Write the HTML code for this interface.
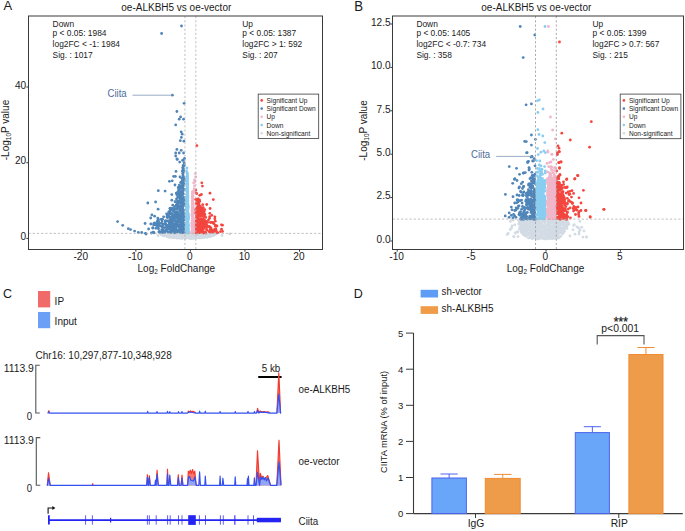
<!DOCTYPE html>
<html><head><meta charset="utf-8"><style>
html,body{margin:0;padding:0;background:#fff;}
svg{display:block;font-family:"Liberation Sans", sans-serif;}
</style></head><body>
<svg width="685" height="531" viewBox="0 0 685 531">
<rect width="685" height="531" fill="#fff"/>
<text transform="translate(3.40,10.40) scale(1,1.045)" font-size="13.0" fill="#1a1a1a" text-anchor="start" >A</text>
<text transform="translate(176.30,11.30) scale(1,1.045)" font-size="10" fill="#1a1a1a" text-anchor="middle" >oe-ALKBH5 vs oe-vector</text>
<g fill="#d3dbe4"><circle cx="185.3" cy="236.4" r="1.4"/><circle cx="211.8" cy="235.9" r="1.4"/><circle cx="188.4" cy="236.5" r="1.4"/><circle cx="170.3" cy="236.2" r="1.4"/><circle cx="195.3" cy="237.6" r="1.4"/><circle cx="165.3" cy="235.1" r="1.4"/><circle cx="198.8" cy="233.8" r="1.4"/><circle cx="196.6" cy="236.7" r="1.4"/><circle cx="168.8" cy="233.7" r="1.4"/><circle cx="189.6" cy="233.9" r="1.4"/><circle cx="170.7" cy="234.8" r="1.4"/><circle cx="184.7" cy="237.8" r="1.4"/><circle cx="189.1" cy="236.8" r="1.4"/><circle cx="188.0" cy="236.9" r="1.4"/><circle cx="185.6" cy="235.0" r="1.4"/><circle cx="207.1" cy="237.1" r="1.4"/><circle cx="177.7" cy="234.7" r="1.4"/><circle cx="176.2" cy="234.0" r="1.4"/><circle cx="202.9" cy="235.6" r="1.4"/><circle cx="207.4" cy="235.5" r="1.4"/><circle cx="211.0" cy="235.9" r="1.4"/><circle cx="203.6" cy="234.9" r="1.4"/><circle cx="164.9" cy="235.3" r="1.4"/><circle cx="166.6" cy="234.8" r="1.4"/><circle cx="165.7" cy="233.9" r="1.4"/><circle cx="204.6" cy="234.5" r="1.4"/><circle cx="191.3" cy="235.8" r="1.4"/><circle cx="170.7" cy="237.3" r="1.4"/><circle cx="167.3" cy="236.8" r="1.4"/><circle cx="166.5" cy="235.7" r="1.4"/><circle cx="171.9" cy="234.9" r="1.4"/><circle cx="177.0" cy="238.0" r="1.4"/><circle cx="171.8" cy="235.6" r="1.4"/><circle cx="207.8" cy="236.8" r="1.4"/><circle cx="171.9" cy="234.9" r="1.4"/><circle cx="203.3" cy="235.2" r="1.4"/><circle cx="176.6" cy="234.0" r="1.4"/><circle cx="173.6" cy="236.6" r="1.4"/><circle cx="180.8" cy="235.9" r="1.4"/><circle cx="192.2" cy="237.9" r="1.4"/><circle cx="170.2" cy="234.4" r="1.4"/><circle cx="174.0" cy="234.5" r="1.4"/><circle cx="209.4" cy="236.6" r="1.4"/><circle cx="183.6" cy="234.1" r="1.4"/><circle cx="173.4" cy="237.1" r="1.4"/><circle cx="174.4" cy="237.7" r="1.4"/><circle cx="193.4" cy="235.1" r="1.4"/><circle cx="169.8" cy="237.2" r="1.4"/><circle cx="163.9" cy="234.7" r="1.4"/><circle cx="191.3" cy="237.9" r="1.4"/><circle cx="194.4" cy="235.0" r="1.4"/><circle cx="211.4" cy="234.6" r="1.4"/><circle cx="185.0" cy="233.9" r="1.4"/><circle cx="169.9" cy="235.4" r="1.4"/><circle cx="192.0" cy="234.3" r="1.4"/><circle cx="180.3" cy="238.1" r="1.4"/><circle cx="198.7" cy="236.5" r="1.4"/><circle cx="167.9" cy="233.8" r="1.4"/><circle cx="187.0" cy="237.3" r="1.4"/><circle cx="201.3" cy="237.1" r="1.4"/><circle cx="179.7" cy="237.0" r="1.4"/><circle cx="183.4" cy="237.6" r="1.4"/><circle cx="208.4" cy="236.5" r="1.4"/><circle cx="195.0" cy="235.5" r="1.4"/><circle cx="192.6" cy="236.6" r="1.4"/><circle cx="200.8" cy="235.5" r="1.4"/><circle cx="201.2" cy="236.5" r="1.4"/><circle cx="184.7" cy="237.8" r="1.4"/><circle cx="186.9" cy="234.8" r="1.4"/><circle cx="199.1" cy="236.1" r="1.4"/><circle cx="194.4" cy="238.2" r="1.4"/><circle cx="174.3" cy="233.7" r="1.4"/><circle cx="176.9" cy="237.0" r="1.4"/><circle cx="171.3" cy="234.4" r="1.4"/><circle cx="184.7" cy="238.1" r="1.4"/><circle cx="178.3" cy="236.9" r="1.4"/><circle cx="171.1" cy="235.8" r="1.4"/><circle cx="209.3" cy="235.5" r="1.4"/><circle cx="192.7" cy="235.2" r="1.4"/><circle cx="167.6" cy="236.1" r="1.4"/><circle cx="175.5" cy="234.4" r="1.4"/><circle cx="185.2" cy="235.0" r="1.4"/><circle cx="172.0" cy="235.7" r="1.4"/><circle cx="195.0" cy="236.1" r="1.4"/><circle cx="177.7" cy="237.8" r="1.4"/><circle cx="164.2" cy="233.8" r="1.4"/><circle cx="208.9" cy="233.8" r="1.4"/><circle cx="199.7" cy="236.5" r="1.4"/><circle cx="177.3" cy="237.6" r="1.4"/><circle cx="161.1" cy="234.3" r="1.4"/><circle cx="185.5" cy="233.7" r="1.4"/><circle cx="206.5" cy="234.8" r="1.4"/><circle cx="167.9" cy="233.8" r="1.4"/><circle cx="195.2" cy="235.8" r="1.4"/><circle cx="195.3" cy="236.9" r="1.4"/><circle cx="198.3" cy="234.6" r="1.4"/><circle cx="186.6" cy="234.5" r="1.4"/><circle cx="200.0" cy="234.5" r="1.4"/><circle cx="175.3" cy="235.3" r="1.4"/><circle cx="199.0" cy="236.2" r="1.4"/><circle cx="194.4" cy="237.4" r="1.4"/><circle cx="182.0" cy="237.6" r="1.4"/><circle cx="210.7" cy="234.0" r="1.4"/><circle cx="167.3" cy="235.9" r="1.4"/><circle cx="195.0" cy="238.1" r="1.4"/><circle cx="181.1" cy="236.4" r="1.4"/><circle cx="196.5" cy="234.6" r="1.4"/><circle cx="200.4" cy="237.7" r="1.4"/><circle cx="195.9" cy="237.2" r="1.4"/><circle cx="190.1" cy="237.6" r="1.4"/><circle cx="177.9" cy="238.1" r="1.4"/><circle cx="207.9" cy="235.3" r="1.4"/><circle cx="164.6" cy="235.8" r="1.4"/><circle cx="190.8" cy="237.4" r="1.4"/><circle cx="187.3" cy="233.7" r="1.4"/><circle cx="205.3" cy="233.9" r="1.4"/><circle cx="204.8" cy="234.5" r="1.4"/><circle cx="178.8" cy="237.5" r="1.4"/><circle cx="167.9" cy="234.3" r="1.4"/><circle cx="188.9" cy="237.2" r="1.4"/><circle cx="207.0" cy="237.0" r="1.4"/><circle cx="213.2" cy="234.0" r="1.4"/><circle cx="172.4" cy="236.2" r="1.4"/><circle cx="176.2" cy="237.2" r="1.4"/><circle cx="195.8" cy="236.2" r="1.4"/><circle cx="207.2" cy="236.4" r="1.4"/><circle cx="177.5" cy="235.5" r="1.4"/><circle cx="192.1" cy="234.6" r="1.4"/><circle cx="190.0" cy="236.1" r="1.4"/><circle cx="193.9" cy="233.7" r="1.4"/><circle cx="182.4" cy="237.6" r="1.4"/><circle cx="191.5" cy="236.1" r="1.4"/><circle cx="198.7" cy="233.9" r="1.4"/><circle cx="190.2" cy="235.7" r="1.4"/><circle cx="175.1" cy="236.0" r="1.4"/><circle cx="167.1" cy="235.8" r="1.4"/><circle cx="186.7" cy="235.2" r="1.4"/><circle cx="170.7" cy="236.7" r="1.4"/><circle cx="211.8" cy="234.2" r="1.4"/><circle cx="203.6" cy="233.7" r="1.4"/><circle cx="170.9" cy="234.7" r="1.4"/><circle cx="198.5" cy="235.2" r="1.4"/><circle cx="179.9" cy="236.7" r="1.4"/><circle cx="166.9" cy="236.2" r="1.4"/><circle cx="174.0" cy="234.6" r="1.4"/><circle cx="189.7" cy="235.8" r="1.4"/><circle cx="181.0" cy="235.7" r="1.4"/><circle cx="189.6" cy="234.4" r="1.4"/><circle cx="171.4" cy="236.8" r="1.4"/><circle cx="195.8" cy="236.2" r="1.4"/><circle cx="207.7" cy="236.7" r="1.4"/><circle cx="208.0" cy="234.8" r="1.4"/><circle cx="201.5" cy="237.7" r="1.4"/><circle cx="210.5" cy="235.2" r="1.4"/><circle cx="209.7" cy="234.3" r="1.4"/><circle cx="173.4" cy="237.2" r="1.4"/><circle cx="174.5" cy="234.1" r="1.4"/><circle cx="206.6" cy="235.7" r="1.4"/><circle cx="204.2" cy="234.2" r="1.4"/><circle cx="182.6" cy="237.0" r="1.4"/><circle cx="161.0" cy="234.6" r="1.4"/><circle cx="214.2" cy="234.2" r="1.4"/><circle cx="188.3" cy="237.4" r="1.4"/><circle cx="188.2" cy="237.0" r="1.4"/><circle cx="170.6" cy="234.0" r="1.4"/><circle cx="165.9" cy="233.8" r="1.4"/><circle cx="190.9" cy="236.2" r="1.4"/><circle cx="191.8" cy="234.3" r="1.4"/><circle cx="170.3" cy="234.6" r="1.4"/><circle cx="211.9" cy="234.1" r="1.4"/><circle cx="185.9" cy="237.4" r="1.4"/><circle cx="178.3" cy="235.9" r="1.4"/><circle cx="188.9" cy="235.8" r="1.4"/><circle cx="193.7" cy="233.7" r="1.4"/><circle cx="199.3" cy="237.8" r="1.4"/><circle cx="170.2" cy="235.9" r="1.4"/><circle cx="201.4" cy="235.6" r="1.4"/><circle cx="170.9" cy="234.4" r="1.4"/><circle cx="188.7" cy="233.7" r="1.4"/><circle cx="199.5" cy="237.9" r="1.4"/><circle cx="195.2" cy="235.6" r="1.4"/><circle cx="193.6" cy="236.1" r="1.4"/><circle cx="201.7" cy="237.5" r="1.4"/><circle cx="205.6" cy="235.6" r="1.4"/><circle cx="198.9" cy="237.4" r="1.4"/><circle cx="202.9" cy="235.6" r="1.4"/><circle cx="200.5" cy="234.0" r="1.4"/><circle cx="179.1" cy="235.9" r="1.4"/><circle cx="195.8" cy="236.7" r="1.4"/><circle cx="197.3" cy="235.3" r="1.4"/><circle cx="196.9" cy="236.4" r="1.4"/><circle cx="189.9" cy="235.5" r="1.4"/><circle cx="199.3" cy="237.4" r="1.4"/><circle cx="214.9" cy="233.7" r="1.4"/><circle cx="194.5" cy="237.3" r="1.4"/><circle cx="174.4" cy="235.6" r="1.4"/><circle cx="162.8" cy="234.6" r="1.4"/><circle cx="181.0" cy="234.1" r="1.4"/><circle cx="190.8" cy="236.1" r="1.4"/><circle cx="205.3" cy="234.0" r="1.4"/><circle cx="193.5" cy="237.4" r="1.4"/><circle cx="169.0" cy="236.0" r="1.4"/><circle cx="169.5" cy="236.1" r="1.4"/><circle cx="194.2" cy="233.9" r="1.4"/><circle cx="212.9" cy="235.7" r="1.4"/><circle cx="189.5" cy="236.6" r="1.4"/><circle cx="180.5" cy="235.0" r="1.4"/><circle cx="196.7" cy="236.4" r="1.4"/><circle cx="175.9" cy="237.2" r="1.4"/><circle cx="176.6" cy="233.7" r="1.4"/><circle cx="173.7" cy="233.8" r="1.4"/><circle cx="181.8" cy="238.1" r="1.4"/><circle cx="201.9" cy="233.9" r="1.4"/><circle cx="184.1" cy="236.0" r="1.4"/><circle cx="214.5" cy="234.8" r="1.4"/><circle cx="189.3" cy="238.3" r="1.4"/><circle cx="200.5" cy="235.9" r="1.4"/><circle cx="193.8" cy="234.2" r="1.4"/><circle cx="195.0" cy="235.9" r="1.4"/><circle cx="171.4" cy="233.9" r="1.4"/><circle cx="189.6" cy="234.2" r="1.4"/><circle cx="184.8" cy="236.9" r="1.4"/><circle cx="185.5" cy="234.9" r="1.4"/><circle cx="192.6" cy="235.7" r="1.4"/><circle cx="203.6" cy="236.3" r="1.4"/><circle cx="201.1" cy="234.8" r="1.4"/><circle cx="203.9" cy="236.7" r="1.4"/><circle cx="180.1" cy="235.0" r="1.4"/><circle cx="198.4" cy="236.4" r="1.4"/><circle cx="193.1" cy="236.8" r="1.4"/><circle cx="202.2" cy="234.5" r="1.4"/><circle cx="162.2" cy="233.9" r="1.4"/><circle cx="175.2" cy="235.7" r="1.4"/><circle cx="194.9" cy="234.1" r="1.4"/><circle cx="190.3" cy="234.0" r="1.4"/><circle cx="190.8" cy="236.8" r="1.4"/><circle cx="180.9" cy="236.0" r="1.4"/><circle cx="171.8" cy="235.3" r="1.4"/><circle cx="201.7" cy="237.8" r="1.4"/><circle cx="164.2" cy="234.2" r="1.4"/><circle cx="205.3" cy="236.7" r="1.4"/><circle cx="203.1" cy="234.7" r="1.4"/><circle cx="183.8" cy="234.9" r="1.4"/><circle cx="205.4" cy="235.4" r="1.4"/><circle cx="178.2" cy="236.3" r="1.4"/><circle cx="183.9" cy="235.4" r="1.4"/><circle cx="164.4" cy="234.0" r="1.4"/><circle cx="191.6" cy="236.0" r="1.4"/><circle cx="198.4" cy="235.1" r="1.4"/><circle cx="203.4" cy="234.0" r="1.4"/><circle cx="171.9" cy="236.9" r="1.4"/><circle cx="164.6" cy="235.1" r="1.4"/><circle cx="200.6" cy="237.1" r="1.4"/><circle cx="175.8" cy="234.3" r="1.4"/><circle cx="180.0" cy="237.2" r="1.4"/><circle cx="180.5" cy="234.2" r="1.4"/><circle cx="199.7" cy="236.4" r="1.4"/><circle cx="211.1" cy="235.8" r="1.4"/><circle cx="205.0" cy="235.1" r="1.4"/><circle cx="177.8" cy="235.6" r="1.4"/><circle cx="173.9" cy="235.4" r="1.4"/><circle cx="180.5" cy="235.4" r="1.4"/><circle cx="182.2" cy="235.5" r="1.4"/><circle cx="170.9" cy="236.4" r="1.4"/><circle cx="204.6" cy="236.3" r="1.4"/><circle cx="206.8" cy="236.4" r="1.4"/><circle cx="209.3" cy="235.0" r="1.4"/><circle cx="190.5" cy="236.4" r="1.4"/><circle cx="205.0" cy="233.9" r="1.4"/><circle cx="190.6" cy="237.5" r="1.4"/><circle cx="164.7" cy="234.0" r="1.4"/><circle cx="196.3" cy="234.8" r="1.4"/><circle cx="172.3" cy="237.4" r="1.4"/><circle cx="189.2" cy="237.4" r="1.4"/><circle cx="182.1" cy="235.3" r="1.4"/><circle cx="187.6" cy="236.3" r="1.4"/><circle cx="200.4" cy="237.1" r="1.4"/><circle cx="211.2" cy="235.7" r="1.4"/><circle cx="206.3" cy="236.9" r="1.4"/><circle cx="189.3" cy="237.2" r="1.4"/><circle cx="204.9" cy="235.7" r="1.4"/><circle cx="183.5" cy="234.3" r="1.4"/><circle cx="181.0" cy="234.4" r="1.4"/><circle cx="171.4" cy="235.7" r="1.4"/><circle cx="163.3" cy="235.1" r="1.4"/><circle cx="203.5" cy="234.5" r="1.4"/><circle cx="163.5" cy="235.9" r="1.4"/><circle cx="192.7" cy="238.1" r="1.4"/><circle cx="162.0" cy="234.1" r="1.4"/><circle cx="170.3" cy="234.7" r="1.4"/><circle cx="173.2" cy="237.2" r="1.4"/><circle cx="193.3" cy="234.7" r="1.4"/><circle cx="170.4" cy="235.0" r="1.4"/><circle cx="177.5" cy="236.3" r="1.4"/><circle cx="205.8" cy="236.0" r="1.4"/><circle cx="211.2" cy="235.3" r="1.4"/><circle cx="190.7" cy="238.4" r="1.4"/><circle cx="187.0" cy="234.7" r="1.4"/><circle cx="204.9" cy="235.5" r="1.4"/><circle cx="189.5" cy="236.2" r="1.4"/><circle cx="196.8" cy="234.8" r="1.4"/><circle cx="180.8" cy="237.6" r="1.4"/><circle cx="199.9" cy="236.6" r="1.4"/><circle cx="168.8" cy="234.4" r="1.4"/><circle cx="178.0" cy="234.9" r="1.4"/><circle cx="208.7" cy="236.2" r="1.4"/><circle cx="174.9" cy="236.3" r="1.4"/><circle cx="164.6" cy="234.9" r="1.4"/><circle cx="200.1" cy="234.1" r="1.4"/><circle cx="186.9" cy="235.9" r="1.4"/><circle cx="208.0" cy="235.1" r="1.4"/><circle cx="204.2" cy="235.7" r="1.4"/><circle cx="211.3" cy="234.1" r="1.4"/><circle cx="206.3" cy="234.6" r="1.4"/><circle cx="190.4" cy="236.2" r="1.4"/><circle cx="177.4" cy="235.2" r="1.4"/><circle cx="164.3" cy="235.1" r="1.4"/><circle cx="186.2" cy="237.2" r="1.4"/><circle cx="180.1" cy="237.0" r="1.4"/><circle cx="165.9" cy="235.6" r="1.4"/><circle cx="206.5" cy="236.9" r="1.4"/><circle cx="199.8" cy="234.8" r="1.4"/><circle cx="191.6" cy="235.9" r="1.4"/><circle cx="204.8" cy="234.6" r="1.4"/><circle cx="194.5" cy="235.1" r="1.4"/><circle cx="181.1" cy="236.3" r="1.4"/><circle cx="176.7" cy="235.3" r="1.4"/><circle cx="182.0" cy="236.9" r="1.4"/><circle cx="174.4" cy="234.6" r="1.4"/><circle cx="201.0" cy="235.2" r="1.4"/><circle cx="200.5" cy="235.3" r="1.4"/><circle cx="206.3" cy="234.1" r="1.4"/><circle cx="167.9" cy="234.1" r="1.4"/><circle cx="198.0" cy="237.1" r="1.4"/><circle cx="170.1" cy="235.6" r="1.4"/><circle cx="206.9" cy="236.6" r="1.4"/><circle cx="165.0" cy="234.7" r="1.4"/><circle cx="168.8" cy="234.2" r="1.4"/><circle cx="182.8" cy="234.0" r="1.4"/><circle cx="211.6" cy="235.7" r="1.4"/><circle cx="188.6" cy="236.8" r="1.4"/><circle cx="202.9" cy="237.7" r="1.4"/><circle cx="181.6" cy="235.3" r="1.4"/><circle cx="183.1" cy="233.7" r="1.4"/><circle cx="182.4" cy="237.1" r="1.4"/><circle cx="197.0" cy="236.6" r="1.4"/><circle cx="179.2" cy="236.9" r="1.4"/><circle cx="166.0" cy="235.5" r="1.4"/><circle cx="188.5" cy="237.5" r="1.4"/><circle cx="206.2" cy="236.7" r="1.4"/><circle cx="210.6" cy="236.3" r="1.4"/><circle cx="179.7" cy="236.1" r="1.4"/><circle cx="200.1" cy="237.8" r="1.4"/><circle cx="195.1" cy="234.6" r="1.4"/><circle cx="164.7" cy="234.8" r="1.4"/><circle cx="192.3" cy="237.1" r="1.4"/><circle cx="180.2" cy="235.9" r="1.4"/><circle cx="190.4" cy="236.4" r="1.4"/><circle cx="191.4" cy="234.9" r="1.4"/><circle cx="205.8" cy="236.6" r="1.4"/><circle cx="173.5" cy="236.5" r="1.4"/><circle cx="206.5" cy="234.5" r="1.4"/><circle cx="190.7" cy="234.0" r="1.4"/><circle cx="161.8" cy="234.5" r="1.4"/><circle cx="196.9" cy="235.1" r="1.4"/><circle cx="197.6" cy="237.3" r="1.4"/><circle cx="181.4" cy="236.6" r="1.4"/><circle cx="205.0" cy="233.7" r="1.4"/><circle cx="171.2" cy="235.9" r="1.4"/><circle cx="168.0" cy="235.5" r="1.4"/><circle cx="191.9" cy="234.5" r="1.4"/><circle cx="189.1" cy="234.9" r="1.4"/><circle cx="191.8" cy="235.3" r="1.4"/><circle cx="195.9" cy="233.8" r="1.4"/><circle cx="197.6" cy="234.3" r="1.4"/><circle cx="186.3" cy="235.7" r="1.4"/><circle cx="194.9" cy="237.0" r="1.4"/><circle cx="202.4" cy="237.4" r="1.4"/><circle cx="182.9" cy="235.8" r="1.4"/><circle cx="191.7" cy="238.1" r="1.4"/><circle cx="189.5" cy="236.2" r="1.4"/><circle cx="184.2" cy="238.1" r="1.4"/><circle cx="178.0" cy="233.9" r="1.4"/><circle cx="201.0" cy="236.6" r="1.4"/><circle cx="202.1" cy="235.1" r="1.4"/><circle cx="193.2" cy="233.9" r="1.4"/><circle cx="167.0" cy="235.8" r="1.4"/><circle cx="188.1" cy="235.6" r="1.4"/><circle cx="189.5" cy="234.8" r="1.4"/><circle cx="177.2" cy="235.6" r="1.4"/><circle cx="173.2" cy="233.9" r="1.4"/><circle cx="197.3" cy="237.9" r="1.4"/><circle cx="183.6" cy="237.6" r="1.4"/><circle cx="172.4" cy="237.3" r="1.4"/><circle cx="191.7" cy="238.1" r="1.4"/><circle cx="166.9" cy="236.3" r="1.4"/><circle cx="213.3" cy="233.6" r="1.4"/><circle cx="173.7" cy="235.1" r="1.4"/><circle cx="178.2" cy="233.9" r="1.4"/><circle cx="182.2" cy="235.4" r="1.4"/><circle cx="192.8" cy="233.8" r="1.4"/><circle cx="177.2" cy="236.1" r="1.4"/><circle cx="186.5" cy="234.6" r="1.4"/><circle cx="210.2" cy="234.6" r="1.4"/><circle cx="206.9" cy="235.4" r="1.4"/><circle cx="186.5" cy="234.5" r="1.4"/><circle cx="171.3" cy="236.8" r="1.4"/><circle cx="162.8" cy="234.1" r="1.4"/><circle cx="200.6" cy="235.2" r="1.4"/><circle cx="199.9" cy="234.3" r="1.4"/><circle cx="184.9" cy="234.0" r="1.4"/><circle cx="172.5" cy="235.1" r="1.4"/><circle cx="199.8" cy="234.6" r="1.4"/><circle cx="170.1" cy="234.8" r="1.4"/><circle cx="197.2" cy="237.6" r="1.4"/><circle cx="180.9" cy="236.9" r="1.4"/><circle cx="209.5" cy="236.5" r="1.4"/><circle cx="172.8" cy="235.1" r="1.4"/><circle cx="175.5" cy="236.8" r="1.4"/><circle cx="184.7" cy="236.2" r="1.4"/><circle cx="189.7" cy="233.8" r="1.4"/><circle cx="193.6" cy="235.0" r="1.4"/><circle cx="174.1" cy="237.6" r="1.4"/><circle cx="164.9" cy="235.0" r="1.4"/><circle cx="202.3" cy="234.8" r="1.4"/><circle cx="175.6" cy="236.3" r="1.4"/><circle cx="215.3" cy="233.8" r="1.4"/><circle cx="185.9" cy="237.4" r="1.4"/><circle cx="181.5" cy="238.2" r="1.4"/><circle cx="188.0" cy="234.5" r="1.4"/><circle cx="191.1" cy="236.8" r="1.4"/><circle cx="180.1" cy="236.9" r="1.4"/><circle cx="203.8" cy="236.2" r="1.4"/><circle cx="188.3" cy="237.8" r="1.4"/><circle cx="198.3" cy="236.2" r="1.4"/><circle cx="213.3" cy="234.5" r="1.4"/><circle cx="203.7" cy="234.4" r="1.4"/><circle cx="194.1" cy="234.8" r="1.4"/><circle cx="184.7" cy="237.5" r="1.4"/><circle cx="204.0" cy="237.6" r="1.4"/><circle cx="173.2" cy="236.0" r="1.4"/><circle cx="172.4" cy="236.5" r="1.4"/><circle cx="187.9" cy="233.8" r="1.4"/><circle cx="193.4" cy="237.2" r="1.4"/><circle cx="192.1" cy="238.0" r="1.4"/><circle cx="170.1" cy="234.4" r="1.4"/><circle cx="184.3" cy="235.8" r="1.4"/><circle cx="174.7" cy="237.6" r="1.4"/><circle cx="191.9" cy="236.3" r="1.4"/><circle cx="204.3" cy="234.8" r="1.4"/><circle cx="168.2" cy="235.2" r="1.4"/><circle cx="162.4" cy="235.2" r="1.4"/><circle cx="194.8" cy="236.2" r="1.4"/><circle cx="174.8" cy="236.5" r="1.4"/><circle cx="169.6" cy="234.9" r="1.4"/><circle cx="168.9" cy="237.1" r="1.4"/><circle cx="163.4" cy="235.7" r="1.4"/><circle cx="180.4" cy="234.7" r="1.4"/><circle cx="214.4" cy="233.8" r="1.4"/><circle cx="187.4" cy="237.4" r="1.4"/><circle cx="215.2" cy="234.3" r="1.4"/><circle cx="185.5" cy="237.3" r="1.4"/><circle cx="162.2" cy="234.8" r="1.4"/><circle cx="209.8" cy="234.3" r="1.4"/><circle cx="182.0" cy="235.1" r="1.4"/><circle cx="183.8" cy="234.0" r="1.4"/><circle cx="202.7" cy="237.3" r="1.4"/><circle cx="172.9" cy="234.9" r="1.4"/><circle cx="190.9" cy="234.8" r="1.4"/><circle cx="185.8" cy="238.3" r="1.4"/><circle cx="180.4" cy="235.3" r="1.4"/><circle cx="196.4" cy="233.9" r="1.4"/><circle cx="179.2" cy="237.1" r="1.4"/><circle cx="208.4" cy="236.6" r="1.4"/><circle cx="209.6" cy="235.9" r="1.4"/><circle cx="182.0" cy="237.8" r="1.4"/><circle cx="181.3" cy="237.5" r="1.4"/><circle cx="172.1" cy="235.3" r="1.4"/><circle cx="170.3" cy="236.3" r="1.4"/><circle cx="169.2" cy="234.6" r="1.4"/><circle cx="172.0" cy="235.9" r="1.4"/><circle cx="177.3" cy="235.8" r="1.4"/><circle cx="208.3" cy="234.6" r="1.4"/><circle cx="181.4" cy="234.0" r="1.4"/><circle cx="198.7" cy="235.4" r="1.4"/><circle cx="175.4" cy="233.7" r="1.4"/><circle cx="170.2" cy="234.9" r="1.4"/><circle cx="182.0" cy="238.2" r="1.4"/><circle cx="200.1" cy="234.9" r="1.4"/><circle cx="180.2" cy="234.4" r="1.4"/><circle cx="212.5" cy="235.4" r="1.4"/><circle cx="202.9" cy="237.2" r="1.4"/><circle cx="210.8" cy="233.7" r="1.4"/><circle cx="178.0" cy="235.5" r="1.4"/><circle cx="178.2" cy="237.5" r="1.4"/><circle cx="189.1" cy="233.9" r="1.4"/><circle cx="182.1" cy="234.8" r="1.4"/><circle cx="162.3" cy="234.4" r="1.4"/><circle cx="193.3" cy="233.8" r="1.4"/><circle cx="177.5" cy="235.7" r="1.4"/><circle cx="190.5" cy="234.3" r="1.4"/><circle cx="199.6" cy="234.9" r="1.4"/><circle cx="200.6" cy="236.9" r="1.4"/><circle cx="168.2" cy="234.6" r="1.4"/><circle cx="175.7" cy="237.2" r="1.4"/><circle cx="182.7" cy="235.5" r="1.4"/><circle cx="208.5" cy="234.7" r="1.4"/><circle cx="176.4" cy="235.3" r="1.4"/><circle cx="172.1" cy="233.8" r="1.4"/><circle cx="191.7" cy="237.6" r="1.4"/><circle cx="172.1" cy="237.0" r="1.4"/><circle cx="208.6" cy="234.8" r="1.4"/><circle cx="195.4" cy="234.0" r="1.4"/><circle cx="184.0" cy="235.6" r="1.4"/><circle cx="163.4" cy="235.5" r="1.4"/><circle cx="178.4" cy="236.1" r="1.4"/><circle cx="175.7" cy="234.4" r="1.4"/><circle cx="182.5" cy="236.0" r="1.4"/><circle cx="169.3" cy="236.9" r="1.4"/><circle cx="173.4" cy="234.1" r="1.4"/><circle cx="179.1" cy="235.7" r="1.4"/><circle cx="168.4" cy="236.5" r="1.4"/><circle cx="199.3" cy="236.4" r="1.4"/><circle cx="199.2" cy="233.7" r="1.4"/><circle cx="181.9" cy="235.4" r="1.4"/><circle cx="163.5" cy="235.6" r="1.4"/><circle cx="192.8" cy="235.9" r="1.4"/><circle cx="178.2" cy="234.9" r="1.4"/><circle cx="209.9" cy="236.4" r="1.4"/><circle cx="174.7" cy="236.9" r="1.4"/><circle cx="170.4" cy="235.9" r="1.4"/><circle cx="180.3" cy="236.5" r="1.4"/><circle cx="195.1" cy="236.7" r="1.4"/><circle cx="183.0" cy="235.7" r="1.4"/><circle cx="175.5" cy="237.7" r="1.4"/><circle cx="209.3" cy="235.5" r="1.4"/><circle cx="210.9" cy="233.8" r="1.4"/><circle cx="167.6" cy="236.1" r="1.4"/><circle cx="177.3" cy="235.4" r="1.4"/><circle cx="214.7" cy="234.3" r="1.4"/><circle cx="170.8" cy="234.7" r="1.4"/><circle cx="198.1" cy="234.8" r="1.4"/><circle cx="182.1" cy="234.8" r="1.4"/><circle cx="187.6" cy="236.9" r="1.4"/><circle cx="190.7" cy="236.7" r="1.4"/><circle cx="191.4" cy="237.8" r="1.4"/><circle cx="179.4" cy="238.0" r="1.4"/><circle cx="177.5" cy="237.2" r="1.4"/><circle cx="198.9" cy="237.0" r="1.4"/><circle cx="168.9" cy="236.7" r="1.4"/><circle cx="187.5" cy="236.4" r="1.4"/><circle cx="180.7" cy="235.0" r="1.4"/><circle cx="201.9" cy="236.3" r="1.4"/><circle cx="173.3" cy="234.8" r="1.4"/><circle cx="178.2" cy="234.5" r="1.4"/><circle cx="188.8" cy="234.2" r="1.4"/><circle cx="163.5" cy="233.9" r="1.4"/><circle cx="166.3" cy="235.9" r="1.4"/><circle cx="203.2" cy="236.0" r="1.4"/><circle cx="208.7" cy="233.9" r="1.4"/><circle cx="174.2" cy="236.1" r="1.4"/><circle cx="204.6" cy="235.6" r="1.4"/><circle cx="200.1" cy="234.9" r="1.4"/><circle cx="200.1" cy="235.2" r="1.4"/><circle cx="178.7" cy="237.4" r="1.4"/><circle cx="191.8" cy="235.7" r="1.4"/><circle cx="199.6" cy="236.7" r="1.4"/><circle cx="167.0" cy="235.5" r="1.4"/><circle cx="197.5" cy="234.8" r="1.4"/><circle cx="170.3" cy="233.7" r="1.4"/><circle cx="192.8" cy="238.3" r="1.4"/><circle cx="214.3" cy="234.3" r="1.4"/><circle cx="198.5" cy="235.7" r="1.4"/><circle cx="195.4" cy="235.6" r="1.4"/><circle cx="166.6" cy="233.8" r="1.4"/><circle cx="176.0" cy="237.3" r="1.4"/><circle cx="215.6" cy="234.2" r="1.4"/><circle cx="178.5" cy="233.7" r="1.4"/><circle cx="190.4" cy="236.0" r="1.4"/><circle cx="180.9" cy="235.1" r="1.4"/><circle cx="175.9" cy="235.6" r="1.4"/><circle cx="194.6" cy="237.4" r="1.4"/><circle cx="198.9" cy="236.3" r="1.4"/><circle cx="204.8" cy="234.3" r="1.4"/><circle cx="169.8" cy="234.1" r="1.4"/><circle cx="212.3" cy="234.9" r="1.4"/><circle cx="187.3" cy="234.2" r="1.4"/><circle cx="178.1" cy="233.7" r="1.4"/><circle cx="191.7" cy="234.3" r="1.4"/><circle cx="195.0" cy="235.0" r="1.4"/><circle cx="172.7" cy="236.0" r="1.4"/><circle cx="180.5" cy="234.9" r="1.4"/><circle cx="162.9" cy="233.9" r="1.4"/><circle cx="210.0" cy="235.1" r="1.4"/><circle cx="164.4" cy="234.5" r="1.4"/><circle cx="187.1" cy="235.7" r="1.4"/><circle cx="205.2" cy="235.6" r="1.4"/><circle cx="196.8" cy="236.7" r="1.4"/><circle cx="184.8" cy="237.8" r="1.4"/><circle cx="200.6" cy="234.5" r="1.4"/><circle cx="161.5" cy="234.4" r="1.4"/><circle cx="166.7" cy="234.0" r="1.4"/><circle cx="180.1" cy="237.4" r="1.4"/><circle cx="177.4" cy="236.2" r="1.4"/><circle cx="213.7" cy="233.7" r="1.4"/><circle cx="189.5" cy="237.7" r="1.4"/><circle cx="204.4" cy="237.3" r="1.4"/><circle cx="182.4" cy="237.6" r="1.4"/><circle cx="215.2" cy="234.1" r="1.4"/><circle cx="213.2" cy="235.6" r="1.4"/><circle cx="199.5" cy="234.9" r="1.4"/><circle cx="210.9" cy="233.7" r="1.4"/><circle cx="192.3" cy="234.7" r="1.4"/><circle cx="181.8" cy="235.4" r="1.4"/><circle cx="196.8" cy="237.7" r="1.4"/><circle cx="180.4" cy="236.8" r="1.4"/><circle cx="179.8" cy="235.0" r="1.4"/><circle cx="210.7" cy="235.2" r="1.4"/><circle cx="165.3" cy="235.3" r="1.4"/><circle cx="201.5" cy="234.7" r="1.4"/><circle cx="201.6" cy="236.3" r="1.4"/><circle cx="198.1" cy="234.5" r="1.4"/><circle cx="165.9" cy="234.3" r="1.4"/><circle cx="179.6" cy="235.8" r="1.4"/><circle cx="182.6" cy="235.2" r="1.4"/><circle cx="190.1" cy="238.4" r="1.4"/><circle cx="178.0" cy="237.4" r="1.4"/><circle cx="172.3" cy="235.6" r="1.4"/><circle cx="199.5" cy="234.5" r="1.4"/><circle cx="175.3" cy="237.0" r="1.4"/><circle cx="213.1" cy="235.2" r="1.4"/><circle cx="170.3" cy="235.4" r="1.4"/><circle cx="215.4" cy="234.3" r="1.4"/><circle cx="195.5" cy="235.5" r="1.4"/><circle cx="196.1" cy="234.7" r="1.4"/><circle cx="194.5" cy="238.0" r="1.4"/><circle cx="208.0" cy="236.7" r="1.4"/><circle cx="188.3" cy="236.4" r="1.4"/><circle cx="198.6" cy="235.9" r="1.4"/><circle cx="197.3" cy="235.7" r="1.4"/><circle cx="181.5" cy="234.8" r="1.4"/><circle cx="193.6" cy="236.5" r="1.4"/><circle cx="188.9" cy="233.8" r="1.4"/><circle cx="195.1" cy="235.8" r="1.4"/><circle cx="193.2" cy="236.6" r="1.4"/><circle cx="212.2" cy="234.4" r="1.4"/><circle cx="201.3" cy="235.2" r="1.4"/><circle cx="182.5" cy="237.9" r="1.4"/><circle cx="187.5" cy="234.8" r="1.4"/><circle cx="207.1" cy="236.8" r="1.4"/><circle cx="229.7" cy="234.0" r="1.4"/><circle cx="222.0" cy="235.5" r="1.4"/><circle cx="158.0" cy="235.5" r="1.4"/></g>
<g fill="#4f85b8"><circle cx="182.5" cy="219.7" r="1.4"/><circle cx="169.0" cy="222.5" r="1.4"/><circle cx="180.1" cy="220.0" r="1.4"/><circle cx="171.3" cy="209.2" r="1.4"/><circle cx="182.6" cy="182.0" r="1.4"/><circle cx="183.6" cy="231.2" r="1.4"/><circle cx="175.6" cy="215.5" r="1.4"/><circle cx="180.0" cy="230.2" r="1.4"/><circle cx="183.5" cy="205.2" r="1.4"/><circle cx="167.8" cy="225.5" r="1.4"/><circle cx="183.3" cy="183.5" r="1.4"/><circle cx="165.3" cy="222.1" r="1.4"/><circle cx="178.5" cy="216.5" r="1.4"/><circle cx="169.6" cy="227.3" r="1.4"/><circle cx="182.4" cy="213.7" r="1.4"/><circle cx="184.1" cy="226.5" r="1.4"/><circle cx="183.8" cy="226.0" r="1.4"/><circle cx="181.2" cy="227.1" r="1.4"/><circle cx="181.9" cy="215.5" r="1.4"/><circle cx="182.5" cy="183.3" r="1.4"/><circle cx="182.7" cy="194.4" r="1.4"/><circle cx="184.2" cy="179.1" r="1.4"/><circle cx="180.2" cy="229.7" r="1.4"/><circle cx="176.4" cy="218.0" r="1.4"/><circle cx="177.7" cy="231.1" r="1.4"/><circle cx="167.1" cy="216.1" r="1.4"/><circle cx="159.6" cy="223.4" r="1.4"/><circle cx="173.7" cy="216.6" r="1.4"/><circle cx="164.9" cy="232.2" r="1.4"/><circle cx="181.6" cy="232.3" r="1.4"/><circle cx="180.7" cy="211.7" r="1.4"/><circle cx="168.7" cy="228.9" r="1.4"/><circle cx="182.1" cy="194.3" r="1.4"/><circle cx="182.0" cy="195.1" r="1.4"/><circle cx="183.6" cy="176.8" r="1.4"/><circle cx="182.8" cy="193.2" r="1.4"/><circle cx="179.3" cy="194.2" r="1.4"/><circle cx="177.0" cy="209.2" r="1.4"/><circle cx="183.3" cy="215.4" r="1.4"/><circle cx="182.9" cy="204.9" r="1.4"/><circle cx="179.6" cy="193.0" r="1.4"/><circle cx="184.1" cy="164.4" r="1.4"/><circle cx="180.1" cy="194.7" r="1.4"/><circle cx="183.8" cy="216.3" r="1.4"/><circle cx="182.9" cy="206.2" r="1.4"/><circle cx="176.6" cy="213.2" r="1.4"/><circle cx="184.2" cy="165.6" r="1.4"/><circle cx="175.4" cy="229.1" r="1.4"/><circle cx="172.0" cy="224.7" r="1.4"/><circle cx="174.2" cy="219.6" r="1.4"/><circle cx="161.5" cy="223.1" r="1.4"/><circle cx="177.7" cy="212.6" r="1.4"/><circle cx="158.3" cy="223.9" r="1.4"/><circle cx="179.3" cy="197.4" r="1.4"/><circle cx="171.2" cy="222.3" r="1.4"/><circle cx="183.6" cy="197.4" r="1.4"/><circle cx="180.0" cy="195.3" r="1.4"/><circle cx="166.6" cy="225.2" r="1.4"/><circle cx="184.0" cy="184.0" r="1.4"/><circle cx="167.8" cy="214.7" r="1.4"/><circle cx="171.2" cy="226.5" r="1.4"/><circle cx="179.8" cy="232.0" r="1.4"/><circle cx="179.8" cy="228.0" r="1.4"/><circle cx="177.3" cy="230.4" r="1.4"/><circle cx="173.7" cy="230.5" r="1.4"/><circle cx="180.0" cy="207.8" r="1.4"/><circle cx="177.0" cy="204.4" r="1.4"/><circle cx="184.3" cy="216.8" r="1.4"/><circle cx="163.4" cy="224.3" r="1.4"/><circle cx="180.8" cy="192.7" r="1.4"/><circle cx="152.7" cy="228.0" r="1.4"/><circle cx="174.4" cy="211.8" r="1.4"/><circle cx="171.4" cy="223.4" r="1.4"/><circle cx="179.3" cy="185.1" r="1.4"/><circle cx="182.0" cy="178.6" r="1.4"/><circle cx="172.5" cy="217.6" r="1.4"/><circle cx="162.1" cy="221.0" r="1.4"/><circle cx="182.5" cy="171.3" r="1.4"/><circle cx="182.7" cy="220.3" r="1.4"/><circle cx="170.8" cy="220.4" r="1.4"/><circle cx="176.8" cy="212.5" r="1.4"/><circle cx="180.1" cy="194.8" r="1.4"/><circle cx="171.0" cy="218.9" r="1.4"/><circle cx="181.0" cy="211.6" r="1.4"/><circle cx="182.9" cy="167.8" r="1.4"/><circle cx="176.3" cy="193.1" r="1.4"/><circle cx="175.6" cy="223.6" r="1.4"/><circle cx="153.0" cy="227.9" r="1.4"/><circle cx="180.7" cy="227.9" r="1.4"/><circle cx="182.3" cy="225.8" r="1.4"/><circle cx="177.4" cy="225.0" r="1.4"/><circle cx="183.5" cy="230.8" r="1.4"/><circle cx="176.1" cy="214.9" r="1.4"/><circle cx="179.1" cy="220.3" r="1.4"/><circle cx="174.4" cy="226.2" r="1.4"/><circle cx="183.2" cy="218.4" r="1.4"/><circle cx="180.0" cy="202.7" r="1.4"/><circle cx="179.7" cy="215.2" r="1.4"/><circle cx="181.1" cy="185.9" r="1.4"/><circle cx="162.8" cy="232.4" r="1.4"/><circle cx="180.8" cy="218.8" r="1.4"/><circle cx="168.7" cy="227.2" r="1.4"/><circle cx="176.3" cy="231.6" r="1.4"/><circle cx="171.9" cy="229.5" r="1.4"/><circle cx="183.5" cy="226.4" r="1.4"/><circle cx="180.6" cy="182.6" r="1.4"/><circle cx="182.6" cy="171.3" r="1.4"/><circle cx="172.6" cy="217.5" r="1.4"/><circle cx="178.9" cy="217.9" r="1.4"/><circle cx="173.7" cy="229.3" r="1.4"/><circle cx="175.8" cy="221.6" r="1.4"/><circle cx="171.5" cy="222.6" r="1.4"/><circle cx="164.7" cy="227.6" r="1.4"/><circle cx="181.6" cy="213.3" r="1.4"/><circle cx="180.2" cy="207.9" r="1.4"/><circle cx="182.4" cy="203.6" r="1.4"/><circle cx="172.6" cy="222.4" r="1.4"/><circle cx="165.8" cy="224.2" r="1.4"/><circle cx="169.6" cy="216.8" r="1.4"/><circle cx="183.1" cy="201.7" r="1.4"/><circle cx="166.9" cy="217.1" r="1.4"/><circle cx="183.8" cy="197.6" r="1.4"/><circle cx="167.6" cy="220.8" r="1.4"/><circle cx="170.8" cy="226.0" r="1.4"/><circle cx="182.1" cy="192.7" r="1.4"/><circle cx="184.5" cy="181.0" r="1.4"/><circle cx="174.6" cy="220.4" r="1.4"/><circle cx="182.7" cy="190.3" r="1.4"/><circle cx="182.0" cy="208.6" r="1.4"/><circle cx="177.9" cy="202.1" r="1.4"/><circle cx="178.8" cy="215.2" r="1.4"/><circle cx="173.6" cy="219.3" r="1.4"/><circle cx="172.1" cy="221.7" r="1.4"/><circle cx="181.2" cy="182.1" r="1.4"/><circle cx="181.7" cy="227.6" r="1.4"/><circle cx="183.1" cy="190.0" r="1.4"/><circle cx="173.5" cy="228.4" r="1.4"/><circle cx="168.6" cy="214.1" r="1.4"/><circle cx="182.4" cy="228.2" r="1.4"/><circle cx="175.6" cy="201.9" r="1.4"/><circle cx="182.2" cy="203.0" r="1.4"/><circle cx="175.6" cy="213.3" r="1.4"/><circle cx="179.1" cy="220.7" r="1.4"/><circle cx="161.8" cy="229.6" r="1.4"/><circle cx="175.7" cy="214.5" r="1.4"/><circle cx="179.7" cy="230.7" r="1.4"/><circle cx="177.5" cy="200.8" r="1.4"/><circle cx="181.1" cy="223.5" r="1.4"/><circle cx="169.8" cy="211.5" r="1.4"/><circle cx="161.0" cy="219.3" r="1.4"/><circle cx="181.6" cy="231.9" r="1.4"/><circle cx="154.7" cy="223.0" r="1.4"/><circle cx="183.9" cy="184.7" r="1.4"/><circle cx="182.7" cy="226.4" r="1.4"/><circle cx="162.9" cy="227.7" r="1.4"/><circle cx="179.3" cy="190.0" r="1.4"/><circle cx="166.3" cy="230.0" r="1.4"/><circle cx="178.1" cy="221.7" r="1.4"/><circle cx="153.9" cy="223.4" r="1.4"/><circle cx="183.5" cy="203.7" r="1.4"/><circle cx="180.8" cy="194.0" r="1.4"/><circle cx="181.9" cy="201.4" r="1.4"/><circle cx="168.9" cy="228.4" r="1.4"/><circle cx="173.4" cy="217.8" r="1.4"/><circle cx="177.6" cy="231.2" r="1.4"/><circle cx="175.8" cy="229.6" r="1.4"/><circle cx="172.5" cy="229.3" r="1.4"/><circle cx="183.0" cy="204.5" r="1.4"/><circle cx="183.1" cy="165.7" r="1.4"/><circle cx="182.1" cy="181.1" r="1.4"/><circle cx="174.1" cy="224.2" r="1.4"/><circle cx="179.0" cy="222.1" r="1.4"/><circle cx="183.4" cy="204.6" r="1.4"/><circle cx="183.2" cy="217.1" r="1.4"/><circle cx="183.5" cy="218.8" r="1.4"/><circle cx="178.4" cy="216.0" r="1.4"/><circle cx="170.2" cy="210.0" r="1.4"/><circle cx="181.0" cy="215.9" r="1.4"/><circle cx="172.2" cy="223.9" r="1.4"/><circle cx="175.6" cy="212.5" r="1.4"/><circle cx="180.4" cy="221.2" r="1.4"/><circle cx="183.7" cy="228.5" r="1.4"/><circle cx="172.2" cy="226.1" r="1.4"/><circle cx="163.1" cy="231.8" r="1.4"/><circle cx="184.6" cy="201.0" r="1.4"/><circle cx="182.9" cy="231.8" r="1.4"/><circle cx="157.8" cy="223.6" r="1.4"/><circle cx="182.2" cy="199.6" r="1.4"/><circle cx="165.5" cy="221.1" r="1.4"/><circle cx="177.7" cy="205.7" r="1.4"/><circle cx="175.8" cy="232.3" r="1.4"/><circle cx="179.7" cy="219.9" r="1.4"/><circle cx="169.5" cy="226.4" r="1.4"/><circle cx="167.6" cy="217.5" r="1.4"/><circle cx="177.3" cy="222.0" r="1.4"/><circle cx="176.6" cy="230.2" r="1.4"/><circle cx="181.6" cy="221.7" r="1.4"/><circle cx="177.9" cy="197.4" r="1.4"/><circle cx="172.2" cy="226.8" r="1.4"/><circle cx="178.8" cy="191.7" r="1.4"/><circle cx="166.7" cy="230.7" r="1.4"/><circle cx="182.9" cy="189.2" r="1.4"/><circle cx="158.9" cy="231.9" r="1.4"/><circle cx="176.5" cy="206.3" r="1.4"/><circle cx="167.9" cy="214.7" r="1.4"/><circle cx="162.9" cy="223.9" r="1.4"/><circle cx="176.8" cy="194.7" r="1.4"/><circle cx="183.9" cy="204.9" r="1.4"/><circle cx="181.4" cy="192.6" r="1.4"/><circle cx="180.8" cy="197.6" r="1.4"/><circle cx="182.7" cy="198.9" r="1.4"/><circle cx="157.3" cy="222.0" r="1.4"/><circle cx="178.9" cy="219.4" r="1.4"/><circle cx="182.9" cy="231.5" r="1.4"/><circle cx="167.9" cy="215.1" r="1.4"/><circle cx="174.4" cy="208.6" r="1.4"/><circle cx="181.5" cy="229.3" r="1.4"/><circle cx="181.6" cy="232.1" r="1.4"/><circle cx="183.0" cy="198.3" r="1.4"/><circle cx="174.9" cy="224.0" r="1.4"/><circle cx="178.2" cy="208.2" r="1.4"/><circle cx="157.6" cy="220.7" r="1.4"/><circle cx="169.9" cy="208.3" r="1.4"/><circle cx="183.4" cy="171.4" r="1.4"/><circle cx="184.3" cy="205.3" r="1.4"/><circle cx="183.4" cy="229.4" r="1.4"/><circle cx="184.5" cy="189.2" r="1.4"/><circle cx="184.2" cy="210.2" r="1.4"/><circle cx="183.8" cy="219.7" r="1.4"/><circle cx="151.4" cy="233.0" r="1.4"/><circle cx="171.0" cy="232.4" r="1.4"/><circle cx="184.6" cy="231.3" r="1.4"/><circle cx="178.0" cy="214.7" r="1.4"/><circle cx="182.9" cy="169.9" r="1.4"/><circle cx="172.8" cy="231.3" r="1.4"/><circle cx="183.9" cy="217.9" r="1.4"/><circle cx="180.3" cy="224.7" r="1.4"/><circle cx="181.3" cy="221.6" r="1.4"/><circle cx="183.6" cy="203.4" r="1.4"/><circle cx="167.8" cy="215.7" r="1.4"/><circle cx="180.0" cy="196.7" r="1.4"/><circle cx="166.9" cy="228.5" r="1.4"/><circle cx="175.9" cy="228.2" r="1.4"/><circle cx="175.9" cy="226.8" r="1.4"/><circle cx="159.5" cy="231.9" r="1.4"/><circle cx="159.3" cy="231.6" r="1.4"/><circle cx="183.5" cy="205.6" r="1.4"/><circle cx="153.9" cy="224.4" r="1.4"/><circle cx="172.7" cy="219.2" r="1.4"/><circle cx="162.5" cy="225.8" r="1.4"/><circle cx="181.1" cy="227.4" r="1.4"/><circle cx="159.6" cy="231.8" r="1.4"/><circle cx="183.8" cy="218.7" r="1.4"/><circle cx="178.3" cy="226.5" r="1.4"/><circle cx="180.8" cy="230.9" r="1.4"/><circle cx="182.4" cy="223.8" r="1.4"/><circle cx="177.5" cy="226.0" r="1.4"/><circle cx="180.2" cy="231.1" r="1.4"/><circle cx="174.2" cy="225.3" r="1.4"/><circle cx="179.1" cy="214.0" r="1.4"/><circle cx="161.4" cy="226.1" r="1.4"/><circle cx="164.6" cy="224.1" r="1.4"/><circle cx="174.1" cy="211.1" r="1.4"/><circle cx="179.8" cy="216.4" r="1.4"/><circle cx="157.0" cy="225.8" r="1.4"/><circle cx="171.0" cy="212.8" r="1.4"/><circle cx="168.2" cy="231.9" r="1.4"/><circle cx="177.5" cy="217.0" r="1.4"/><circle cx="168.3" cy="226.5" r="1.4"/><circle cx="170.8" cy="229.4" r="1.4"/><circle cx="173.7" cy="224.5" r="1.4"/><circle cx="169.5" cy="220.9" r="1.4"/><circle cx="177.9" cy="215.4" r="1.4"/><circle cx="170.8" cy="230.5" r="1.4"/><circle cx="162.8" cy="229.8" r="1.4"/><circle cx="184.4" cy="226.7" r="1.4"/><circle cx="178.7" cy="187.1" r="1.4"/><circle cx="184.3" cy="232.1" r="1.4"/><circle cx="183.3" cy="213.9" r="1.4"/><circle cx="183.7" cy="230.9" r="1.4"/><circle cx="175.6" cy="215.5" r="1.4"/><circle cx="170.0" cy="214.2" r="1.4"/><circle cx="169.0" cy="217.1" r="1.4"/><circle cx="174.9" cy="209.4" r="1.4"/><circle cx="173.9" cy="230.9" r="1.4"/><circle cx="179.0" cy="188.2" r="1.4"/><circle cx="165.7" cy="220.7" r="1.4"/><circle cx="183.8" cy="225.8" r="1.4"/><circle cx="158.0" cy="227.6" r="1.4"/><circle cx="181.7" cy="217.8" r="1.4"/><circle cx="173.7" cy="227.8" r="1.4"/><circle cx="175.4" cy="227.5" r="1.4"/><circle cx="173.1" cy="227.2" r="1.4"/><circle cx="175.0" cy="216.4" r="1.4"/><circle cx="181.1" cy="200.9" r="1.4"/><circle cx="171.8" cy="229.1" r="1.4"/><circle cx="177.0" cy="193.6" r="1.4"/><circle cx="179.9" cy="210.6" r="1.4"/><circle cx="182.2" cy="231.0" r="1.4"/><circle cx="180.4" cy="217.3" r="1.4"/><circle cx="176.2" cy="205.2" r="1.4"/><circle cx="181.0" cy="220.0" r="1.4"/><circle cx="160.0" cy="225.9" r="1.4"/><circle cx="172.8" cy="205.2" r="1.4"/><circle cx="182.7" cy="213.1" r="1.4"/><circle cx="175.1" cy="201.7" r="1.4"/><circle cx="180.0" cy="227.2" r="1.4"/><circle cx="180.5" cy="193.8" r="1.4"/><circle cx="183.0" cy="215.9" r="1.4"/><circle cx="167.6" cy="216.4" r="1.4"/><circle cx="177.2" cy="204.6" r="1.4"/><circle cx="182.4" cy="214.8" r="1.4"/><circle cx="168.5" cy="214.6" r="1.4"/><circle cx="182.8" cy="201.5" r="1.4"/><circle cx="158.5" cy="228.8" r="1.4"/><circle cx="182.8" cy="180.5" r="1.4"/><circle cx="181.9" cy="222.9" r="1.4"/><circle cx="172.3" cy="226.2" r="1.4"/><circle cx="180.3" cy="206.6" r="1.4"/><circle cx="155.9" cy="228.3" r="1.4"/><circle cx="183.5" cy="171.7" r="1.4"/><circle cx="184.2" cy="199.6" r="1.4"/><circle cx="179.9" cy="195.8" r="1.4"/><circle cx="182.0" cy="208.6" r="1.4"/><circle cx="174.9" cy="217.3" r="1.4"/><circle cx="170.4" cy="209.0" r="1.4"/><circle cx="184.2" cy="204.3" r="1.4"/><circle cx="178.1" cy="213.3" r="1.4"/><circle cx="166.6" cy="213.8" r="1.4"/><circle cx="177.4" cy="231.8" r="1.4"/><circle cx="179.0" cy="219.8" r="1.4"/><circle cx="183.2" cy="226.1" r="1.4"/><circle cx="182.7" cy="232.7" r="1.4"/><circle cx="182.0" cy="225.7" r="1.4"/><circle cx="153.1" cy="232.1" r="1.4"/><circle cx="173.4" cy="227.4" r="1.4"/><circle cx="183.1" cy="185.2" r="1.4"/><circle cx="183.9" cy="203.0" r="1.4"/><circle cx="177.3" cy="193.3" r="1.4"/><circle cx="184.3" cy="219.8" r="1.4"/><circle cx="182.1" cy="178.4" r="1.4"/><circle cx="182.5" cy="207.4" r="1.4"/><circle cx="181.9" cy="216.7" r="1.4"/><circle cx="177.2" cy="224.4" r="1.4"/><circle cx="180.2" cy="195.2" r="1.4"/><circle cx="183.0" cy="174.1" r="1.4"/><circle cx="176.8" cy="204.8" r="1.4"/><circle cx="182.7" cy="198.1" r="1.4"/><circle cx="173.3" cy="219.1" r="1.4"/><circle cx="169.9" cy="231.6" r="1.4"/><circle cx="182.6" cy="209.2" r="1.4"/><circle cx="171.8" cy="216.6" r="1.4"/><circle cx="176.2" cy="205.6" r="1.4"/><circle cx="183.3" cy="194.1" r="1.4"/><circle cx="153.5" cy="232.4" r="1.4"/><circle cx="180.9" cy="230.5" r="1.4"/><circle cx="182.2" cy="232.0" r="1.4"/><circle cx="175.9" cy="231.1" r="1.4"/><circle cx="168.8" cy="211.9" r="1.4"/><circle cx="168.7" cy="227.7" r="1.4"/><circle cx="164.0" cy="230.6" r="1.4"/><circle cx="183.6" cy="218.4" r="1.4"/><circle cx="184.1" cy="218.5" r="1.4"/><circle cx="184.2" cy="219.1" r="1.4"/><circle cx="183.1" cy="212.2" r="1.4"/><circle cx="166.6" cy="226.2" r="1.4"/><circle cx="172.4" cy="209.9" r="1.4"/><circle cx="179.4" cy="190.9" r="1.4"/><circle cx="182.5" cy="202.1" r="1.4"/><circle cx="179.7" cy="225.3" r="1.4"/><circle cx="159.3" cy="225.7" r="1.4"/><circle cx="180.1" cy="193.0" r="1.4"/><circle cx="177.9" cy="191.7" r="1.4"/><circle cx="181.6" cy="226.9" r="1.4"/><circle cx="178.6" cy="205.6" r="1.4"/><circle cx="172.6" cy="208.4" r="1.4"/><circle cx="164.5" cy="232.0" r="1.4"/><circle cx="181.7" cy="220.6" r="1.4"/><circle cx="154.1" cy="232.9" r="1.4"/><circle cx="162.0" cy="226.9" r="1.4"/><circle cx="180.9" cy="225.3" r="1.4"/><circle cx="176.9" cy="222.7" r="1.4"/><circle cx="169.4" cy="224.0" r="1.4"/><circle cx="180.2" cy="207.2" r="1.4"/><circle cx="156.8" cy="224.1" r="1.4"/><circle cx="179.8" cy="232.0" r="1.4"/><circle cx="180.2" cy="210.0" r="1.4"/><circle cx="180.4" cy="194.8" r="1.4"/><circle cx="180.5" cy="203.0" r="1.4"/><circle cx="153.8" cy="224.9" r="1.4"/><circle cx="178.4" cy="230.6" r="1.4"/><circle cx="183.9" cy="224.1" r="1.4"/><circle cx="177.8" cy="220.5" r="1.4"/><circle cx="181.7" cy="232.7" r="1.4"/><circle cx="181.7" cy="191.3" r="1.4"/><circle cx="179.3" cy="189.0" r="1.4"/><circle cx="184.1" cy="231.2" r="1.4"/><circle cx="169.1" cy="212.5" r="1.4"/><circle cx="182.7" cy="187.7" r="1.4"/><circle cx="183.2" cy="178.1" r="1.4"/><circle cx="183.1" cy="224.6" r="1.4"/><circle cx="180.1" cy="197.9" r="1.4"/><circle cx="174.6" cy="232.8" r="1.4"/><circle cx="182.4" cy="183.9" r="1.4"/><circle cx="184.1" cy="213.8" r="1.4"/><circle cx="184.5" cy="158.5" r="1.4"/><circle cx="176.5" cy="198.9" r="1.4"/><circle cx="183.0" cy="177.9" r="1.4"/><circle cx="172.6" cy="230.0" r="1.4"/><circle cx="183.3" cy="225.7" r="1.4"/><circle cx="182.9" cy="175.9" r="1.4"/><circle cx="179.3" cy="221.0" r="1.4"/><circle cx="177.1" cy="220.7" r="1.4"/><circle cx="170.5" cy="228.3" r="1.4"/><circle cx="184.0" cy="177.2" r="1.4"/><circle cx="177.7" cy="202.0" r="1.4"/><circle cx="173.7" cy="215.0" r="1.4"/><circle cx="179.0" cy="224.9" r="1.4"/><circle cx="179.7" cy="219.3" r="1.4"/><circle cx="174.5" cy="207.0" r="1.4"/><circle cx="170.7" cy="218.7" r="1.4"/><circle cx="174.4" cy="220.3" r="1.4"/><circle cx="178.8" cy="189.2" r="1.4"/><circle cx="177.9" cy="215.0" r="1.4"/><circle cx="180.3" cy="198.9" r="1.4"/><circle cx="176.2" cy="217.6" r="1.4"/><circle cx="182.2" cy="192.8" r="1.4"/><circle cx="184.4" cy="204.6" r="1.4"/><circle cx="183.1" cy="190.9" r="1.4"/><circle cx="183.3" cy="185.8" r="1.4"/><circle cx="161.6" cy="231.9" r="1.4"/><circle cx="172.2" cy="223.2" r="1.4"/><circle cx="181.9" cy="226.3" r="1.4"/><circle cx="163.6" cy="232.7" r="1.4"/><circle cx="174.1" cy="228.2" r="1.4"/><circle cx="169.9" cy="220.2" r="1.4"/><circle cx="182.3" cy="222.2" r="1.4"/><circle cx="169.6" cy="225.8" r="1.4"/><circle cx="170.7" cy="232.2" r="1.4"/><circle cx="173.3" cy="211.1" r="1.4"/><circle cx="177.8" cy="196.7" r="1.4"/><circle cx="180.2" cy="225.9" r="1.4"/><circle cx="182.9" cy="221.8" r="1.4"/><circle cx="183.1" cy="210.0" r="1.4"/><circle cx="178.1" cy="204.0" r="1.4"/><circle cx="177.3" cy="223.8" r="1.4"/><circle cx="172.5" cy="217.8" r="1.4"/><circle cx="170.8" cy="208.2" r="1.4"/><circle cx="182.9" cy="167.7" r="1.4"/><circle cx="181.7" cy="225.8" r="1.4"/><circle cx="183.7" cy="230.3" r="1.4"/><circle cx="172.8" cy="229.1" r="1.4"/><circle cx="182.8" cy="223.0" r="1.4"/><circle cx="178.3" cy="187.6" r="1.4"/><circle cx="173.9" cy="220.0" r="1.4"/><circle cx="160.0" cy="232.7" r="1.4"/><circle cx="182.2" cy="221.7" r="1.4"/><circle cx="179.5" cy="221.5" r="1.4"/><circle cx="181.7" cy="205.0" r="1.4"/><circle cx="171.4" cy="221.0" r="1.4"/><circle cx="174.1" cy="229.3" r="1.4"/><circle cx="163.6" cy="216.8" r="1.4"/><circle cx="180.8" cy="205.6" r="1.4"/><circle cx="177.3" cy="211.7" r="1.4"/><circle cx="180.3" cy="200.4" r="1.4"/><circle cx="180.0" cy="210.2" r="1.4"/><circle cx="184.1" cy="162.6" r="1.4"/><circle cx="182.6" cy="186.7" r="1.4"/><circle cx="182.8" cy="173.6" r="1.4"/><circle cx="182.4" cy="214.0" r="1.4"/><circle cx="182.4" cy="202.2" r="1.4"/><circle cx="179.1" cy="214.0" r="1.4"/><circle cx="158.6" cy="224.6" r="1.4"/><circle cx="181.1" cy="232.8" r="1.4"/><circle cx="180.3" cy="187.7" r="1.4"/><circle cx="178.9" cy="229.7" r="1.4"/><circle cx="174.3" cy="230.8" r="1.4"/><circle cx="181.0" cy="225.4" r="1.4"/><circle cx="182.0" cy="220.0" r="1.4"/><circle cx="178.9" cy="220.7" r="1.4"/><circle cx="181.3" cy="197.4" r="1.4"/><circle cx="184.3" cy="218.5" r="1.4"/><circle cx="171.8" cy="218.2" r="1.4"/><circle cx="172.5" cy="215.4" r="1.4"/><circle cx="180.2" cy="186.8" r="1.4"/><circle cx="183.1" cy="230.9" r="1.4"/><circle cx="182.1" cy="229.4" r="1.4"/><circle cx="183.4" cy="165.9" r="1.4"/><circle cx="180.2" cy="207.1" r="1.4"/><circle cx="172.3" cy="213.7" r="1.4"/><circle cx="183.2" cy="171.0" r="1.4"/><circle cx="181.8" cy="215.1" r="1.4"/><circle cx="162.4" cy="230.3" r="1.4"/><circle cx="181.1" cy="231.1" r="1.4"/><circle cx="183.6" cy="169.1" r="1.4"/><circle cx="182.7" cy="229.4" r="1.4"/><circle cx="171.0" cy="224.0" r="1.4"/><circle cx="174.2" cy="227.8" r="1.4"/><circle cx="177.3" cy="204.7" r="1.4"/><circle cx="181.1" cy="188.0" r="1.4"/><circle cx="183.9" cy="224.3" r="1.4"/><circle cx="180.5" cy="231.3" r="1.4"/><circle cx="158.5" cy="221.2" r="1.4"/><circle cx="162.5" cy="219.2" r="1.4"/><circle cx="184.3" cy="223.2" r="1.4"/><circle cx="176.5" cy="206.1" r="1.4"/><circle cx="175.6" cy="225.6" r="1.4"/><circle cx="182.8" cy="183.2" r="1.4"/><circle cx="179.8" cy="227.4" r="1.4"/><circle cx="179.7" cy="200.3" r="1.4"/><circle cx="156.2" cy="225.1" r="1.4"/><circle cx="155.4" cy="224.8" r="1.4"/><circle cx="181.4" cy="202.9" r="1.4"/><circle cx="173.9" cy="228.8" r="1.4"/><circle cx="175.8" cy="227.7" r="1.4"/><circle cx="177.2" cy="206.7" r="1.4"/><circle cx="182.7" cy="200.2" r="1.4"/><circle cx="182.1" cy="222.1" r="1.4"/><circle cx="179.5" cy="201.3" r="1.4"/><circle cx="177.5" cy="218.1" r="1.4"/><circle cx="117.6" cy="221.6" r="1.4"/><circle cx="122.7" cy="225.3" r="1.4"/><circle cx="128.3" cy="228.7" r="1.4"/><circle cx="130.5" cy="229.6" r="1.4"/><circle cx="134.6" cy="231.1" r="1.4"/><circle cx="138.3" cy="232.5" r="1.4"/><circle cx="141.7" cy="232.5" r="1.4"/><circle cx="145.4" cy="233.3" r="1.4"/><circle cx="146.1" cy="234.0" r="1.4"/><circle cx="145.1" cy="223.5" r="1.4"/><circle cx="148.6" cy="229.0" r="1.4"/><circle cx="150.8" cy="224.0" r="1.4"/><circle cx="147.8" cy="203.0" r="1.4"/><circle cx="155.6" cy="202.0" r="1.4"/><circle cx="158.3" cy="190.7" r="1.4"/><circle cx="165.1" cy="191.1" r="1.4"/><circle cx="158.1" cy="209.2" r="1.4"/><circle cx="150.7" cy="218.0" r="1.4"/><circle cx="151.9" cy="214.9" r="1.4"/><circle cx="154.6" cy="216.2" r="1.4"/><circle cx="157.8" cy="218.1" r="1.4"/><circle cx="171.8" cy="194.6" r="1.4"/><circle cx="171.8" cy="200.2" r="1.4"/><circle cx="158.3" cy="219.5" r="1.4"/><circle cx="184.1" cy="103.3" r="1.4"/><circle cx="176.9" cy="111.5" r="1.4"/><circle cx="180.6" cy="116.9" r="1.4"/><circle cx="179.2" cy="119.2" r="1.4"/><circle cx="183.6" cy="119.2" r="1.4"/><circle cx="175.7" cy="124.9" r="1.4"/><circle cx="181.2" cy="131.9" r="1.4"/><circle cx="182.2" cy="134.2" r="1.4"/><circle cx="181.4" cy="137.4" r="1.4"/><circle cx="180.3" cy="140.7" r="1.4"/><circle cx="183.9" cy="141.2" r="1.4"/><circle cx="176.9" cy="149.4" r="1.4"/><circle cx="181.2" cy="150.3" r="1.4"/><circle cx="175.7" cy="153.0" r="1.4"/><circle cx="179.2" cy="153.0" r="1.4"/><circle cx="183.6" cy="153.0" r="1.4"/><circle cx="175.7" cy="156.0" r="1.4"/><circle cx="177.0" cy="159.0" r="1.4"/><circle cx="181.5" cy="26.0" r="1.4"/><circle cx="161.6" cy="33.5" r="1.4"/><circle cx="172.4" cy="95.2" r="1.4"/><circle cx="177.3" cy="159.4" r="1.4"/><circle cx="179.7" cy="162.1" r="1.4"/><circle cx="182.5" cy="160.3" r="1.4"/><circle cx="183.6" cy="160.0" r="1.4"/><circle cx="176.0" cy="171.4" r="1.4"/><circle cx="180.0" cy="177.0" r="1.4"/><circle cx="173.6" cy="176.4" r="1.4"/><circle cx="175.4" cy="176.4" r="1.4"/><circle cx="169.4" cy="181.3" r="1.4"/><circle cx="172.2" cy="180.8" r="1.4"/><circle cx="175.0" cy="185.0" r="1.4"/></g>
<g fill="#f3463f"><circle cx="198.5" cy="231.8" r="1.4"/><circle cx="202.2" cy="212.9" r="1.4"/><circle cx="199.7" cy="201.4" r="1.4"/><circle cx="203.8" cy="220.6" r="1.4"/><circle cx="196.6" cy="200.7" r="1.4"/><circle cx="198.6" cy="208.8" r="1.4"/><circle cx="203.3" cy="227.6" r="1.4"/><circle cx="201.8" cy="230.1" r="1.4"/><circle cx="201.8" cy="210.1" r="1.4"/><circle cx="211.1" cy="229.1" r="1.4"/><circle cx="200.3" cy="224.2" r="1.4"/><circle cx="199.9" cy="230.1" r="1.4"/><circle cx="197.8" cy="218.6" r="1.4"/><circle cx="196.5" cy="224.3" r="1.4"/><circle cx="200.9" cy="227.8" r="1.4"/><circle cx="196.5" cy="225.3" r="1.4"/><circle cx="198.2" cy="210.2" r="1.4"/><circle cx="203.3" cy="233.0" r="1.4"/><circle cx="197.1" cy="225.2" r="1.4"/><circle cx="197.9" cy="227.1" r="1.4"/><circle cx="196.2" cy="221.8" r="1.4"/><circle cx="202.5" cy="208.4" r="1.4"/><circle cx="198.5" cy="230.5" r="1.4"/><circle cx="196.9" cy="199.1" r="1.4"/><circle cx="197.5" cy="211.5" r="1.4"/><circle cx="200.3" cy="228.4" r="1.4"/><circle cx="196.5" cy="214.0" r="1.4"/><circle cx="195.6" cy="213.0" r="1.4"/><circle cx="197.6" cy="210.2" r="1.4"/><circle cx="204.7" cy="232.2" r="1.4"/><circle cx="202.0" cy="224.0" r="1.4"/><circle cx="202.1" cy="222.0" r="1.4"/><circle cx="201.2" cy="226.3" r="1.4"/><circle cx="197.3" cy="206.8" r="1.4"/><circle cx="203.2" cy="222.1" r="1.4"/><circle cx="211.1" cy="222.4" r="1.4"/><circle cx="198.5" cy="210.7" r="1.4"/><circle cx="197.4" cy="218.7" r="1.4"/><circle cx="195.7" cy="227.0" r="1.4"/><circle cx="214.3" cy="229.7" r="1.4"/><circle cx="197.1" cy="226.4" r="1.4"/><circle cx="197.3" cy="202.4" r="1.4"/><circle cx="202.6" cy="210.3" r="1.4"/><circle cx="197.1" cy="233.0" r="1.4"/><circle cx="217.9" cy="232.9" r="1.4"/><circle cx="204.7" cy="226.7" r="1.4"/><circle cx="196.1" cy="222.4" r="1.4"/><circle cx="198.6" cy="205.1" r="1.4"/><circle cx="195.7" cy="199.3" r="1.4"/><circle cx="199.4" cy="228.1" r="1.4"/><circle cx="196.3" cy="203.1" r="1.4"/><circle cx="210.5" cy="229.2" r="1.4"/><circle cx="201.1" cy="208.2" r="1.4"/><circle cx="206.4" cy="224.7" r="1.4"/><circle cx="200.0" cy="210.9" r="1.4"/><circle cx="204.1" cy="211.4" r="1.4"/><circle cx="202.6" cy="207.8" r="1.4"/><circle cx="210.2" cy="232.2" r="1.4"/><circle cx="195.7" cy="226.8" r="1.4"/><circle cx="199.6" cy="221.0" r="1.4"/><circle cx="198.6" cy="218.7" r="1.4"/><circle cx="197.3" cy="218.5" r="1.4"/><circle cx="205.1" cy="224.5" r="1.4"/><circle cx="198.9" cy="212.8" r="1.4"/><circle cx="197.1" cy="229.8" r="1.4"/><circle cx="200.5" cy="215.3" r="1.4"/><circle cx="197.0" cy="220.5" r="1.4"/><circle cx="201.8" cy="231.4" r="1.4"/><circle cx="200.1" cy="223.2" r="1.4"/><circle cx="203.3" cy="216.4" r="1.4"/><circle cx="197.4" cy="222.2" r="1.4"/><circle cx="196.9" cy="220.5" r="1.4"/><circle cx="197.6" cy="215.4" r="1.4"/><circle cx="196.9" cy="217.0" r="1.4"/><circle cx="197.0" cy="210.8" r="1.4"/><circle cx="203.1" cy="232.0" r="1.4"/><circle cx="200.2" cy="225.9" r="1.4"/><circle cx="207.6" cy="226.3" r="1.4"/><circle cx="202.8" cy="231.3" r="1.4"/><circle cx="197.7" cy="225.0" r="1.4"/><circle cx="201.8" cy="212.4" r="1.4"/><circle cx="203.1" cy="225.1" r="1.4"/><circle cx="201.6" cy="226.3" r="1.4"/><circle cx="198.7" cy="211.0" r="1.4"/><circle cx="204.3" cy="213.9" r="1.4"/><circle cx="198.2" cy="199.0" r="1.4"/><circle cx="213.1" cy="230.7" r="1.4"/><circle cx="196.3" cy="231.4" r="1.4"/><circle cx="211.7" cy="230.5" r="1.4"/><circle cx="203.6" cy="216.3" r="1.4"/><circle cx="204.8" cy="224.3" r="1.4"/><circle cx="204.4" cy="219.8" r="1.4"/><circle cx="197.5" cy="229.8" r="1.4"/><circle cx="203.2" cy="207.6" r="1.4"/><circle cx="198.7" cy="225.6" r="1.4"/><circle cx="197.4" cy="214.2" r="1.4"/><circle cx="196.0" cy="229.3" r="1.4"/><circle cx="198.0" cy="210.2" r="1.4"/><circle cx="207.6" cy="222.4" r="1.4"/><circle cx="203.9" cy="212.1" r="1.4"/><circle cx="199.6" cy="212.5" r="1.4"/><circle cx="200.8" cy="210.0" r="1.4"/><circle cx="196.5" cy="211.9" r="1.4"/><circle cx="195.5" cy="209.7" r="1.4"/><circle cx="198.2" cy="206.1" r="1.4"/><circle cx="197.4" cy="229.4" r="1.4"/><circle cx="198.1" cy="201.6" r="1.4"/><circle cx="216.1" cy="230.2" r="1.4"/><circle cx="200.1" cy="220.2" r="1.4"/><circle cx="197.0" cy="217.0" r="1.4"/><circle cx="199.5" cy="200.0" r="1.4"/><circle cx="200.6" cy="228.7" r="1.4"/><circle cx="196.3" cy="214.7" r="1.4"/><circle cx="197.2" cy="223.0" r="1.4"/><circle cx="196.0" cy="192.9" r="1.4"/><circle cx="199.3" cy="229.8" r="1.4"/><circle cx="198.8" cy="206.2" r="1.4"/><circle cx="199.5" cy="201.1" r="1.4"/><circle cx="196.5" cy="212.3" r="1.4"/><circle cx="199.8" cy="206.1" r="1.4"/><circle cx="196.5" cy="223.0" r="1.4"/><circle cx="207.1" cy="230.3" r="1.4"/><circle cx="202.0" cy="220.4" r="1.4"/><circle cx="199.0" cy="211.8" r="1.4"/><circle cx="201.0" cy="218.7" r="1.4"/><circle cx="196.0" cy="220.8" r="1.4"/><circle cx="202.7" cy="225.4" r="1.4"/><circle cx="196.3" cy="217.6" r="1.4"/><circle cx="202.4" cy="232.5" r="1.4"/><circle cx="197.1" cy="215.2" r="1.4"/><circle cx="201.3" cy="228.1" r="1.4"/><circle cx="196.7" cy="224.1" r="1.4"/><circle cx="198.1" cy="226.4" r="1.4"/><circle cx="197.1" cy="214.8" r="1.4"/><circle cx="210.1" cy="227.3" r="1.4"/><circle cx="197.8" cy="214.1" r="1.4"/><circle cx="196.2" cy="227.3" r="1.4"/><circle cx="197.1" cy="208.3" r="1.4"/><circle cx="204.7" cy="223.5" r="1.4"/><circle cx="198.7" cy="216.5" r="1.4"/><circle cx="197.3" cy="230.6" r="1.4"/><circle cx="198.3" cy="214.3" r="1.4"/><circle cx="200.4" cy="229.2" r="1.4"/><circle cx="203.6" cy="216.2" r="1.4"/><circle cx="198.9" cy="226.7" r="1.4"/><circle cx="199.5" cy="225.1" r="1.4"/><circle cx="198.4" cy="204.8" r="1.4"/><circle cx="196.9" cy="214.6" r="1.4"/><circle cx="204.1" cy="232.6" r="1.4"/><circle cx="201.0" cy="229.4" r="1.4"/><circle cx="201.2" cy="218.9" r="1.4"/><circle cx="206.2" cy="227.6" r="1.4"/><circle cx="198.9" cy="206.5" r="1.4"/><circle cx="197.1" cy="229.1" r="1.4"/><circle cx="202.6" cy="226.0" r="1.4"/><circle cx="205.9" cy="233.0" r="1.4"/><circle cx="200.8" cy="214.1" r="1.4"/><circle cx="195.9" cy="232.3" r="1.4"/><circle cx="209.3" cy="226.3" r="1.4"/><circle cx="207.9" cy="226.6" r="1.4"/><circle cx="195.6" cy="212.5" r="1.4"/><circle cx="198.8" cy="209.6" r="1.4"/><circle cx="209.3" cy="231.5" r="1.4"/><circle cx="203.3" cy="228.1" r="1.4"/><circle cx="205.1" cy="232.1" r="1.4"/><circle cx="200.2" cy="206.2" r="1.4"/><circle cx="200.9" cy="231.3" r="1.4"/><circle cx="196.5" cy="214.8" r="1.4"/><circle cx="201.9" cy="211.2" r="1.4"/><circle cx="202.3" cy="224.6" r="1.4"/><circle cx="198.4" cy="201.5" r="1.4"/><circle cx="200.3" cy="221.0" r="1.4"/><circle cx="203.5" cy="209.8" r="1.4"/><circle cx="201.8" cy="209.7" r="1.4"/><circle cx="204.3" cy="214.4" r="1.4"/><circle cx="202.3" cy="223.6" r="1.4"/><circle cx="197.8" cy="217.6" r="1.4"/><circle cx="209.9" cy="231.8" r="1.4"/><circle cx="197.8" cy="203.1" r="1.4"/><circle cx="197.5" cy="213.3" r="1.4"/><circle cx="197.1" cy="208.9" r="1.4"/><circle cx="197.0" cy="231.2" r="1.4"/><circle cx="207.0" cy="225.9" r="1.4"/><circle cx="203.6" cy="228.7" r="1.4"/><circle cx="200.0" cy="215.8" r="1.4"/><circle cx="198.0" cy="220.9" r="1.4"/><circle cx="206.3" cy="221.5" r="1.4"/><circle cx="198.5" cy="229.3" r="1.4"/><circle cx="199.6" cy="232.5" r="1.4"/><circle cx="197.3" cy="228.0" r="1.4"/><circle cx="196.2" cy="222.6" r="1.4"/><circle cx="202.7" cy="219.6" r="1.4"/><circle cx="201.4" cy="229.1" r="1.4"/><circle cx="196.6" cy="214.4" r="1.4"/><circle cx="195.9" cy="223.5" r="1.4"/><circle cx="196.4" cy="226.1" r="1.4"/><circle cx="205.2" cy="223.6" r="1.4"/><circle cx="203.0" cy="231.7" r="1.4"/><circle cx="199.4" cy="208.4" r="1.4"/><circle cx="202.7" cy="204.7" r="1.4"/><circle cx="195.6" cy="222.4" r="1.4"/><circle cx="198.9" cy="222.1" r="1.4"/><circle cx="196.1" cy="225.1" r="1.4"/><circle cx="198.9" cy="203.4" r="1.4"/><circle cx="198.2" cy="204.4" r="1.4"/><circle cx="204.3" cy="221.3" r="1.4"/><circle cx="197.7" cy="226.1" r="1.4"/><circle cx="199.5" cy="232.6" r="1.4"/><circle cx="198.5" cy="212.1" r="1.4"/><circle cx="203.1" cy="227.8" r="1.4"/><circle cx="199.6" cy="215.4" r="1.4"/><circle cx="201.4" cy="213.1" r="1.4"/><circle cx="200.8" cy="230.0" r="1.4"/><circle cx="196.7" cy="202.9" r="1.4"/><circle cx="200.1" cy="228.2" r="1.4"/><circle cx="200.8" cy="225.8" r="1.4"/><circle cx="206.1" cy="224.8" r="1.4"/><circle cx="196.8" cy="208.1" r="1.4"/><circle cx="195.9" cy="232.2" r="1.4"/><circle cx="199.8" cy="208.6" r="1.4"/><circle cx="203.1" cy="219.5" r="1.4"/><circle cx="198.4" cy="203.1" r="1.4"/><circle cx="198.8" cy="200.1" r="1.4"/><circle cx="206.6" cy="229.5" r="1.4"/><circle cx="201.5" cy="222.0" r="1.4"/><circle cx="205.5" cy="222.2" r="1.4"/><circle cx="196.3" cy="203.5" r="1.4"/><circle cx="199.0" cy="222.5" r="1.4"/><circle cx="201.6" cy="225.4" r="1.4"/><circle cx="196.2" cy="232.2" r="1.4"/><circle cx="202.1" cy="212.6" r="1.4"/><circle cx="213.3" cy="223.1" r="1.4"/><circle cx="213.7" cy="223.6" r="1.4"/><circle cx="202.6" cy="212.0" r="1.4"/><circle cx="209.5" cy="218.4" r="1.4"/><circle cx="212.8" cy="222.4" r="1.4"/><circle cx="217.0" cy="226.0" r="1.4"/><circle cx="204.2" cy="232.4" r="1.4"/><circle cx="202.0" cy="215.7" r="1.4"/><circle cx="208.4" cy="220.1" r="1.4"/><circle cx="199.7" cy="214.9" r="1.4"/><circle cx="215.7" cy="231.1" r="1.4"/><circle cx="210.3" cy="228.7" r="1.4"/><circle cx="211.8" cy="215.3" r="1.4"/><circle cx="203.9" cy="220.0" r="1.4"/><circle cx="210.3" cy="222.3" r="1.4"/><circle cx="215.4" cy="225.1" r="1.4"/><circle cx="215.2" cy="225.9" r="1.4"/><circle cx="202.6" cy="215.1" r="1.4"/><circle cx="201.1" cy="227.2" r="1.4"/><circle cx="215.7" cy="228.6" r="1.4"/><circle cx="205.7" cy="217.4" r="1.4"/><circle cx="220.4" cy="231.6" r="1.4"/><circle cx="199.2" cy="220.5" r="1.4"/><circle cx="204.9" cy="214.8" r="1.4"/><circle cx="199.7" cy="230.3" r="1.4"/><circle cx="202.5" cy="224.7" r="1.4"/><circle cx="204.8" cy="209.6" r="1.4"/><circle cx="214.9" cy="216.8" r="1.4"/><circle cx="203.1" cy="220.1" r="1.4"/><circle cx="201.6" cy="222.3" r="1.4"/><circle cx="209.7" cy="216.7" r="1.4"/><circle cx="221.5" cy="229.2" r="1.4"/><circle cx="204.1" cy="214.6" r="1.4"/><circle cx="214.6" cy="231.1" r="1.4"/><circle cx="214.8" cy="218.8" r="1.4"/><circle cx="212.6" cy="232.2" r="1.4"/><circle cx="202.5" cy="231.7" r="1.4"/><circle cx="221.4" cy="224.8" r="1.4"/><circle cx="199.4" cy="207.2" r="1.4"/><circle cx="196.9" cy="145.7" r="1.4"/><circle cx="201.8" cy="182.8" r="1.4"/><circle cx="202.4" cy="186.1" r="1.4"/><circle cx="210.0" cy="193.2" r="1.4"/><circle cx="213.3" cy="199.6" r="1.4"/><circle cx="206.7" cy="204.5" r="1.4"/><circle cx="210.1" cy="208.5" r="1.4"/><circle cx="209.8" cy="213.3" r="1.4"/><circle cx="215.3" cy="221.2" r="1.4"/><circle cx="222.5" cy="225.2" r="1.4"/><circle cx="222.5" cy="231.4" r="1.4"/><circle cx="217.1" cy="232.6" r="1.4"/><circle cx="211.0" cy="228.0" r="1.4"/><circle cx="195.8" cy="190.0" r="1.4"/><circle cx="196.7" cy="193.7" r="1.4"/><circle cx="199.7" cy="195.3" r="1.4"/><circle cx="201.4" cy="194.5" r="1.4"/></g>
<g fill="#89cdf1"><circle cx="187.4" cy="185.0" r="1.4"/><circle cx="187.9" cy="218.3" r="1.4"/><circle cx="187.1" cy="224.2" r="1.4"/><circle cx="188.2" cy="217.9" r="1.4"/><circle cx="187.4" cy="181.5" r="1.4"/><circle cx="187.3" cy="213.6" r="1.4"/><circle cx="187.1" cy="219.4" r="1.4"/><circle cx="187.5" cy="190.7" r="1.4"/><circle cx="187.3" cy="230.9" r="1.4"/><circle cx="188.1" cy="227.9" r="1.4"/><circle cx="188.0" cy="215.0" r="1.4"/><circle cx="187.1" cy="204.0" r="1.4"/><circle cx="187.2" cy="211.8" r="1.4"/><circle cx="186.9" cy="191.1" r="1.4"/><circle cx="186.8" cy="217.2" r="1.4"/><circle cx="187.0" cy="213.4" r="1.4"/><circle cx="187.1" cy="207.8" r="1.4"/><circle cx="186.2" cy="230.0" r="1.4"/><circle cx="186.9" cy="189.1" r="1.4"/><circle cx="187.4" cy="191.5" r="1.4"/><circle cx="188.0" cy="207.6" r="1.4"/><circle cx="187.1" cy="194.3" r="1.4"/><circle cx="187.3" cy="230.8" r="1.4"/><circle cx="187.4" cy="205.5" r="1.4"/><circle cx="188.1" cy="231.3" r="1.4"/><circle cx="187.8" cy="208.3" r="1.4"/><circle cx="186.9" cy="232.1" r="1.4"/><circle cx="187.9" cy="203.9" r="1.4"/><circle cx="186.6" cy="207.6" r="1.4"/><circle cx="187.6" cy="202.5" r="1.4"/><circle cx="187.4" cy="195.8" r="1.4"/><circle cx="187.2" cy="187.6" r="1.4"/><circle cx="186.5" cy="219.6" r="1.4"/><circle cx="186.8" cy="215.9" r="1.4"/><circle cx="187.6" cy="209.2" r="1.4"/><circle cx="187.3" cy="176.4" r="1.4"/><circle cx="188.2" cy="214.4" r="1.4"/><circle cx="188.0" cy="213.6" r="1.4"/><circle cx="188.1" cy="228.6" r="1.4"/><circle cx="186.7" cy="213.1" r="1.4"/><circle cx="186.8" cy="200.4" r="1.4"/><circle cx="187.3" cy="184.4" r="1.4"/><circle cx="187.7" cy="221.8" r="1.4"/><circle cx="186.7" cy="224.2" r="1.4"/><circle cx="186.9" cy="190.5" r="1.4"/><circle cx="186.9" cy="212.3" r="1.4"/><circle cx="187.8" cy="223.1" r="1.4"/><circle cx="187.0" cy="203.2" r="1.4"/><circle cx="187.9" cy="212.4" r="1.4"/><circle cx="187.8" cy="228.8" r="1.4"/><circle cx="187.6" cy="221.7" r="1.4"/><circle cx="187.4" cy="178.9" r="1.4"/><circle cx="187.2" cy="176.5" r="1.4"/><circle cx="187.1" cy="197.5" r="1.4"/><circle cx="187.7" cy="224.0" r="1.4"/><circle cx="187.9" cy="196.6" r="1.4"/><circle cx="187.3" cy="178.2" r="1.4"/><circle cx="186.5" cy="226.3" r="1.4"/><circle cx="186.9" cy="218.6" r="1.4"/><circle cx="186.4" cy="214.6" r="1.4"/><circle cx="187.5" cy="223.0" r="1.4"/><circle cx="186.8" cy="208.9" r="1.4"/><circle cx="187.2" cy="189.7" r="1.4"/><circle cx="187.1" cy="206.1" r="1.4"/><circle cx="187.3" cy="198.3" r="1.4"/><circle cx="187.5" cy="202.2" r="1.4"/><circle cx="186.6" cy="206.4" r="1.4"/><circle cx="186.8" cy="191.2" r="1.4"/><circle cx="187.2" cy="207.5" r="1.4"/><circle cx="187.4" cy="201.9" r="1.4"/><circle cx="187.2" cy="222.6" r="1.4"/><circle cx="188.1" cy="216.2" r="1.4"/><circle cx="187.3" cy="173.9" r="1.4"/><circle cx="187.3" cy="187.7" r="1.4"/><circle cx="187.5" cy="226.3" r="1.4"/><circle cx="187.1" cy="224.1" r="1.4"/><circle cx="187.7" cy="230.8" r="1.4"/><circle cx="186.5" cy="227.2" r="1.4"/><circle cx="187.5" cy="196.0" r="1.4"/><circle cx="187.6" cy="196.5" r="1.4"/><circle cx="188.2" cy="214.6" r="1.4"/><circle cx="187.3" cy="210.9" r="1.4"/><circle cx="187.9" cy="204.1" r="1.4"/><circle cx="186.9" cy="194.7" r="1.4"/><circle cx="188.4" cy="231.2" r="1.4"/><circle cx="186.8" cy="203.0" r="1.4"/><circle cx="186.9" cy="207.0" r="1.4"/><circle cx="187.5" cy="210.2" r="1.4"/><circle cx="187.4" cy="209.3" r="1.4"/><circle cx="187.6" cy="205.5" r="1.4"/><circle cx="187.0" cy="207.4" r="1.4"/><circle cx="187.3" cy="208.5" r="1.4"/><circle cx="188.3" cy="219.5" r="1.4"/><circle cx="187.4" cy="205.0" r="1.4"/><circle cx="187.6" cy="193.3" r="1.4"/><circle cx="187.3" cy="224.4" r="1.4"/><circle cx="186.8" cy="197.9" r="1.4"/><circle cx="186.9" cy="207.5" r="1.4"/><circle cx="187.1" cy="227.7" r="1.4"/><circle cx="188.1" cy="230.0" r="1.4"/><circle cx="186.6" cy="214.0" r="1.4"/><circle cx="187.0" cy="222.4" r="1.4"/><circle cx="187.6" cy="233.0" r="1.4"/><circle cx="187.2" cy="220.1" r="1.4"/><circle cx="187.1" cy="183.8" r="1.4"/><circle cx="186.8" cy="208.6" r="1.4"/><circle cx="187.3" cy="172.9" r="1.4"/><circle cx="187.6" cy="209.3" r="1.4"/><circle cx="187.8" cy="232.5" r="1.4"/><circle cx="187.0" cy="206.8" r="1.4"/><circle cx="187.1" cy="201.5" r="1.4"/><circle cx="187.0" cy="185.9" r="1.4"/><circle cx="187.1" cy="202.9" r="1.4"/><circle cx="186.6" cy="225.5" r="1.4"/><circle cx="186.7" cy="227.4" r="1.4"/><circle cx="187.3" cy="177.0" r="1.4"/><circle cx="186.9" cy="199.8" r="1.4"/><circle cx="186.8" cy="216.6" r="1.4"/><circle cx="187.6" cy="193.3" r="1.4"/><circle cx="188.1" cy="225.5" r="1.4"/><circle cx="187.2" cy="199.3" r="1.4"/><circle cx="186.9" cy="210.3" r="1.4"/><circle cx="187.3" cy="200.7" r="1.4"/><circle cx="187.3" cy="188.9" r="1.4"/><circle cx="188.0" cy="206.8" r="1.4"/><circle cx="186.6" cy="205.8" r="1.4"/><circle cx="187.5" cy="215.8" r="1.4"/><circle cx="187.6" cy="228.9" r="1.4"/><circle cx="187.1" cy="196.2" r="1.4"/><circle cx="187.6" cy="200.3" r="1.4"/><circle cx="187.2" cy="214.6" r="1.4"/><circle cx="187.8" cy="225.4" r="1.4"/><circle cx="186.8" cy="207.4" r="1.4"/><circle cx="187.2" cy="194.3" r="1.4"/><circle cx="186.9" cy="203.4" r="1.4"/><circle cx="187.3" cy="180.7" r="1.4"/><circle cx="187.4" cy="210.0" r="1.4"/><circle cx="188.3" cy="231.5" r="1.4"/><circle cx="187.1" cy="206.4" r="1.4"/><circle cx="186.9" cy="221.8" r="1.4"/><circle cx="187.4" cy="197.0" r="1.4"/><circle cx="187.3" cy="196.0" r="1.4"/><circle cx="186.8" cy="223.2" r="1.4"/><circle cx="187.3" cy="173.6" r="1.4"/><circle cx="187.4" cy="187.8" r="1.4"/><circle cx="187.0" cy="183.6" r="1.4"/><circle cx="188.2" cy="222.5" r="1.4"/><circle cx="186.5" cy="219.2" r="1.4"/><circle cx="187.0" cy="202.4" r="1.4"/><circle cx="187.0" cy="220.8" r="1.4"/><circle cx="187.5" cy="227.2" r="1.4"/><circle cx="187.2" cy="183.2" r="1.4"/><circle cx="187.6" cy="193.0" r="1.4"/><circle cx="187.4" cy="183.6" r="1.4"/><circle cx="187.8" cy="198.6" r="1.4"/><circle cx="186.9" cy="189.6" r="1.4"/><circle cx="186.6" cy="219.8" r="1.4"/><circle cx="187.6" cy="190.0" r="1.4"/><circle cx="188.0" cy="227.6" r="1.4"/><circle cx="187.8" cy="226.4" r="1.4"/><circle cx="187.9" cy="206.0" r="1.4"/><circle cx="187.7" cy="197.2" r="1.4"/><circle cx="188.3" cy="228.7" r="1.4"/><circle cx="188.0" cy="205.6" r="1.4"/><circle cx="187.1" cy="214.4" r="1.4"/><circle cx="187.4" cy="194.0" r="1.4"/><circle cx="187.6" cy="226.8" r="1.4"/><circle cx="186.9" cy="189.7" r="1.4"/><circle cx="187.7" cy="231.0" r="1.4"/><circle cx="187.5" cy="189.2" r="1.4"/><circle cx="186.3" cy="223.4" r="1.4"/><circle cx="187.7" cy="191.3" r="1.4"/><circle cx="188.1" cy="219.6" r="1.4"/><circle cx="186.9" cy="199.6" r="1.4"/><circle cx="187.7" cy="222.0" r="1.4"/><circle cx="187.1" cy="206.1" r="1.4"/><circle cx="187.6" cy="205.7" r="1.4"/><circle cx="186.2" cy="230.7" r="1.4"/><circle cx="188.2" cy="217.9" r="1.4"/><circle cx="186.8" cy="198.3" r="1.4"/><circle cx="187.6" cy="193.8" r="1.4"/><circle cx="186.2" cy="225.7" r="1.4"/><circle cx="187.5" cy="195.4" r="1.4"/><circle cx="187.5" cy="200.4" r="1.4"/><circle cx="188.4" cy="225.5" r="1.4"/><circle cx="187.7" cy="195.2" r="1.4"/><circle cx="187.4" cy="197.8" r="1.4"/><circle cx="186.8" cy="197.4" r="1.4"/><circle cx="186.6" cy="207.3" r="1.4"/><circle cx="187.9" cy="217.3" r="1.4"/><circle cx="187.6" cy="205.0" r="1.4"/><circle cx="187.3" cy="182.3" r="1.4"/><circle cx="187.5" cy="227.4" r="1.4"/><circle cx="187.0" cy="204.8" r="1.4"/><circle cx="188.0" cy="219.7" r="1.4"/><circle cx="188.0" cy="207.1" r="1.4"/><circle cx="186.6" cy="205.2" r="1.4"/><circle cx="187.5" cy="196.4" r="1.4"/><circle cx="187.7" cy="216.8" r="1.4"/><circle cx="187.8" cy="200.5" r="1.4"/><circle cx="188.0" cy="217.9" r="1.4"/><circle cx="186.6" cy="223.1" r="1.4"/><circle cx="187.3" cy="179.2" r="1.4"/><circle cx="187.5" cy="199.0" r="1.4"/><circle cx="188.1" cy="217.1" r="1.4"/><circle cx="188.0" cy="227.5" r="1.4"/><circle cx="186.7" cy="217.4" r="1.4"/><circle cx="187.4" cy="178.7" r="1.4"/><circle cx="187.2" cy="194.8" r="1.4"/><circle cx="187.5" cy="205.1" r="1.4"/><circle cx="188.2" cy="224.4" r="1.4"/><circle cx="187.7" cy="218.4" r="1.4"/><circle cx="187.1" cy="186.7" r="1.4"/><circle cx="187.4" cy="185.2" r="1.4"/><circle cx="188.2" cy="218.3" r="1.4"/><circle cx="187.1" cy="212.1" r="1.4"/><circle cx="188.1" cy="216.8" r="1.4"/><circle cx="187.3" cy="224.1" r="1.4"/><circle cx="186.7" cy="196.6" r="1.4"/><circle cx="187.8" cy="209.3" r="1.4"/><circle cx="187.0" cy="168.0" r="1.4"/><circle cx="186.6" cy="171.0" r="1.4"/><circle cx="187.5" cy="176.0" r="1.4"/><circle cx="186.5" cy="180.0" r="1.4"/></g>
<g fill="#f1b6c9"><circle cx="192.5" cy="232.1" r="1.4"/><circle cx="192.4" cy="200.3" r="1.4"/><circle cx="193.2" cy="227.3" r="1.4"/><circle cx="192.5" cy="225.9" r="1.4"/><circle cx="193.0" cy="224.5" r="1.4"/><circle cx="192.8" cy="224.9" r="1.4"/><circle cx="193.2" cy="231.1" r="1.4"/><circle cx="192.8" cy="215.0" r="1.4"/><circle cx="192.8" cy="231.8" r="1.4"/><circle cx="192.0" cy="232.5" r="1.4"/><circle cx="192.2" cy="215.3" r="1.4"/><circle cx="192.6" cy="197.1" r="1.4"/><circle cx="192.1" cy="226.2" r="1.4"/><circle cx="192.9" cy="202.3" r="1.4"/><circle cx="192.5" cy="217.5" r="1.4"/><circle cx="192.4" cy="232.2" r="1.4"/><circle cx="193.0" cy="208.6" r="1.4"/><circle cx="192.7" cy="227.3" r="1.4"/><circle cx="192.5" cy="223.7" r="1.4"/><circle cx="192.2" cy="214.4" r="1.4"/><circle cx="192.0" cy="229.4" r="1.4"/><circle cx="193.0" cy="221.3" r="1.4"/><circle cx="192.2" cy="232.9" r="1.4"/><circle cx="192.0" cy="224.4" r="1.4"/><circle cx="193.2" cy="232.7" r="1.4"/><circle cx="192.2" cy="229.9" r="1.4"/><circle cx="192.8" cy="229.1" r="1.4"/><circle cx="192.5" cy="203.8" r="1.4"/><circle cx="192.1" cy="222.2" r="1.4"/><circle cx="193.1" cy="206.8" r="1.4"/><circle cx="193.0" cy="232.8" r="1.4"/><circle cx="193.3" cy="230.4" r="1.4"/><circle cx="192.8" cy="207.5" r="1.4"/><circle cx="192.4" cy="211.8" r="1.4"/><circle cx="192.6" cy="231.9" r="1.4"/><circle cx="193.4" cy="227.9" r="1.4"/><circle cx="192.3" cy="210.3" r="1.4"/><circle cx="192.7" cy="223.3" r="1.4"/><circle cx="192.1" cy="215.4" r="1.4"/><circle cx="192.3" cy="207.6" r="1.4"/><circle cx="193.3" cy="219.1" r="1.4"/><circle cx="192.5" cy="201.0" r="1.4"/><circle cx="192.8" cy="203.2" r="1.4"/><circle cx="193.4" cy="232.8" r="1.4"/><circle cx="192.9" cy="195.0" r="1.4"/><circle cx="192.7" cy="226.2" r="1.4"/><circle cx="192.7" cy="208.9" r="1.4"/><circle cx="192.8" cy="196.7" r="1.4"/><circle cx="192.6" cy="213.9" r="1.4"/><circle cx="193.1" cy="223.1" r="1.4"/><circle cx="193.2" cy="231.6" r="1.4"/><circle cx="193.1" cy="231.0" r="1.4"/><circle cx="192.7" cy="227.3" r="1.4"/><circle cx="192.9" cy="204.3" r="1.4"/><circle cx="192.0" cy="226.9" r="1.4"/><circle cx="193.1" cy="223.1" r="1.4"/><circle cx="192.9" cy="231.4" r="1.4"/><circle cx="192.8" cy="214.5" r="1.4"/><circle cx="192.2" cy="212.5" r="1.4"/><circle cx="192.7" cy="216.4" r="1.4"/><circle cx="193.0" cy="218.0" r="1.4"/><circle cx="192.4" cy="209.4" r="1.4"/><circle cx="192.6" cy="217.9" r="1.4"/><circle cx="192.9" cy="196.5" r="1.4"/><circle cx="193.3" cy="221.9" r="1.4"/><circle cx="192.8" cy="231.7" r="1.4"/><circle cx="192.3" cy="210.7" r="1.4"/><circle cx="192.5" cy="209.0" r="1.4"/><circle cx="192.7" cy="215.2" r="1.4"/><circle cx="193.2" cy="230.4" r="1.4"/><circle cx="192.7" cy="222.0" r="1.4"/><circle cx="193.4" cy="230.1" r="1.4"/><circle cx="192.9" cy="225.0" r="1.4"/><circle cx="192.5" cy="206.1" r="1.4"/><circle cx="193.0" cy="230.0" r="1.4"/><circle cx="193.0" cy="212.6" r="1.4"/><circle cx="192.4" cy="202.6" r="1.4"/><circle cx="193.2" cy="219.3" r="1.4"/><circle cx="193.3" cy="218.5" r="1.4"/><circle cx="192.5" cy="204.8" r="1.4"/><circle cx="192.6" cy="209.4" r="1.4"/><circle cx="192.7" cy="232.5" r="1.4"/><circle cx="192.9" cy="205.3" r="1.4"/><circle cx="193.5" cy="230.4" r="1.4"/><circle cx="192.9" cy="204.7" r="1.4"/><circle cx="192.9" cy="229.5" r="1.4"/><circle cx="192.6" cy="192.4" r="1.4"/><circle cx="191.8" cy="232.3" r="1.4"/><circle cx="192.8" cy="219.1" r="1.4"/><circle cx="192.6" cy="206.0" r="1.4"/><circle cx="192.7" cy="193.8" r="1.4"/><circle cx="192.3" cy="228.5" r="1.4"/><circle cx="192.2" cy="210.0" r="1.4"/><circle cx="193.0" cy="214.5" r="1.4"/><circle cx="193.1" cy="211.7" r="1.4"/><circle cx="192.7" cy="191.5" r="1.4"/><circle cx="192.6" cy="196.1" r="1.4"/><circle cx="193.3" cy="226.7" r="1.4"/><circle cx="192.7" cy="225.7" r="1.4"/><circle cx="192.2" cy="232.8" r="1.4"/><circle cx="192.7" cy="215.5" r="1.4"/><circle cx="192.8" cy="232.9" r="1.4"/><circle cx="193.0" cy="216.0" r="1.4"/><circle cx="192.7" cy="198.5" r="1.4"/><circle cx="193.5" cy="231.7" r="1.4"/><circle cx="192.7" cy="215.9" r="1.4"/><circle cx="192.6" cy="216.8" r="1.4"/><circle cx="192.5" cy="208.9" r="1.4"/><circle cx="192.6" cy="193.0" r="1.4"/><circle cx="192.6" cy="222.4" r="1.4"/><circle cx="192.6" cy="197.8" r="1.4"/><circle cx="192.0" cy="223.3" r="1.4"/><circle cx="192.7" cy="212.4" r="1.4"/><circle cx="192.6" cy="212.2" r="1.4"/><circle cx="192.8" cy="193.6" r="1.4"/><circle cx="192.3" cy="211.7" r="1.4"/><circle cx="193.2" cy="223.0" r="1.4"/><circle cx="192.8" cy="195.7" r="1.4"/><circle cx="192.8" cy="209.0" r="1.4"/><circle cx="192.9" cy="227.6" r="1.4"/><circle cx="192.1" cy="225.5" r="1.4"/><circle cx="192.7" cy="230.6" r="1.4"/><circle cx="192.5" cy="209.4" r="1.4"/><circle cx="192.3" cy="220.3" r="1.4"/><circle cx="192.7" cy="198.0" r="1.4"/><circle cx="192.1" cy="231.5" r="1.4"/><circle cx="192.7" cy="217.8" r="1.4"/><circle cx="193.2" cy="229.6" r="1.4"/><circle cx="192.4" cy="209.4" r="1.4"/><circle cx="192.5" cy="197.0" r="1.4"/><circle cx="192.9" cy="205.3" r="1.4"/><circle cx="192.4" cy="221.6" r="1.4"/><circle cx="192.8" cy="229.9" r="1.4"/><circle cx="193.1" cy="210.7" r="1.4"/><circle cx="193.1" cy="229.8" r="1.4"/><circle cx="192.5" cy="207.6" r="1.4"/><circle cx="192.8" cy="200.2" r="1.4"/><circle cx="192.6" cy="221.5" r="1.4"/><circle cx="192.7" cy="193.4" r="1.4"/><circle cx="192.5" cy="214.8" r="1.4"/><circle cx="192.5" cy="228.0" r="1.4"/><circle cx="192.3" cy="216.2" r="1.4"/><circle cx="192.6" cy="196.3" r="1.4"/><circle cx="193.3" cy="224.6" r="1.4"/><circle cx="193.0" cy="223.6" r="1.4"/><circle cx="192.6" cy="225.7" r="1.4"/><circle cx="192.9" cy="227.3" r="1.4"/><circle cx="192.8" cy="207.3" r="1.4"/><circle cx="192.6" cy="225.4" r="1.4"/><circle cx="193.0" cy="207.8" r="1.4"/><circle cx="194.8" cy="182.0" r="1.4"/><circle cx="194.5" cy="186.0" r="1.4"/><circle cx="194.2" cy="189.0" r="1.4"/><circle cx="193.6" cy="192.0" r="1.4"/><circle cx="195.3" cy="173.6" r="1.4"/><circle cx="195.7" cy="177.0" r="1.4"/><circle cx="193.7" cy="183.0" r="1.4"/><circle cx="194.5" cy="180.0" r="1.4"/></g>
<line x1="28.50" y1="233.40" x2="322.50" y2="233.40" stroke="#b0b0b0" stroke-width="0.9" stroke-dasharray="2.2,2" stroke-opacity="0.9"/>
<line x1="184.95" y1="16.00" x2="184.95" y2="249.30" stroke="#b8b8b8" stroke-width="0.9" stroke-dasharray="2.2,2"/>
<line x1="195.85" y1="16.00" x2="195.85" y2="249.30" stroke="#b8b8b8" stroke-width="0.9" stroke-dasharray="2.2,2"/>
<rect x="28.5" y="16.0" width="294.00" height="233.50" fill="none" stroke="#3a3a3a" stroke-width="1.0"/>
<line x1="81.30" y1="249.50" x2="81.30" y2="251.70" stroke="#3a3a3a" stroke-width="1" />
<text transform="translate(80.70,259.80) scale(1,1.045)" font-size="10.1" fill="#1a1a1a" text-anchor="middle" >-20</text>
<line x1="135.85" y1="249.50" x2="135.85" y2="251.70" stroke="#3a3a3a" stroke-width="1" />
<text transform="translate(135.25,259.80) scale(1,1.045)" font-size="10.1" fill="#1a1a1a" text-anchor="middle" >-10</text>
<line x1="190.40" y1="249.50" x2="190.40" y2="251.70" stroke="#3a3a3a" stroke-width="1" />
<text transform="translate(189.80,259.80) scale(1,1.045)" font-size="10.1" fill="#1a1a1a" text-anchor="middle" >0</text>
<line x1="244.95" y1="249.50" x2="244.95" y2="251.70" stroke="#3a3a3a" stroke-width="1" />
<text transform="translate(244.35,259.80) scale(1,1.045)" font-size="10.1" fill="#1a1a1a" text-anchor="middle" >10</text>
<line x1="299.50" y1="249.50" x2="299.50" y2="251.70" stroke="#3a3a3a" stroke-width="1" />
<text transform="translate(298.90,259.80) scale(1,1.045)" font-size="10.1" fill="#1a1a1a" text-anchor="middle" >20</text>
<line x1="26.30" y1="238.40" x2="28.50" y2="238.40" stroke="#3a3a3a" stroke-width="1" />
<text transform="translate(26.20,240.00) scale(1,1.045)" font-size="10.1" fill="#1a1a1a" text-anchor="end" >0</text>
<line x1="26.30" y1="162.70" x2="28.50" y2="162.70" stroke="#3a3a3a" stroke-width="1" />
<text transform="translate(26.20,164.30) scale(1,1.045)" font-size="10.1" fill="#1a1a1a" text-anchor="end" >20</text>
<line x1="26.30" y1="87.00" x2="28.50" y2="87.00" stroke="#3a3a3a" stroke-width="1" />
<text transform="translate(26.20,88.60) scale(1,1.045)" font-size="10.1" fill="#1a1a1a" text-anchor="end" >40</text>
<text transform="translate(176.30,272.00) scale(1,1.045)" font-size="10" fill="#1a1a1a" text-anchor="middle" >Log<tspan font-size="6.5" dy="2">2</tspan><tspan dy="-2"> FoldChange</tspan></text>
<text transform="translate(8.6,130) rotate(-90)" font-size="10" fill="#1a1a1a" text-anchor="middle">-Log<tspan font-size="6.5" dy="2">10</tspan><tspan dy="-2">P value</tspan></text>
<text transform="translate(52.60,26.50) scale(1,1.045)" font-size="8.4" fill="#1a1a1a" text-anchor="start" >Down</text>
<text transform="translate(52.60,36.10) scale(1,1.045)" font-size="8.4" fill="#1a1a1a" text-anchor="start" >p &lt; 0.05: 1984</text>
<text transform="translate(52.60,47.20) scale(1,1.045)" font-size="8.4" fill="#1a1a1a" text-anchor="start" >log2FC &lt; -1: 1984</text>
<text transform="translate(52.60,58.30) scale(1,1.045)" font-size="8.4" fill="#1a1a1a" text-anchor="start" >Sig. : 1017</text>
<text transform="translate(242.30,26.50) scale(1,1.045)" font-size="8.4" fill="#1a1a1a" text-anchor="start" >Up</text>
<text transform="translate(242.30,36.10) scale(1,1.045)" font-size="8.4" fill="#1a1a1a" text-anchor="start" >p &lt; 0.05: 1387</text>
<text transform="translate(242.30,47.20) scale(1,1.045)" font-size="8.4" fill="#1a1a1a" text-anchor="start" >log2FC &gt; 1: 592</text>
<text transform="translate(242.30,58.30) scale(1,1.045)" font-size="8.4" fill="#1a1a1a" text-anchor="start" >Sig. : 207</text>
<rect x="258.2" y="94.1" width="60.5" height="44.4" fill="#fff" stroke="#3a3a3a" stroke-width="0.8"/>
<circle cx="261.7" cy="100.40" r="1.3" fill="#f3463f"/>
<text transform="translate(266.60,102.90) scale(1,1.045)" font-size="6.6" fill="#1a1a1a" text-anchor="start" >Significant Up</text>
<circle cx="261.7" cy="108.60" r="1.3" fill="#4f85b8"/>
<text transform="translate(266.60,111.10) scale(1,1.045)" font-size="6.6" fill="#1a1a1a" text-anchor="start" >Significant Down</text>
<circle cx="261.7" cy="116.80" r="1.3" fill="#f1b6c9"/>
<text transform="translate(266.60,119.30) scale(1,1.045)" font-size="6.6" fill="#1a1a1a" text-anchor="start" >Up</text>
<circle cx="261.7" cy="125.00" r="1.3" fill="#89cdf1"/>
<text transform="translate(266.60,127.50) scale(1,1.045)" font-size="6.6" fill="#1a1a1a" text-anchor="start" >Down</text>
<circle cx="261.7" cy="133.20" r="1.3" fill="#d3dbe4"/>
<text transform="translate(266.60,135.70) scale(1,1.045)" font-size="6.6" fill="#1a1a1a" text-anchor="start" >Non-significant</text>
<text transform="translate(107.50,96.90) scale(1,1.045)" font-size="9.6" fill="#4f6e9c" text-anchor="start" >Ciita</text>
<line x1="132.50" y1="95.20" x2="172.20" y2="95.20" stroke="#7f97b8" stroke-width="0.8" />
<text transform="translate(354.20,10.50) scale(1,1.045)" font-size="13.2" fill="#1a1a1a" text-anchor="start" >B</text>
<text transform="translate(536.30,11.30) scale(1,1.045)" font-size="10" fill="#1a1a1a" text-anchor="middle" >oe-ALKBH5 vs oe-vector</text>
<g fill="#d3dbe4"><circle cx="549.3" cy="234.1" r="1.4"/><circle cx="558.0" cy="238.1" r="1.4"/><circle cx="555.2" cy="237.7" r="1.4"/><circle cx="519.7" cy="228.6" r="1.4"/><circle cx="563.2" cy="221.6" r="1.4"/><circle cx="541.7" cy="224.2" r="1.4"/><circle cx="545.4" cy="230.8" r="1.4"/><circle cx="518.9" cy="223.6" r="1.4"/><circle cx="532.2" cy="237.6" r="1.4"/><circle cx="556.5" cy="222.5" r="1.4"/><circle cx="558.1" cy="222.1" r="1.4"/><circle cx="549.1" cy="221.8" r="1.4"/><circle cx="528.7" cy="223.6" r="1.4"/><circle cx="532.7" cy="238.5" r="1.4"/><circle cx="545.2" cy="232.9" r="1.4"/><circle cx="528.4" cy="238.1" r="1.4"/><circle cx="552.7" cy="238.6" r="1.4"/><circle cx="562.9" cy="225.3" r="1.4"/><circle cx="536.3" cy="222.6" r="1.4"/><circle cx="525.5" cy="220.6" r="1.4"/><circle cx="533.3" cy="231.4" r="1.4"/><circle cx="535.1" cy="225.5" r="1.4"/><circle cx="559.1" cy="228.9" r="1.4"/><circle cx="534.0" cy="228.9" r="1.4"/><circle cx="553.4" cy="220.4" r="1.4"/><circle cx="567.0" cy="219.8" r="1.4"/><circle cx="555.7" cy="236.2" r="1.4"/><circle cx="536.5" cy="230.9" r="1.4"/><circle cx="518.7" cy="220.2" r="1.4"/><circle cx="528.0" cy="234.4" r="1.4"/><circle cx="535.4" cy="226.4" r="1.4"/><circle cx="544.4" cy="234.8" r="1.4"/><circle cx="523.6" cy="234.3" r="1.4"/><circle cx="558.1" cy="236.5" r="1.4"/><circle cx="522.8" cy="226.1" r="1.4"/><circle cx="548.7" cy="237.7" r="1.4"/><circle cx="535.2" cy="237.8" r="1.4"/><circle cx="545.5" cy="225.5" r="1.4"/><circle cx="534.0" cy="222.8" r="1.4"/><circle cx="522.1" cy="222.3" r="1.4"/><circle cx="526.3" cy="220.3" r="1.4"/><circle cx="538.5" cy="224.0" r="1.4"/><circle cx="547.9" cy="235.8" r="1.4"/><circle cx="541.0" cy="227.7" r="1.4"/><circle cx="519.8" cy="229.2" r="1.4"/><circle cx="560.1" cy="221.9" r="1.4"/><circle cx="554.8" cy="238.3" r="1.4"/><circle cx="549.7" cy="235.1" r="1.4"/><circle cx="523.5" cy="228.0" r="1.4"/><circle cx="525.7" cy="236.2" r="1.4"/><circle cx="532.9" cy="228.4" r="1.4"/><circle cx="567.0" cy="228.4" r="1.4"/><circle cx="542.6" cy="233.9" r="1.4"/><circle cx="542.2" cy="225.1" r="1.4"/><circle cx="538.4" cy="222.2" r="1.4"/><circle cx="537.1" cy="239.1" r="1.4"/><circle cx="543.2" cy="226.1" r="1.4"/><circle cx="522.7" cy="224.7" r="1.4"/><circle cx="557.3" cy="236.6" r="1.4"/><circle cx="536.3" cy="235.0" r="1.4"/><circle cx="556.9" cy="233.2" r="1.4"/><circle cx="551.4" cy="234.5" r="1.4"/><circle cx="536.4" cy="233.4" r="1.4"/><circle cx="532.2" cy="229.0" r="1.4"/><circle cx="556.7" cy="233.1" r="1.4"/><circle cx="532.9" cy="238.2" r="1.4"/><circle cx="550.7" cy="230.9" r="1.4"/><circle cx="530.7" cy="232.7" r="1.4"/><circle cx="541.3" cy="235.6" r="1.4"/><circle cx="550.6" cy="235.3" r="1.4"/><circle cx="535.6" cy="232.2" r="1.4"/><circle cx="555.1" cy="235.9" r="1.4"/><circle cx="535.7" cy="236.2" r="1.4"/><circle cx="561.7" cy="233.1" r="1.4"/><circle cx="544.1" cy="229.9" r="1.4"/><circle cx="526.5" cy="236.0" r="1.4"/><circle cx="565.1" cy="228.8" r="1.4"/><circle cx="552.8" cy="233.7" r="1.4"/><circle cx="554.7" cy="222.7" r="1.4"/><circle cx="557.2" cy="230.9" r="1.4"/><circle cx="551.5" cy="227.7" r="1.4"/><circle cx="549.4" cy="234.8" r="1.4"/><circle cx="550.0" cy="233.7" r="1.4"/><circle cx="519.6" cy="222.5" r="1.4"/><circle cx="540.3" cy="232.3" r="1.4"/><circle cx="529.2" cy="233.0" r="1.4"/><circle cx="549.7" cy="220.1" r="1.4"/><circle cx="541.8" cy="223.8" r="1.4"/><circle cx="520.9" cy="222.0" r="1.4"/><circle cx="534.1" cy="222.9" r="1.4"/><circle cx="527.9" cy="220.0" r="1.4"/><circle cx="541.5" cy="226.9" r="1.4"/><circle cx="548.8" cy="231.1" r="1.4"/><circle cx="530.1" cy="237.4" r="1.4"/><circle cx="532.1" cy="227.5" r="1.4"/><circle cx="536.9" cy="220.0" r="1.4"/><circle cx="548.9" cy="221.2" r="1.4"/><circle cx="545.5" cy="226.1" r="1.4"/><circle cx="547.2" cy="238.5" r="1.4"/><circle cx="559.1" cy="227.7" r="1.4"/><circle cx="558.8" cy="232.1" r="1.4"/><circle cx="536.7" cy="222.1" r="1.4"/><circle cx="548.0" cy="230.6" r="1.4"/><circle cx="548.6" cy="226.3" r="1.4"/><circle cx="562.9" cy="219.3" r="1.4"/><circle cx="523.6" cy="230.6" r="1.4"/><circle cx="549.0" cy="222.1" r="1.4"/><circle cx="549.7" cy="237.1" r="1.4"/><circle cx="537.0" cy="227.9" r="1.4"/><circle cx="529.5" cy="225.1" r="1.4"/><circle cx="566.8" cy="226.9" r="1.4"/><circle cx="548.0" cy="224.5" r="1.4"/><circle cx="539.0" cy="225.7" r="1.4"/><circle cx="532.5" cy="228.8" r="1.4"/><circle cx="524.3" cy="231.7" r="1.4"/><circle cx="540.4" cy="225.2" r="1.4"/><circle cx="557.3" cy="235.8" r="1.4"/><circle cx="531.9" cy="238.0" r="1.4"/><circle cx="557.3" cy="224.2" r="1.4"/><circle cx="531.6" cy="222.4" r="1.4"/><circle cx="567.6" cy="225.2" r="1.4"/><circle cx="548.6" cy="228.8" r="1.4"/><circle cx="550.4" cy="231.4" r="1.4"/><circle cx="555.4" cy="221.7" r="1.4"/><circle cx="556.2" cy="225.3" r="1.4"/><circle cx="544.9" cy="226.0" r="1.4"/><circle cx="533.0" cy="229.9" r="1.4"/><circle cx="541.4" cy="226.5" r="1.4"/><circle cx="555.5" cy="231.1" r="1.4"/><circle cx="520.0" cy="224.3" r="1.4"/><circle cx="541.0" cy="237.6" r="1.4"/><circle cx="562.6" cy="230.2" r="1.4"/><circle cx="539.6" cy="230.8" r="1.4"/><circle cx="553.6" cy="231.9" r="1.4"/><circle cx="542.3" cy="237.5" r="1.4"/><circle cx="537.5" cy="227.1" r="1.4"/><circle cx="560.8" cy="223.2" r="1.4"/><circle cx="533.0" cy="235.9" r="1.4"/><circle cx="552.9" cy="228.0" r="1.4"/><circle cx="532.5" cy="234.9" r="1.4"/><circle cx="563.7" cy="222.2" r="1.4"/><circle cx="542.1" cy="230.3" r="1.4"/><circle cx="543.1" cy="225.9" r="1.4"/><circle cx="525.9" cy="231.0" r="1.4"/><circle cx="558.8" cy="220.7" r="1.4"/><circle cx="529.7" cy="235.7" r="1.4"/><circle cx="557.8" cy="232.6" r="1.4"/><circle cx="553.3" cy="220.3" r="1.4"/><circle cx="560.3" cy="223.7" r="1.4"/><circle cx="550.5" cy="238.3" r="1.4"/><circle cx="553.8" cy="222.0" r="1.4"/><circle cx="532.8" cy="237.7" r="1.4"/><circle cx="525.7" cy="231.5" r="1.4"/><circle cx="538.9" cy="222.5" r="1.4"/><circle cx="549.3" cy="220.2" r="1.4"/><circle cx="523.6" cy="226.9" r="1.4"/><circle cx="521.8" cy="220.5" r="1.4"/><circle cx="547.0" cy="234.1" r="1.4"/><circle cx="562.1" cy="222.0" r="1.4"/><circle cx="539.8" cy="225.6" r="1.4"/><circle cx="548.2" cy="229.1" r="1.4"/><circle cx="565.1" cy="226.8" r="1.4"/><circle cx="525.8" cy="231.9" r="1.4"/><circle cx="543.5" cy="237.5" r="1.4"/><circle cx="545.9" cy="231.7" r="1.4"/><circle cx="531.4" cy="230.3" r="1.4"/><circle cx="530.9" cy="234.3" r="1.4"/><circle cx="544.0" cy="222.0" r="1.4"/><circle cx="529.9" cy="226.7" r="1.4"/><circle cx="555.0" cy="222.9" r="1.4"/><circle cx="553.9" cy="232.4" r="1.4"/><circle cx="522.5" cy="232.7" r="1.4"/><circle cx="522.8" cy="221.8" r="1.4"/><circle cx="547.9" cy="224.1" r="1.4"/><circle cx="562.0" cy="228.9" r="1.4"/><circle cx="534.4" cy="235.2" r="1.4"/><circle cx="520.9" cy="222.3" r="1.4"/><circle cx="529.4" cy="221.6" r="1.4"/><circle cx="559.2" cy="222.1" r="1.4"/><circle cx="549.4" cy="226.4" r="1.4"/><circle cx="530.0" cy="226.0" r="1.4"/><circle cx="548.9" cy="226.3" r="1.4"/><circle cx="537.5" cy="222.0" r="1.4"/><circle cx="559.8" cy="232.3" r="1.4"/><circle cx="558.4" cy="228.0" r="1.4"/><circle cx="560.8" cy="229.6" r="1.4"/><circle cx="547.8" cy="230.8" r="1.4"/><circle cx="555.2" cy="227.2" r="1.4"/><circle cx="523.0" cy="220.0" r="1.4"/><circle cx="528.3" cy="220.1" r="1.4"/><circle cx="562.7" cy="228.9" r="1.4"/><circle cx="556.2" cy="219.3" r="1.4"/><circle cx="541.7" cy="237.1" r="1.4"/><circle cx="549.2" cy="227.9" r="1.4"/><circle cx="541.5" cy="221.3" r="1.4"/><circle cx="525.9" cy="222.5" r="1.4"/><circle cx="536.9" cy="227.0" r="1.4"/><circle cx="562.2" cy="222.3" r="1.4"/><circle cx="530.9" cy="224.8" r="1.4"/><circle cx="526.3" cy="225.0" r="1.4"/><circle cx="530.0" cy="228.9" r="1.4"/><circle cx="536.6" cy="238.1" r="1.4"/><circle cx="552.6" cy="232.8" r="1.4"/><circle cx="541.8" cy="238.2" r="1.4"/><circle cx="524.1" cy="232.7" r="1.4"/><circle cx="532.8" cy="232.8" r="1.4"/><circle cx="554.7" cy="222.6" r="1.4"/><circle cx="528.3" cy="219.8" r="1.4"/><circle cx="529.7" cy="220.9" r="1.4"/><circle cx="538.3" cy="238.8" r="1.4"/><circle cx="536.4" cy="225.5" r="1.4"/><circle cx="541.6" cy="225.0" r="1.4"/><circle cx="554.8" cy="233.7" r="1.4"/><circle cx="526.4" cy="224.1" r="1.4"/><circle cx="551.8" cy="238.1" r="1.4"/><circle cx="550.5" cy="227.9" r="1.4"/><circle cx="567.0" cy="219.4" r="1.4"/><circle cx="538.7" cy="220.2" r="1.4"/><circle cx="545.6" cy="239.1" r="1.4"/><circle cx="544.1" cy="226.3" r="1.4"/><circle cx="522.9" cy="220.7" r="1.4"/><circle cx="563.1" cy="229.1" r="1.4"/><circle cx="565.0" cy="220.4" r="1.4"/><circle cx="530.4" cy="220.3" r="1.4"/><circle cx="538.1" cy="220.5" r="1.4"/><circle cx="531.0" cy="227.4" r="1.4"/><circle cx="533.5" cy="220.3" r="1.4"/><circle cx="527.2" cy="229.5" r="1.4"/><circle cx="538.3" cy="229.9" r="1.4"/><circle cx="522.4" cy="225.6" r="1.4"/><circle cx="523.6" cy="230.1" r="1.4"/><circle cx="564.3" cy="231.3" r="1.4"/><circle cx="561.0" cy="223.6" r="1.4"/><circle cx="542.5" cy="230.7" r="1.4"/><circle cx="537.0" cy="231.8" r="1.4"/><circle cx="554.5" cy="237.6" r="1.4"/><circle cx="533.6" cy="228.3" r="1.4"/><circle cx="559.5" cy="223.8" r="1.4"/><circle cx="524.0" cy="225.5" r="1.4"/><circle cx="559.2" cy="225.6" r="1.4"/><circle cx="524.7" cy="220.9" r="1.4"/><circle cx="530.4" cy="221.0" r="1.4"/><circle cx="539.6" cy="230.8" r="1.4"/><circle cx="530.5" cy="220.5" r="1.4"/><circle cx="553.2" cy="220.3" r="1.4"/><circle cx="528.2" cy="225.0" r="1.4"/><circle cx="536.9" cy="221.3" r="1.4"/><circle cx="539.2" cy="225.6" r="1.4"/><circle cx="555.8" cy="230.4" r="1.4"/><circle cx="563.0" cy="232.4" r="1.4"/><circle cx="556.2" cy="230.8" r="1.4"/><circle cx="540.3" cy="235.6" r="1.4"/><circle cx="551.0" cy="238.4" r="1.4"/><circle cx="554.6" cy="233.3" r="1.4"/><circle cx="531.6" cy="235.5" r="1.4"/><circle cx="537.3" cy="221.9" r="1.4"/><circle cx="521.5" cy="222.7" r="1.4"/><circle cx="531.3" cy="232.8" r="1.4"/><circle cx="532.5" cy="220.6" r="1.4"/><circle cx="556.4" cy="230.4" r="1.4"/><circle cx="519.6" cy="220.3" r="1.4"/><circle cx="524.7" cy="226.4" r="1.4"/><circle cx="548.8" cy="223.9" r="1.4"/><circle cx="539.6" cy="226.5" r="1.4"/><circle cx="534.7" cy="219.5" r="1.4"/><circle cx="547.4" cy="235.8" r="1.4"/><circle cx="554.5" cy="221.2" r="1.4"/><circle cx="544.7" cy="222.7" r="1.4"/><circle cx="553.7" cy="228.2" r="1.4"/><circle cx="524.1" cy="225.6" r="1.4"/><circle cx="563.9" cy="228.5" r="1.4"/><circle cx="539.9" cy="228.1" r="1.4"/><circle cx="556.6" cy="238.0" r="1.4"/><circle cx="544.8" cy="238.7" r="1.4"/><circle cx="548.0" cy="221.4" r="1.4"/><circle cx="558.9" cy="227.7" r="1.4"/><circle cx="542.3" cy="236.9" r="1.4"/><circle cx="537.8" cy="223.6" r="1.4"/><circle cx="532.1" cy="223.3" r="1.4"/><circle cx="546.3" cy="226.4" r="1.4"/><circle cx="555.8" cy="224.1" r="1.4"/><circle cx="535.8" cy="224.3" r="1.4"/><circle cx="560.7" cy="231.7" r="1.4"/><circle cx="538.2" cy="222.2" r="1.4"/><circle cx="559.8" cy="229.1" r="1.4"/><circle cx="520.1" cy="222.7" r="1.4"/><circle cx="523.1" cy="233.7" r="1.4"/><circle cx="563.2" cy="223.3" r="1.4"/><circle cx="558.1" cy="225.8" r="1.4"/><circle cx="552.3" cy="236.6" r="1.4"/><circle cx="549.4" cy="235.3" r="1.4"/><circle cx="537.0" cy="219.5" r="1.4"/><circle cx="543.8" cy="231.0" r="1.4"/><circle cx="527.4" cy="227.1" r="1.4"/><circle cx="534.1" cy="219.8" r="1.4"/><circle cx="533.8" cy="227.0" r="1.4"/><circle cx="542.0" cy="233.4" r="1.4"/><circle cx="538.2" cy="238.9" r="1.4"/><circle cx="559.0" cy="237.8" r="1.4"/><circle cx="552.8" cy="232.7" r="1.4"/><circle cx="545.0" cy="235.3" r="1.4"/><circle cx="536.3" cy="231.2" r="1.4"/><circle cx="552.2" cy="229.7" r="1.4"/><circle cx="532.4" cy="220.9" r="1.4"/><circle cx="522.6" cy="226.4" r="1.4"/><circle cx="547.2" cy="234.5" r="1.4"/><circle cx="553.9" cy="225.4" r="1.4"/><circle cx="564.7" cy="224.8" r="1.4"/><circle cx="554.0" cy="220.7" r="1.4"/><circle cx="555.9" cy="232.7" r="1.4"/><circle cx="552.6" cy="236.1" r="1.4"/><circle cx="555.1" cy="231.5" r="1.4"/><circle cx="528.6" cy="229.6" r="1.4"/><circle cx="563.0" cy="224.1" r="1.4"/><circle cx="537.9" cy="219.4" r="1.4"/><circle cx="537.7" cy="222.9" r="1.4"/><circle cx="550.9" cy="237.3" r="1.4"/><circle cx="563.7" cy="231.6" r="1.4"/><circle cx="537.5" cy="221.5" r="1.4"/><circle cx="552.6" cy="230.4" r="1.4"/><circle cx="554.0" cy="226.8" r="1.4"/><circle cx="562.5" cy="223.6" r="1.4"/><circle cx="533.5" cy="224.7" r="1.4"/><circle cx="549.3" cy="237.2" r="1.4"/><circle cx="526.6" cy="232.0" r="1.4"/><circle cx="556.5" cy="223.8" r="1.4"/><circle cx="521.3" cy="230.6" r="1.4"/><circle cx="559.7" cy="236.9" r="1.4"/><circle cx="554.6" cy="227.6" r="1.4"/><circle cx="539.5" cy="229.9" r="1.4"/><circle cx="563.4" cy="225.3" r="1.4"/><circle cx="532.2" cy="231.4" r="1.4"/><circle cx="566.5" cy="223.0" r="1.4"/><circle cx="519.7" cy="221.6" r="1.4"/><circle cx="546.3" cy="231.4" r="1.4"/><circle cx="527.4" cy="223.1" r="1.4"/><circle cx="547.9" cy="232.2" r="1.4"/><circle cx="552.7" cy="233.9" r="1.4"/><circle cx="521.3" cy="229.0" r="1.4"/><circle cx="534.1" cy="236.3" r="1.4"/><circle cx="550.5" cy="237.8" r="1.4"/><circle cx="529.7" cy="233.2" r="1.4"/><circle cx="560.2" cy="228.8" r="1.4"/><circle cx="523.2" cy="223.2" r="1.4"/><circle cx="526.0" cy="221.2" r="1.4"/><circle cx="525.8" cy="231.6" r="1.4"/><circle cx="523.4" cy="234.5" r="1.4"/><circle cx="555.0" cy="235.6" r="1.4"/><circle cx="558.4" cy="233.6" r="1.4"/><circle cx="549.5" cy="238.6" r="1.4"/><circle cx="523.4" cy="221.4" r="1.4"/><circle cx="521.4" cy="223.4" r="1.4"/><circle cx="536.9" cy="228.5" r="1.4"/><circle cx="552.2" cy="234.2" r="1.4"/><circle cx="522.4" cy="227.4" r="1.4"/><circle cx="545.4" cy="226.8" r="1.4"/><circle cx="524.1" cy="231.2" r="1.4"/><circle cx="536.9" cy="233.0" r="1.4"/><circle cx="543.0" cy="238.6" r="1.4"/><circle cx="565.5" cy="220.7" r="1.4"/><circle cx="556.2" cy="233.7" r="1.4"/><circle cx="533.0" cy="221.6" r="1.4"/><circle cx="542.2" cy="226.4" r="1.4"/><circle cx="555.1" cy="237.7" r="1.4"/><circle cx="537.3" cy="225.1" r="1.4"/><circle cx="543.1" cy="233.2" r="1.4"/><circle cx="557.7" cy="230.8" r="1.4"/><circle cx="533.0" cy="226.0" r="1.4"/><circle cx="560.6" cy="229.7" r="1.4"/><circle cx="520.7" cy="227.7" r="1.4"/><circle cx="530.1" cy="232.6" r="1.4"/><circle cx="521.9" cy="224.7" r="1.4"/><circle cx="523.0" cy="228.9" r="1.4"/><circle cx="537.5" cy="238.0" r="1.4"/><circle cx="522.8" cy="226.4" r="1.4"/><circle cx="558.7" cy="219.4" r="1.4"/><circle cx="556.5" cy="226.5" r="1.4"/><circle cx="519.0" cy="224.3" r="1.4"/><circle cx="541.1" cy="227.0" r="1.4"/><circle cx="544.0" cy="220.4" r="1.4"/><circle cx="540.3" cy="228.7" r="1.4"/><circle cx="522.5" cy="224.9" r="1.4"/><circle cx="543.6" cy="220.4" r="1.4"/><circle cx="537.8" cy="234.9" r="1.4"/><circle cx="539.9" cy="231.2" r="1.4"/><circle cx="563.3" cy="232.2" r="1.4"/><circle cx="550.0" cy="220.0" r="1.4"/><circle cx="538.9" cy="236.8" r="1.4"/><circle cx="556.0" cy="237.1" r="1.4"/><circle cx="525.6" cy="234.9" r="1.4"/><circle cx="539.3" cy="238.7" r="1.4"/><circle cx="567.9" cy="223.6" r="1.4"/><circle cx="539.3" cy="224.7" r="1.4"/><circle cx="541.7" cy="225.0" r="1.4"/><circle cx="551.5" cy="221.8" r="1.4"/><circle cx="526.7" cy="228.5" r="1.4"/><circle cx="521.9" cy="226.9" r="1.4"/><circle cx="528.0" cy="219.7" r="1.4"/><circle cx="548.1" cy="222.0" r="1.4"/><circle cx="530.0" cy="237.7" r="1.4"/><circle cx="565.1" cy="219.9" r="1.4"/><circle cx="527.4" cy="227.9" r="1.4"/><circle cx="531.5" cy="234.4" r="1.4"/><circle cx="536.8" cy="234.8" r="1.4"/><circle cx="525.8" cy="229.7" r="1.4"/><circle cx="522.7" cy="221.5" r="1.4"/><circle cx="550.4" cy="226.8" r="1.4"/><circle cx="536.6" cy="228.9" r="1.4"/><circle cx="547.3" cy="238.6" r="1.4"/><circle cx="530.2" cy="230.7" r="1.4"/><circle cx="531.4" cy="230.2" r="1.4"/><circle cx="554.8" cy="222.0" r="1.4"/><circle cx="542.3" cy="233.4" r="1.4"/><circle cx="539.1" cy="229.4" r="1.4"/><circle cx="548.7" cy="235.2" r="1.4"/><circle cx="521.0" cy="229.3" r="1.4"/><circle cx="520.1" cy="227.0" r="1.4"/><circle cx="535.5" cy="219.7" r="1.4"/><circle cx="533.1" cy="228.3" r="1.4"/><circle cx="550.9" cy="237.8" r="1.4"/><circle cx="536.7" cy="229.9" r="1.4"/><circle cx="553.9" cy="238.0" r="1.4"/><circle cx="533.3" cy="222.6" r="1.4"/><circle cx="564.8" cy="220.8" r="1.4"/><circle cx="540.6" cy="234.0" r="1.4"/><circle cx="544.6" cy="227.1" r="1.4"/><circle cx="564.4" cy="225.3" r="1.4"/><circle cx="545.8" cy="235.9" r="1.4"/><circle cx="525.1" cy="226.3" r="1.4"/><circle cx="542.9" cy="230.6" r="1.4"/><circle cx="528.6" cy="228.4" r="1.4"/><circle cx="521.2" cy="221.1" r="1.4"/><circle cx="535.3" cy="222.2" r="1.4"/><circle cx="566.6" cy="224.6" r="1.4"/><circle cx="532.0" cy="235.0" r="1.4"/><circle cx="555.3" cy="224.5" r="1.4"/><circle cx="559.7" cy="231.8" r="1.4"/><circle cx="537.6" cy="231.9" r="1.4"/><circle cx="530.5" cy="224.6" r="1.4"/><circle cx="562.0" cy="228.1" r="1.4"/><circle cx="563.1" cy="222.8" r="1.4"/><circle cx="525.1" cy="220.3" r="1.4"/><circle cx="555.2" cy="230.5" r="1.4"/><circle cx="518.7" cy="220.2" r="1.4"/><circle cx="559.4" cy="229.2" r="1.4"/><circle cx="561.8" cy="220.1" r="1.4"/><circle cx="547.6" cy="221.6" r="1.4"/><circle cx="554.3" cy="231.5" r="1.4"/><circle cx="548.8" cy="223.7" r="1.4"/><circle cx="565.7" cy="221.5" r="1.4"/><circle cx="522.8" cy="220.6" r="1.4"/><circle cx="541.2" cy="232.3" r="1.4"/><circle cx="562.8" cy="233.7" r="1.4"/><circle cx="521.7" cy="232.2" r="1.4"/><circle cx="560.4" cy="221.7" r="1.4"/><circle cx="555.9" cy="224.5" r="1.4"/><circle cx="533.1" cy="219.3" r="1.4"/><circle cx="556.1" cy="229.6" r="1.4"/><circle cx="563.3" cy="228.6" r="1.4"/><circle cx="526.0" cy="223.6" r="1.4"/><circle cx="531.4" cy="238.2" r="1.4"/><circle cx="528.5" cy="221.1" r="1.4"/><circle cx="535.8" cy="220.9" r="1.4"/><circle cx="539.5" cy="231.7" r="1.4"/><circle cx="550.7" cy="222.8" r="1.4"/><circle cx="525.1" cy="229.1" r="1.4"/><circle cx="552.6" cy="228.2" r="1.4"/><circle cx="546.9" cy="237.5" r="1.4"/><circle cx="525.5" cy="224.7" r="1.4"/><circle cx="542.9" cy="230.0" r="1.4"/><circle cx="563.2" cy="230.4" r="1.4"/><circle cx="551.3" cy="227.7" r="1.4"/><circle cx="557.4" cy="236.0" r="1.4"/><circle cx="532.9" cy="221.5" r="1.4"/><circle cx="531.2" cy="226.5" r="1.4"/><circle cx="562.7" cy="224.6" r="1.4"/><circle cx="549.7" cy="232.1" r="1.4"/><circle cx="566.0" cy="221.6" r="1.4"/><circle cx="556.7" cy="226.0" r="1.4"/><circle cx="523.3" cy="231.9" r="1.4"/><circle cx="560.4" cy="230.9" r="1.4"/><circle cx="537.4" cy="232.0" r="1.4"/><circle cx="554.4" cy="224.5" r="1.4"/><circle cx="538.6" cy="225.9" r="1.4"/><circle cx="523.0" cy="220.6" r="1.4"/><circle cx="554.0" cy="227.5" r="1.4"/><circle cx="561.7" cy="220.6" r="1.4"/><circle cx="533.3" cy="222.9" r="1.4"/><circle cx="563.0" cy="229.4" r="1.4"/><circle cx="523.4" cy="227.6" r="1.4"/><circle cx="529.5" cy="219.8" r="1.4"/><circle cx="546.4" cy="225.1" r="1.4"/><circle cx="523.6" cy="229.5" r="1.4"/><circle cx="541.5" cy="221.4" r="1.4"/><circle cx="556.6" cy="221.6" r="1.4"/><circle cx="545.1" cy="221.0" r="1.4"/><circle cx="540.1" cy="224.7" r="1.4"/><circle cx="545.7" cy="238.8" r="1.4"/><circle cx="539.6" cy="223.5" r="1.4"/><circle cx="543.9" cy="237.7" r="1.4"/><circle cx="537.3" cy="232.0" r="1.4"/><circle cx="564.1" cy="225.8" r="1.4"/><circle cx="558.7" cy="229.9" r="1.4"/><circle cx="525.2" cy="220.4" r="1.4"/><circle cx="565.1" cy="228.6" r="1.4"/><circle cx="540.4" cy="237.7" r="1.4"/><circle cx="546.9" cy="229.3" r="1.4"/><circle cx="532.4" cy="234.2" r="1.4"/><circle cx="531.0" cy="228.7" r="1.4"/><circle cx="556.1" cy="231.4" r="1.4"/><circle cx="524.9" cy="223.4" r="1.4"/><circle cx="552.9" cy="233.9" r="1.4"/><circle cx="524.9" cy="222.7" r="1.4"/><circle cx="522.7" cy="228.2" r="1.4"/><circle cx="549.2" cy="236.4" r="1.4"/><circle cx="526.4" cy="233.3" r="1.4"/><circle cx="523.5" cy="230.9" r="1.4"/><circle cx="530.8" cy="226.4" r="1.4"/><circle cx="524.3" cy="234.6" r="1.4"/><circle cx="535.0" cy="231.1" r="1.4"/><circle cx="550.2" cy="229.1" r="1.4"/><circle cx="532.3" cy="226.0" r="1.4"/><circle cx="562.0" cy="222.0" r="1.4"/><circle cx="539.2" cy="227.6" r="1.4"/><circle cx="567.0" cy="221.9" r="1.4"/><circle cx="551.0" cy="234.4" r="1.4"/><circle cx="554.6" cy="219.3" r="1.4"/><circle cx="565.4" cy="225.5" r="1.4"/><circle cx="560.9" cy="232.5" r="1.4"/><circle cx="539.2" cy="236.1" r="1.4"/><circle cx="552.0" cy="226.1" r="1.4"/><circle cx="554.8" cy="229.4" r="1.4"/><circle cx="553.8" cy="231.6" r="1.4"/><circle cx="558.0" cy="222.5" r="1.4"/><circle cx="542.9" cy="219.3" r="1.4"/><circle cx="557.7" cy="234.7" r="1.4"/><circle cx="560.1" cy="220.2" r="1.4"/><circle cx="545.0" cy="228.9" r="1.4"/><circle cx="524.2" cy="223.4" r="1.4"/><circle cx="530.1" cy="235.9" r="1.4"/><circle cx="550.7" cy="227.0" r="1.4"/><circle cx="550.4" cy="223.9" r="1.4"/><circle cx="531.9" cy="219.5" r="1.4"/><circle cx="551.0" cy="230.9" r="1.4"/><circle cx="555.4" cy="229.4" r="1.4"/><circle cx="539.9" cy="225.4" r="1.4"/><circle cx="555.0" cy="226.8" r="1.4"/><circle cx="548.0" cy="234.5" r="1.4"/><circle cx="540.4" cy="233.0" r="1.4"/><circle cx="521.3" cy="224.5" r="1.4"/><circle cx="560.2" cy="222.2" r="1.4"/><circle cx="521.0" cy="219.6" r="1.4"/><circle cx="556.5" cy="221.4" r="1.4"/><circle cx="541.1" cy="228.1" r="1.4"/><circle cx="558.3" cy="228.8" r="1.4"/><circle cx="544.3" cy="219.8" r="1.4"/><circle cx="558.0" cy="234.6" r="1.4"/><circle cx="549.4" cy="236.0" r="1.4"/><circle cx="548.9" cy="233.6" r="1.4"/><circle cx="560.7" cy="231.6" r="1.4"/><circle cx="567.7" cy="223.3" r="1.4"/><circle cx="521.5" cy="226.1" r="1.4"/><circle cx="523.2" cy="226.7" r="1.4"/><circle cx="522.7" cy="223.7" r="1.4"/><circle cx="533.2" cy="233.9" r="1.4"/><circle cx="537.6" cy="222.6" r="1.4"/><circle cx="552.7" cy="223.6" r="1.4"/><circle cx="538.3" cy="228.3" r="1.4"/><circle cx="538.6" cy="219.8" r="1.4"/><circle cx="541.0" cy="234.7" r="1.4"/><circle cx="552.9" cy="236.5" r="1.4"/><circle cx="552.3" cy="234.6" r="1.4"/><circle cx="557.9" cy="227.6" r="1.4"/><circle cx="551.2" cy="232.5" r="1.4"/><circle cx="562.3" cy="233.6" r="1.4"/><circle cx="540.4" cy="223.1" r="1.4"/><circle cx="534.6" cy="224.3" r="1.4"/><circle cx="552.3" cy="234.7" r="1.4"/><circle cx="527.8" cy="230.0" r="1.4"/><circle cx="560.2" cy="226.6" r="1.4"/><circle cx="522.9" cy="231.4" r="1.4"/><circle cx="536.3" cy="222.2" r="1.4"/><circle cx="532.6" cy="219.4" r="1.4"/><circle cx="525.6" cy="227.8" r="1.4"/><circle cx="523.4" cy="219.4" r="1.4"/><circle cx="545.7" cy="238.5" r="1.4"/><circle cx="559.9" cy="225.8" r="1.4"/><circle cx="564.4" cy="220.9" r="1.4"/><circle cx="525.7" cy="219.4" r="1.4"/><circle cx="521.1" cy="231.3" r="1.4"/><circle cx="556.0" cy="228.9" r="1.4"/><circle cx="558.4" cy="228.3" r="1.4"/><circle cx="564.1" cy="231.5" r="1.4"/><circle cx="545.0" cy="222.7" r="1.4"/><circle cx="539.5" cy="228.1" r="1.4"/><circle cx="559.3" cy="223.9" r="1.4"/><circle cx="532.9" cy="235.6" r="1.4"/><circle cx="521.7" cy="230.0" r="1.4"/><circle cx="529.2" cy="232.6" r="1.4"/><circle cx="547.9" cy="221.2" r="1.4"/><circle cx="554.7" cy="227.4" r="1.4"/><circle cx="534.2" cy="236.4" r="1.4"/><circle cx="557.1" cy="225.5" r="1.4"/><circle cx="552.1" cy="221.8" r="1.4"/><circle cx="544.1" cy="221.0" r="1.4"/><circle cx="550.2" cy="237.6" r="1.4"/><circle cx="550.0" cy="220.1" r="1.4"/><circle cx="543.9" cy="228.7" r="1.4"/><circle cx="540.4" cy="222.3" r="1.4"/><circle cx="532.1" cy="228.3" r="1.4"/><circle cx="521.8" cy="232.8" r="1.4"/><circle cx="530.4" cy="225.1" r="1.4"/><circle cx="522.7" cy="225.4" r="1.4"/><circle cx="564.8" cy="225.1" r="1.4"/><circle cx="523.0" cy="226.2" r="1.4"/><circle cx="565.5" cy="221.1" r="1.4"/><circle cx="535.3" cy="223.5" r="1.4"/><circle cx="552.3" cy="228.5" r="1.4"/><circle cx="534.6" cy="233.0" r="1.4"/><circle cx="540.8" cy="236.7" r="1.4"/><circle cx="521.1" cy="223.9" r="1.4"/><circle cx="532.5" cy="224.6" r="1.4"/><circle cx="559.3" cy="229.3" r="1.4"/><circle cx="535.5" cy="229.4" r="1.4"/><circle cx="560.5" cy="230.7" r="1.4"/><circle cx="540.8" cy="232.4" r="1.4"/><circle cx="549.0" cy="227.4" r="1.4"/><circle cx="539.5" cy="221.9" r="1.4"/><circle cx="540.2" cy="236.9" r="1.4"/><circle cx="533.5" cy="226.6" r="1.4"/><circle cx="548.4" cy="231.1" r="1.4"/><circle cx="527.0" cy="228.2" r="1.4"/><circle cx="554.9" cy="220.1" r="1.4"/><circle cx="523.6" cy="234.4" r="1.4"/><circle cx="563.5" cy="220.7" r="1.4"/><circle cx="522.3" cy="231.8" r="1.4"/><circle cx="532.4" cy="232.4" r="1.4"/><circle cx="519.9" cy="228.4" r="1.4"/><circle cx="526.3" cy="225.9" r="1.4"/><circle cx="552.9" cy="229.5" r="1.4"/><circle cx="560.9" cy="236.1" r="1.4"/><circle cx="549.2" cy="236.3" r="1.4"/><circle cx="527.1" cy="228.8" r="1.4"/><circle cx="534.2" cy="231.8" r="1.4"/><circle cx="536.7" cy="235.0" r="1.4"/><circle cx="537.7" cy="236.4" r="1.4"/><circle cx="568.0" cy="221.9" r="1.4"/><circle cx="555.6" cy="233.8" r="1.4"/><circle cx="541.1" cy="224.9" r="1.4"/><circle cx="526.9" cy="227.5" r="1.4"/><circle cx="581.8" cy="227.2" r="1.4"/><circle cx="579.1" cy="234.0" r="1.4"/><circle cx="514.1" cy="236.8" r="1.4"/><circle cx="569.1" cy="224.0" r="1.4"/><circle cx="514.7" cy="224.9" r="1.4"/><circle cx="515.2" cy="233.0" r="1.4"/><circle cx="580.0" cy="230.0" r="1.4"/><circle cx="510.4" cy="221.5" r="1.4"/><circle cx="575.0" cy="234.2" r="1.4"/><circle cx="513.0" cy="220.2" r="1.4"/><circle cx="517.9" cy="232.0" r="1.4"/><circle cx="518.0" cy="236.6" r="1.4"/><circle cx="508.2" cy="233.4" r="1.4"/><circle cx="573.6" cy="225.4" r="1.4"/><circle cx="511.6" cy="228.0" r="1.4"/><circle cx="579.9" cy="221.4" r="1.4"/><circle cx="578.6" cy="228.0" r="1.4"/><circle cx="584.0" cy="231.0" r="1.4"/><circle cx="510.3" cy="229.5" r="1.4"/><circle cx="507.3" cy="234.6" r="1.4"/><circle cx="513.7" cy="236.4" r="1.4"/><circle cx="517.0" cy="232.0" r="1.4"/><circle cx="574.4" cy="224.7" r="1.4"/><circle cx="577.0" cy="227.0" r="1.4"/><circle cx="573.0" cy="229.8" r="1.4"/><circle cx="579.0" cy="232.0" r="1.4"/><circle cx="582.9" cy="237.1" r="1.4"/><circle cx="586.6" cy="237.1" r="1.4"/><circle cx="586.5" cy="237.0" r="1.4"/><circle cx="512.0" cy="226.0" r="1.4"/><circle cx="570.0" cy="236.0" r="1.4"/></g>
<g fill="#4f85b8"><circle cx="528.2" cy="201.1" r="1.4"/><circle cx="531.3" cy="206.7" r="1.4"/><circle cx="532.5" cy="210.1" r="1.4"/><circle cx="534.7" cy="182.4" r="1.4"/><circle cx="534.3" cy="180.1" r="1.4"/><circle cx="533.8" cy="191.0" r="1.4"/><circle cx="532.0" cy="216.3" r="1.4"/><circle cx="530.0" cy="191.1" r="1.4"/><circle cx="531.5" cy="209.2" r="1.4"/><circle cx="534.0" cy="214.5" r="1.4"/><circle cx="535.1" cy="195.2" r="1.4"/><circle cx="528.4" cy="189.7" r="1.4"/><circle cx="534.6" cy="190.9" r="1.4"/><circle cx="532.1" cy="178.3" r="1.4"/><circle cx="528.5" cy="185.0" r="1.4"/><circle cx="524.0" cy="211.5" r="1.4"/><circle cx="534.4" cy="201.2" r="1.4"/><circle cx="533.8" cy="214.1" r="1.4"/><circle cx="525.3" cy="218.4" r="1.4"/><circle cx="534.3" cy="198.9" r="1.4"/><circle cx="532.3" cy="203.8" r="1.4"/><circle cx="524.1" cy="218.9" r="1.4"/><circle cx="529.3" cy="200.1" r="1.4"/><circle cx="529.8" cy="205.2" r="1.4"/><circle cx="535.0" cy="200.8" r="1.4"/><circle cx="529.0" cy="200.7" r="1.4"/><circle cx="531.9" cy="196.3" r="1.4"/><circle cx="531.5" cy="184.1" r="1.4"/><circle cx="530.0" cy="187.2" r="1.4"/><circle cx="530.8" cy="186.1" r="1.4"/><circle cx="530.8" cy="200.8" r="1.4"/><circle cx="532.7" cy="182.8" r="1.4"/><circle cx="531.7" cy="202.0" r="1.4"/><circle cx="535.2" cy="183.5" r="1.4"/><circle cx="526.3" cy="218.6" r="1.4"/><circle cx="533.9" cy="213.1" r="1.4"/><circle cx="534.7" cy="197.2" r="1.4"/><circle cx="529.0" cy="201.8" r="1.4"/><circle cx="531.9" cy="203.7" r="1.4"/><circle cx="534.4" cy="190.2" r="1.4"/><circle cx="535.1" cy="218.3" r="1.4"/><circle cx="527.8" cy="202.3" r="1.4"/><circle cx="523.0" cy="214.9" r="1.4"/><circle cx="535.0" cy="202.9" r="1.4"/><circle cx="534.5" cy="215.7" r="1.4"/><circle cx="527.6" cy="194.5" r="1.4"/><circle cx="531.1" cy="188.4" r="1.4"/><circle cx="533.8" cy="216.9" r="1.4"/><circle cx="535.3" cy="219.3" r="1.4"/><circle cx="531.4" cy="204.8" r="1.4"/><circle cx="532.3" cy="177.7" r="1.4"/><circle cx="533.4" cy="214.0" r="1.4"/><circle cx="526.5" cy="195.5" r="1.4"/><circle cx="528.7" cy="192.1" r="1.4"/><circle cx="530.0" cy="195.1" r="1.4"/><circle cx="529.0" cy="201.4" r="1.4"/><circle cx="524.5" cy="215.3" r="1.4"/><circle cx="532.1" cy="218.5" r="1.4"/><circle cx="535.2" cy="215.3" r="1.4"/><circle cx="535.1" cy="207.6" r="1.4"/><circle cx="534.8" cy="208.7" r="1.4"/><circle cx="530.6" cy="209.7" r="1.4"/><circle cx="533.7" cy="216.3" r="1.4"/><circle cx="533.7" cy="178.6" r="1.4"/><circle cx="530.6" cy="218.7" r="1.4"/><circle cx="528.8" cy="194.8" r="1.4"/><circle cx="526.3" cy="201.6" r="1.4"/><circle cx="533.5" cy="219.3" r="1.4"/><circle cx="534.7" cy="201.5" r="1.4"/><circle cx="531.0" cy="206.0" r="1.4"/><circle cx="527.3" cy="212.5" r="1.4"/><circle cx="530.2" cy="192.9" r="1.4"/><circle cx="534.6" cy="204.9" r="1.4"/><circle cx="531.7" cy="209.4" r="1.4"/><circle cx="526.5" cy="205.0" r="1.4"/><circle cx="527.4" cy="219.1" r="1.4"/><circle cx="535.2" cy="207.1" r="1.4"/><circle cx="531.7" cy="194.0" r="1.4"/><circle cx="535.2" cy="199.1" r="1.4"/><circle cx="532.9" cy="187.1" r="1.4"/><circle cx="532.2" cy="207.7" r="1.4"/><circle cx="534.7" cy="202.3" r="1.4"/><circle cx="530.9" cy="212.4" r="1.4"/><circle cx="530.2" cy="183.7" r="1.4"/><circle cx="534.7" cy="206.5" r="1.4"/><circle cx="528.8" cy="183.8" r="1.4"/><circle cx="531.2" cy="211.0" r="1.4"/><circle cx="526.8" cy="216.6" r="1.4"/><circle cx="534.4" cy="198.9" r="1.4"/><circle cx="528.3" cy="209.2" r="1.4"/><circle cx="534.7" cy="192.8" r="1.4"/><circle cx="526.8" cy="196.6" r="1.4"/><circle cx="526.0" cy="199.8" r="1.4"/><circle cx="527.9" cy="191.8" r="1.4"/><circle cx="532.5" cy="217.7" r="1.4"/><circle cx="532.3" cy="175.3" r="1.4"/><circle cx="533.3" cy="183.0" r="1.4"/><circle cx="532.4" cy="215.2" r="1.4"/><circle cx="529.8" cy="207.1" r="1.4"/><circle cx="533.1" cy="210.4" r="1.4"/><circle cx="531.5" cy="180.9" r="1.4"/><circle cx="535.1" cy="183.2" r="1.4"/><circle cx="532.8" cy="186.1" r="1.4"/><circle cx="530.2" cy="205.2" r="1.4"/><circle cx="530.5" cy="217.8" r="1.4"/><circle cx="535.0" cy="174.1" r="1.4"/><circle cx="527.6" cy="207.3" r="1.4"/><circle cx="532.1" cy="181.3" r="1.4"/><circle cx="531.6" cy="192.0" r="1.4"/><circle cx="528.6" cy="203.1" r="1.4"/><circle cx="524.4" cy="207.8" r="1.4"/><circle cx="522.7" cy="213.7" r="1.4"/><circle cx="533.9" cy="194.7" r="1.4"/><circle cx="534.4" cy="192.9" r="1.4"/><circle cx="535.1" cy="198.8" r="1.4"/><circle cx="533.6" cy="182.2" r="1.4"/><circle cx="531.0" cy="191.0" r="1.4"/><circle cx="532.4" cy="213.4" r="1.4"/><circle cx="531.8" cy="212.7" r="1.4"/><circle cx="528.8" cy="192.7" r="1.4"/><circle cx="533.1" cy="180.4" r="1.4"/><circle cx="523.1" cy="217.4" r="1.4"/><circle cx="534.5" cy="178.9" r="1.4"/><circle cx="522.7" cy="217.0" r="1.4"/><circle cx="527.3" cy="203.8" r="1.4"/><circle cx="534.2" cy="215.6" r="1.4"/><circle cx="529.3" cy="203.7" r="1.4"/><circle cx="526.7" cy="204.4" r="1.4"/><circle cx="529.6" cy="209.2" r="1.4"/><circle cx="532.0" cy="206.5" r="1.4"/><circle cx="525.6" cy="214.9" r="1.4"/><circle cx="531.7" cy="210.6" r="1.4"/><circle cx="535.2" cy="208.9" r="1.4"/><circle cx="533.8" cy="212.7" r="1.4"/><circle cx="532.7" cy="216.7" r="1.4"/><circle cx="534.6" cy="182.6" r="1.4"/><circle cx="531.8" cy="218.2" r="1.4"/><circle cx="532.4" cy="210.0" r="1.4"/><circle cx="529.8" cy="216.1" r="1.4"/><circle cx="527.0" cy="208.2" r="1.4"/><circle cx="531.9" cy="200.0" r="1.4"/><circle cx="521.2" cy="219.3" r="1.4"/><circle cx="532.3" cy="216.1" r="1.4"/><circle cx="533.5" cy="175.5" r="1.4"/><circle cx="527.9" cy="198.6" r="1.4"/><circle cx="528.8" cy="218.0" r="1.4"/><circle cx="534.7" cy="217.5" r="1.4"/><circle cx="532.9" cy="196.6" r="1.4"/><circle cx="530.6" cy="203.1" r="1.4"/><circle cx="525.7" cy="213.0" r="1.4"/><circle cx="527.4" cy="196.1" r="1.4"/><circle cx="534.3" cy="194.1" r="1.4"/><circle cx="534.2" cy="210.5" r="1.4"/><circle cx="532.3" cy="218.1" r="1.4"/><circle cx="533.1" cy="215.5" r="1.4"/><circle cx="534.6" cy="212.5" r="1.4"/><circle cx="526.9" cy="203.6" r="1.4"/><circle cx="530.5" cy="218.9" r="1.4"/><circle cx="533.0" cy="201.0" r="1.4"/><circle cx="533.9" cy="205.3" r="1.4"/><circle cx="535.0" cy="213.5" r="1.4"/><circle cx="534.5" cy="212.4" r="1.4"/><circle cx="532.5" cy="210.3" r="1.4"/><circle cx="524.5" cy="207.7" r="1.4"/><circle cx="534.7" cy="213.2" r="1.4"/><circle cx="532.2" cy="208.3" r="1.4"/><circle cx="530.8" cy="198.9" r="1.4"/><circle cx="535.1" cy="200.6" r="1.4"/><circle cx="535.0" cy="216.9" r="1.4"/><circle cx="528.6" cy="203.2" r="1.4"/><circle cx="533.7" cy="206.0" r="1.4"/><circle cx="529.4" cy="184.7" r="1.4"/><circle cx="534.2" cy="212.5" r="1.4"/><circle cx="525.7" cy="215.4" r="1.4"/><circle cx="529.6" cy="201.4" r="1.4"/><circle cx="531.2" cy="185.7" r="1.4"/><circle cx="530.3" cy="218.2" r="1.4"/><circle cx="533.5" cy="205.9" r="1.4"/><circle cx="526.4" cy="199.8" r="1.4"/><circle cx="530.6" cy="200.0" r="1.4"/><circle cx="530.2" cy="184.3" r="1.4"/><circle cx="530.6" cy="205.5" r="1.4"/><circle cx="526.2" cy="193.5" r="1.4"/><circle cx="534.1" cy="197.0" r="1.4"/><circle cx="531.5" cy="188.3" r="1.4"/><circle cx="527.4" cy="193.3" r="1.4"/><circle cx="531.0" cy="177.6" r="1.4"/><circle cx="524.7" cy="209.9" r="1.4"/><circle cx="529.4" cy="194.1" r="1.4"/><circle cx="524.4" cy="207.6" r="1.4"/><circle cx="525.7" cy="201.1" r="1.4"/><circle cx="523.4" cy="219.4" r="1.4"/><circle cx="530.1" cy="204.2" r="1.4"/><circle cx="533.4" cy="214.1" r="1.4"/><circle cx="529.9" cy="204.0" r="1.4"/><circle cx="525.1" cy="215.8" r="1.4"/><circle cx="534.4" cy="189.0" r="1.4"/><circle cx="530.2" cy="203.8" r="1.4"/><circle cx="530.2" cy="207.6" r="1.4"/><circle cx="533.3" cy="218.8" r="1.4"/><circle cx="520.0" cy="200.7" r="1.4"/><circle cx="521.6" cy="200.1" r="1.4"/><circle cx="519.2" cy="195.5" r="1.4"/><circle cx="517.1" cy="199.9" r="1.4"/><circle cx="523.8" cy="212.7" r="1.4"/><circle cx="521.4" cy="192.2" r="1.4"/><circle cx="523.0" cy="195.6" r="1.4"/><circle cx="521.9" cy="217.1" r="1.4"/><circle cx="516.7" cy="202.8" r="1.4"/><circle cx="513.0" cy="217.7" r="1.4"/><circle cx="521.7" cy="209.2" r="1.4"/><circle cx="520.7" cy="218.5" r="1.4"/><circle cx="519.4" cy="212.9" r="1.4"/><circle cx="512.0" cy="209.8" r="1.4"/><circle cx="523.1" cy="195.2" r="1.4"/><circle cx="509.2" cy="212.9" r="1.4"/><circle cx="523.3" cy="186.7" r="1.4"/><circle cx="516.1" cy="207.8" r="1.4"/><circle cx="518.4" cy="206.1" r="1.4"/><circle cx="522.1" cy="203.0" r="1.4"/><circle cx="523.0" cy="194.4" r="1.4"/><circle cx="521.3" cy="183.7" r="1.4"/><circle cx="519.8" cy="213.6" r="1.4"/><circle cx="522.7" cy="182.1" r="1.4"/><circle cx="522.5" cy="188.5" r="1.4"/><circle cx="519.0" cy="214.6" r="1.4"/><circle cx="513.6" cy="214.3" r="1.4"/><circle cx="523.3" cy="217.4" r="1.4"/><circle cx="520.6" cy="211.6" r="1.4"/><circle cx="523.9" cy="191.9" r="1.4"/><circle cx="522.5" cy="206.5" r="1.4"/><circle cx="520.2" cy="215.3" r="1.4"/><circle cx="519.5" cy="186.9" r="1.4"/><circle cx="518.0" cy="201.9" r="1.4"/><circle cx="521.7" cy="217.6" r="1.4"/><circle cx="516.0" cy="217.3" r="1.4"/><circle cx="509.1" cy="217.3" r="1.4"/><circle cx="514.7" cy="210.5" r="1.4"/><circle cx="522.5" cy="195.4" r="1.4"/><circle cx="517.8" cy="208.3" r="1.4"/><circle cx="520.2" cy="26.5" r="1.4"/><circle cx="534.8" cy="35.0" r="1.4"/><circle cx="523.2" cy="57.6" r="1.4"/><circle cx="526.1" cy="104.8" r="1.4"/><circle cx="531.4" cy="103.9" r="1.4"/><circle cx="531.4" cy="135.0" r="1.4"/><circle cx="535.4" cy="139.3" r="1.4"/><circle cx="524.7" cy="141.4" r="1.4"/><circle cx="526.3" cy="141.6" r="1.4"/><circle cx="531.4" cy="145.1" r="1.4"/><circle cx="527.1" cy="152.7" r="1.4"/><circle cx="532.1" cy="156.5" r="1.4"/><circle cx="534.2" cy="158.6" r="1.4"/><circle cx="528.5" cy="161.3" r="1.4"/><circle cx="532.6" cy="161.0" r="1.4"/><circle cx="527.7" cy="162.6" r="1.4"/><circle cx="509.3" cy="166.6" r="1.4"/><circle cx="516.5" cy="168.3" r="1.4"/><circle cx="529.3" cy="169.0" r="1.4"/><circle cx="535.0" cy="165.8" r="1.4"/><circle cx="523.7" cy="173.0" r="1.4"/><circle cx="525.3" cy="172.6" r="1.4"/><circle cx="531.8" cy="172.3" r="1.4"/><circle cx="534.2" cy="175.5" r="1.4"/><circle cx="514.9" cy="178.7" r="1.4"/><circle cx="530.0" cy="178.7" r="1.4"/><circle cx="505.4" cy="194.4" r="1.4"/><circle cx="514.4" cy="179.4" r="1.4"/><circle cx="512.7" cy="183.3" r="1.4"/><circle cx="517.0" cy="180.5" r="1.4"/><circle cx="519.5" cy="174.3" r="1.4"/><circle cx="523.2" cy="173.1" r="1.4"/><circle cx="529.0" cy="170.0" r="1.4"/><circle cx="523.7" cy="186.4" r="1.4"/><circle cx="518.9" cy="188.0" r="1.4"/><circle cx="520.5" cy="191.5" r="1.4"/><circle cx="513.0" cy="196.7" r="1.4"/><circle cx="514.7" cy="203.0" r="1.4"/><circle cx="511.3" cy="207.1" r="1.4"/><circle cx="516.0" cy="210.0" r="1.4"/><circle cx="505.2" cy="215.9" r="1.4"/><circle cx="511.3" cy="215.3" r="1.4"/><circle cx="514.7" cy="215.9" r="1.4"/><circle cx="521.0" cy="214.0" r="1.4"/><circle cx="526.6" cy="152.8" r="1.4"/><circle cx="531.0" cy="157.0" r="1.4"/><circle cx="527.6" cy="162.0" r="1.4"/><circle cx="533.5" cy="160.9" r="1.4"/><circle cx="529.0" cy="167.6" r="1.4"/><circle cx="518.0" cy="200.0" r="1.4"/><circle cx="519.0" cy="206.0" r="1.4"/><circle cx="517.0" cy="195.0" r="1.4"/></g>
<g fill="#f3463f"><circle cx="563.0" cy="194.9" r="1.4"/><circle cx="561.7" cy="185.3" r="1.4"/><circle cx="563.7" cy="197.1" r="1.4"/><circle cx="556.4" cy="186.8" r="1.4"/><circle cx="558.7" cy="178.8" r="1.4"/><circle cx="556.9" cy="181.6" r="1.4"/><circle cx="558.4" cy="177.9" r="1.4"/><circle cx="558.9" cy="218.4" r="1.4"/><circle cx="558.5" cy="200.0" r="1.4"/><circle cx="557.2" cy="201.1" r="1.4"/><circle cx="562.8" cy="209.7" r="1.4"/><circle cx="560.0" cy="187.9" r="1.4"/><circle cx="556.5" cy="183.2" r="1.4"/><circle cx="567.8" cy="216.8" r="1.4"/><circle cx="559.5" cy="197.5" r="1.4"/><circle cx="561.7" cy="191.8" r="1.4"/><circle cx="556.5" cy="197.3" r="1.4"/><circle cx="559.3" cy="209.5" r="1.4"/><circle cx="558.1" cy="201.6" r="1.4"/><circle cx="557.0" cy="214.1" r="1.4"/><circle cx="565.3" cy="210.2" r="1.4"/><circle cx="558.3" cy="203.2" r="1.4"/><circle cx="564.4" cy="208.7" r="1.4"/><circle cx="562.9" cy="217.7" r="1.4"/><circle cx="561.5" cy="194.0" r="1.4"/><circle cx="556.5" cy="197.7" r="1.4"/><circle cx="562.0" cy="208.0" r="1.4"/><circle cx="556.7" cy="184.5" r="1.4"/><circle cx="562.3" cy="211.9" r="1.4"/><circle cx="560.2" cy="219.2" r="1.4"/><circle cx="562.6" cy="202.8" r="1.4"/><circle cx="560.1" cy="206.7" r="1.4"/><circle cx="562.3" cy="207.0" r="1.4"/><circle cx="559.4" cy="211.3" r="1.4"/><circle cx="556.3" cy="218.4" r="1.4"/><circle cx="561.8" cy="212.3" r="1.4"/><circle cx="563.7" cy="196.5" r="1.4"/><circle cx="561.5" cy="195.2" r="1.4"/><circle cx="560.3" cy="205.5" r="1.4"/><circle cx="556.6" cy="182.6" r="1.4"/><circle cx="558.5" cy="193.4" r="1.4"/><circle cx="560.7" cy="217.0" r="1.4"/><circle cx="564.9" cy="205.1" r="1.4"/><circle cx="558.8" cy="207.2" r="1.4"/><circle cx="561.6" cy="203.4" r="1.4"/><circle cx="557.5" cy="193.3" r="1.4"/><circle cx="557.0" cy="194.9" r="1.4"/><circle cx="559.4" cy="209.1" r="1.4"/><circle cx="557.1" cy="183.9" r="1.4"/><circle cx="564.5" cy="203.6" r="1.4"/><circle cx="561.3" cy="215.4" r="1.4"/><circle cx="563.8" cy="215.0" r="1.4"/><circle cx="557.0" cy="217.5" r="1.4"/><circle cx="564.5" cy="201.2" r="1.4"/><circle cx="559.7" cy="214.1" r="1.4"/><circle cx="559.3" cy="214.8" r="1.4"/><circle cx="558.8" cy="195.7" r="1.4"/><circle cx="557.8" cy="193.3" r="1.4"/><circle cx="556.3" cy="197.1" r="1.4"/><circle cx="561.1" cy="207.4" r="1.4"/><circle cx="558.9" cy="216.9" r="1.4"/><circle cx="557.5" cy="208.5" r="1.4"/><circle cx="563.8" cy="216.0" r="1.4"/><circle cx="566.5" cy="216.1" r="1.4"/><circle cx="557.1" cy="198.8" r="1.4"/><circle cx="562.0" cy="195.1" r="1.4"/><circle cx="564.2" cy="215.4" r="1.4"/><circle cx="566.8" cy="218.0" r="1.4"/><circle cx="565.3" cy="208.9" r="1.4"/><circle cx="558.0" cy="204.2" r="1.4"/><circle cx="563.3" cy="216.8" r="1.4"/><circle cx="560.5" cy="214.4" r="1.4"/><circle cx="559.0" cy="182.3" r="1.4"/><circle cx="558.8" cy="209.5" r="1.4"/><circle cx="560.2" cy="212.0" r="1.4"/><circle cx="557.5" cy="186.4" r="1.4"/><circle cx="560.3" cy="199.7" r="1.4"/><circle cx="560.2" cy="204.9" r="1.4"/><circle cx="560.3" cy="208.5" r="1.4"/><circle cx="558.4" cy="190.9" r="1.4"/><circle cx="557.8" cy="188.2" r="1.4"/><circle cx="558.3" cy="176.7" r="1.4"/><circle cx="565.4" cy="218.4" r="1.4"/><circle cx="557.4" cy="208.7" r="1.4"/><circle cx="560.4" cy="203.2" r="1.4"/><circle cx="556.4" cy="205.6" r="1.4"/><circle cx="561.0" cy="188.9" r="1.4"/><circle cx="560.9" cy="210.5" r="1.4"/><circle cx="559.3" cy="189.8" r="1.4"/><circle cx="560.4" cy="195.2" r="1.4"/><circle cx="558.7" cy="176.2" r="1.4"/><circle cx="564.8" cy="210.7" r="1.4"/><circle cx="558.4" cy="183.1" r="1.4"/><circle cx="557.2" cy="194.1" r="1.4"/><circle cx="565.3" cy="216.2" r="1.4"/><circle cx="561.1" cy="205.7" r="1.4"/><circle cx="563.1" cy="218.6" r="1.4"/><circle cx="562.8" cy="199.3" r="1.4"/><circle cx="567.0" cy="212.0" r="1.4"/><circle cx="560.3" cy="190.1" r="1.4"/><circle cx="557.9" cy="197.8" r="1.4"/><circle cx="559.8" cy="201.4" r="1.4"/><circle cx="560.3" cy="186.9" r="1.4"/><circle cx="560.0" cy="196.8" r="1.4"/><circle cx="556.7" cy="206.8" r="1.4"/><circle cx="561.4" cy="187.0" r="1.4"/><circle cx="557.0" cy="188.2" r="1.4"/><circle cx="558.7" cy="217.9" r="1.4"/><circle cx="557.2" cy="187.5" r="1.4"/><circle cx="565.8" cy="215.6" r="1.4"/><circle cx="558.1" cy="213.2" r="1.4"/><circle cx="560.7" cy="200.4" r="1.4"/><circle cx="557.8" cy="203.5" r="1.4"/><circle cx="560.0" cy="209.4" r="1.4"/><circle cx="558.4" cy="197.3" r="1.4"/><circle cx="559.3" cy="186.0" r="1.4"/><circle cx="562.4" cy="199.8" r="1.4"/><circle cx="562.3" cy="207.8" r="1.4"/><circle cx="563.4" cy="217.4" r="1.4"/><circle cx="560.7" cy="185.1" r="1.4"/><circle cx="562.2" cy="205.6" r="1.4"/><circle cx="559.9" cy="212.4" r="1.4"/><circle cx="557.1" cy="191.2" r="1.4"/><circle cx="556.6" cy="200.7" r="1.4"/><circle cx="560.4" cy="218.9" r="1.4"/><circle cx="558.9" cy="207.8" r="1.4"/><circle cx="561.7" cy="194.6" r="1.4"/><circle cx="562.3" cy="191.8" r="1.4"/><circle cx="567.5" cy="212.4" r="1.4"/><circle cx="559.0" cy="184.6" r="1.4"/><circle cx="564.1" cy="209.2" r="1.4"/><circle cx="562.0" cy="214.7" r="1.4"/><circle cx="563.2" cy="209.6" r="1.4"/><circle cx="566.6" cy="214.3" r="1.4"/><circle cx="560.9" cy="199.4" r="1.4"/><circle cx="564.6" cy="199.5" r="1.4"/><circle cx="557.8" cy="187.4" r="1.4"/><circle cx="560.3" cy="214.0" r="1.4"/><circle cx="559.5" cy="194.0" r="1.4"/><circle cx="563.9" cy="211.0" r="1.4"/><circle cx="558.7" cy="204.4" r="1.4"/><circle cx="557.7" cy="195.1" r="1.4"/><circle cx="562.2" cy="192.3" r="1.4"/><circle cx="562.9" cy="199.7" r="1.4"/><circle cx="561.0" cy="196.9" r="1.4"/><circle cx="559.2" cy="182.8" r="1.4"/><circle cx="559.7" cy="188.8" r="1.4"/><circle cx="558.8" cy="187.9" r="1.4"/><circle cx="560.5" cy="185.3" r="1.4"/><circle cx="556.5" cy="211.1" r="1.4"/><circle cx="558.0" cy="185.2" r="1.4"/><circle cx="558.8" cy="206.8" r="1.4"/><circle cx="557.2" cy="193.9" r="1.4"/><circle cx="558.0" cy="201.2" r="1.4"/><circle cx="559.2" cy="183.7" r="1.4"/><circle cx="560.3" cy="210.6" r="1.4"/><circle cx="561.2" cy="216.4" r="1.4"/><circle cx="556.8" cy="198.4" r="1.4"/><circle cx="560.5" cy="205.6" r="1.4"/><circle cx="558.1" cy="195.0" r="1.4"/><circle cx="558.5" cy="218.4" r="1.4"/><circle cx="560.1" cy="197.1" r="1.4"/><circle cx="563.2" cy="197.9" r="1.4"/><circle cx="561.2" cy="197.1" r="1.4"/><circle cx="557.6" cy="212.1" r="1.4"/><circle cx="558.1" cy="203.9" r="1.4"/><circle cx="560.1" cy="209.5" r="1.4"/><circle cx="559.1" cy="184.0" r="1.4"/><circle cx="563.6" cy="215.7" r="1.4"/><circle cx="558.3" cy="190.2" r="1.4"/><circle cx="564.5" cy="202.5" r="1.4"/><circle cx="563.5" cy="213.8" r="1.4"/><circle cx="566.5" cy="219.4" r="1.4"/><circle cx="557.0" cy="178.5" r="1.4"/><circle cx="560.4" cy="196.8" r="1.4"/><circle cx="561.9" cy="207.8" r="1.4"/><circle cx="560.4" cy="203.9" r="1.4"/><circle cx="559.8" cy="197.0" r="1.4"/><circle cx="556.4" cy="206.6" r="1.4"/><circle cx="564.2" cy="203.4" r="1.4"/><circle cx="576.9" cy="210.2" r="1.4"/><circle cx="574.4" cy="207.8" r="1.4"/><circle cx="567.3" cy="198.3" r="1.4"/><circle cx="564.0" cy="198.9" r="1.4"/><circle cx="573.6" cy="211.0" r="1.4"/><circle cx="571.3" cy="202.1" r="1.4"/><circle cx="569.8" cy="194.2" r="1.4"/><circle cx="567.2" cy="187.0" r="1.4"/><circle cx="573.1" cy="208.5" r="1.4"/><circle cx="579.3" cy="211.5" r="1.4"/><circle cx="562.2" cy="213.6" r="1.4"/><circle cx="568.6" cy="201.2" r="1.4"/><circle cx="565.9" cy="206.6" r="1.4"/><circle cx="568.3" cy="209.1" r="1.4"/><circle cx="569.0" cy="194.5" r="1.4"/><circle cx="565.7" cy="215.9" r="1.4"/><circle cx="574.7" cy="209.5" r="1.4"/><circle cx="563.6" cy="184.4" r="1.4"/><circle cx="565.5" cy="187.6" r="1.4"/><circle cx="564.3" cy="197.8" r="1.4"/><circle cx="569.9" cy="191.3" r="1.4"/><circle cx="578.6" cy="214.5" r="1.4"/><circle cx="564.5" cy="187.3" r="1.4"/><circle cx="575.9" cy="207.5" r="1.4"/><circle cx="562.2" cy="188.5" r="1.4"/><circle cx="578.7" cy="212.7" r="1.4"/><circle cx="568.1" cy="192.0" r="1.4"/><circle cx="562.6" cy="192.8" r="1.4"/><circle cx="563.0" cy="191.6" r="1.4"/><circle cx="566.9" cy="203.5" r="1.4"/><circle cx="575.5" cy="214.5" r="1.4"/><circle cx="562.0" cy="198.2" r="1.4"/><circle cx="563.4" cy="199.4" r="1.4"/><circle cx="562.3" cy="201.5" r="1.4"/><circle cx="567.4" cy="204.0" r="1.4"/><circle cx="570.4" cy="217.8" r="1.4"/><circle cx="566.2" cy="193.1" r="1.4"/><circle cx="572.5" cy="203.4" r="1.4"/><circle cx="569.5" cy="201.3" r="1.4"/><circle cx="566.7" cy="187.5" r="1.4"/><circle cx="559.5" cy="42.0" r="1.4"/><circle cx="591.3" cy="121.7" r="1.4"/><circle cx="561.8" cy="133.2" r="1.4"/><circle cx="570.3" cy="140.0" r="1.4"/><circle cx="589.6" cy="147.2" r="1.4"/><circle cx="603.8" cy="209.3" r="1.4"/><circle cx="590.1" cy="217.0" r="1.4"/><circle cx="585.5" cy="210.5" r="1.4"/><circle cx="558.0" cy="145.8" r="1.4"/><circle cx="559.0" cy="148.2" r="1.4"/><circle cx="557.4" cy="153.0" r="1.4"/><circle cx="559.4" cy="151.7" r="1.4"/><circle cx="560.7" cy="161.8" r="1.4"/><circle cx="559.0" cy="162.6" r="1.4"/><circle cx="559.5" cy="168.3" r="1.4"/><circle cx="559.9" cy="174.7" r="1.4"/><circle cx="577.5" cy="175.5" r="1.4"/><circle cx="575.0" cy="178.7" r="1.4"/><circle cx="566.8" cy="179.0" r="1.4"/><circle cx="559.0" cy="151.7" r="1.4"/><circle cx="557.4" cy="154.5" r="1.4"/><circle cx="558.8" cy="162.7" r="1.4"/><circle cx="561.2" cy="162.0" r="1.4"/><circle cx="559.5" cy="167.6" r="1.4"/><circle cx="556.7" cy="170.9" r="1.4"/><circle cx="560.0" cy="175.0" r="1.4"/><circle cx="578.0" cy="175.7" r="1.4"/><circle cx="574.6" cy="179.0" r="1.4"/><circle cx="566.6" cy="179.6" r="1.4"/><circle cx="563.5" cy="181.8" r="1.4"/><circle cx="572.0" cy="190.7" r="1.4"/><circle cx="583.4" cy="190.3" r="1.4"/><circle cx="573.6" cy="193.4" r="1.4"/><circle cx="571.5" cy="197.1" r="1.4"/><circle cx="579.0" cy="197.8" r="1.4"/><circle cx="569.0" cy="200.3" r="1.4"/><circle cx="572.3" cy="203.0" r="1.4"/><circle cx="581.0" cy="203.0" r="1.4"/><circle cx="570.0" cy="207.8" r="1.4"/><circle cx="573.8" cy="206.5" r="1.4"/><circle cx="578.0" cy="207.0" r="1.4"/><circle cx="575.8" cy="209.0" r="1.4"/><circle cx="581.0" cy="210.5" r="1.4"/><circle cx="586.0" cy="210.5" r="1.4"/><circle cx="604.0" cy="209.4" r="1.4"/><circle cx="579.0" cy="216.4" r="1.4"/><circle cx="590.2" cy="217.0" r="1.4"/><circle cx="567.2" cy="216.5" r="1.4"/></g>
<g fill="#89cdf1"><circle cx="539.1" cy="197.9" r="1.4"/><circle cx="539.6" cy="215.3" r="1.4"/><circle cx="542.3" cy="218.8" r="1.4"/><circle cx="543.5" cy="212.1" r="1.4"/><circle cx="545.2" cy="209.2" r="1.4"/><circle cx="542.6" cy="201.7" r="1.4"/><circle cx="544.5" cy="208.5" r="1.4"/><circle cx="540.9" cy="212.3" r="1.4"/><circle cx="540.2" cy="203.8" r="1.4"/><circle cx="543.3" cy="196.9" r="1.4"/><circle cx="542.8" cy="207.4" r="1.4"/><circle cx="543.1" cy="190.6" r="1.4"/><circle cx="542.0" cy="208.0" r="1.4"/><circle cx="543.1" cy="202.8" r="1.4"/><circle cx="538.1" cy="200.7" r="1.4"/><circle cx="542.1" cy="207.5" r="1.4"/><circle cx="541.9" cy="208.1" r="1.4"/><circle cx="538.1" cy="180.4" r="1.4"/><circle cx="542.6" cy="185.4" r="1.4"/><circle cx="541.7" cy="214.1" r="1.4"/><circle cx="537.3" cy="197.3" r="1.4"/><circle cx="538.1" cy="185.2" r="1.4"/><circle cx="544.4" cy="196.8" r="1.4"/><circle cx="537.5" cy="209.2" r="1.4"/><circle cx="540.3" cy="211.6" r="1.4"/><circle cx="540.8" cy="208.2" r="1.4"/><circle cx="541.2" cy="212.6" r="1.4"/><circle cx="542.0" cy="185.4" r="1.4"/><circle cx="541.1" cy="182.6" r="1.4"/><circle cx="542.2" cy="217.2" r="1.4"/><circle cx="544.9" cy="181.4" r="1.4"/><circle cx="543.3" cy="218.5" r="1.4"/><circle cx="540.8" cy="214.8" r="1.4"/><circle cx="540.7" cy="188.7" r="1.4"/><circle cx="540.2" cy="211.2" r="1.4"/><circle cx="538.8" cy="194.4" r="1.4"/><circle cx="540.0" cy="195.0" r="1.4"/><circle cx="540.1" cy="193.5" r="1.4"/><circle cx="541.0" cy="191.0" r="1.4"/><circle cx="544.9" cy="211.8" r="1.4"/><circle cx="545.3" cy="204.4" r="1.4"/><circle cx="539.3" cy="202.9" r="1.4"/><circle cx="538.5" cy="207.8" r="1.4"/><circle cx="542.6" cy="201.5" r="1.4"/><circle cx="536.8" cy="215.1" r="1.4"/><circle cx="543.2" cy="189.0" r="1.4"/><circle cx="542.9" cy="186.5" r="1.4"/><circle cx="537.0" cy="187.8" r="1.4"/><circle cx="545.1" cy="212.8" r="1.4"/><circle cx="541.3" cy="192.8" r="1.4"/><circle cx="541.4" cy="189.6" r="1.4"/><circle cx="541.1" cy="197.7" r="1.4"/><circle cx="538.0" cy="218.8" r="1.4"/><circle cx="539.1" cy="209.7" r="1.4"/><circle cx="539.5" cy="180.3" r="1.4"/><circle cx="538.8" cy="214.2" r="1.4"/><circle cx="542.2" cy="217.6" r="1.4"/><circle cx="541.4" cy="217.4" r="1.4"/><circle cx="536.8" cy="215.3" r="1.4"/><circle cx="543.9" cy="196.6" r="1.4"/><circle cx="542.2" cy="183.5" r="1.4"/><circle cx="537.4" cy="197.8" r="1.4"/><circle cx="538.8" cy="196.8" r="1.4"/><circle cx="543.8" cy="196.4" r="1.4"/><circle cx="539.6" cy="201.2" r="1.4"/><circle cx="537.8" cy="186.4" r="1.4"/><circle cx="543.9" cy="217.6" r="1.4"/><circle cx="542.8" cy="213.4" r="1.4"/><circle cx="537.0" cy="210.0" r="1.4"/><circle cx="541.5" cy="197.3" r="1.4"/><circle cx="543.9" cy="187.1" r="1.4"/><circle cx="542.5" cy="201.6" r="1.4"/><circle cx="544.8" cy="197.5" r="1.4"/><circle cx="542.2" cy="210.0" r="1.4"/><circle cx="540.8" cy="204.8" r="1.4"/><circle cx="539.1" cy="189.9" r="1.4"/><circle cx="545.3" cy="215.0" r="1.4"/><circle cx="540.7" cy="190.5" r="1.4"/><circle cx="536.9" cy="193.1" r="1.4"/><circle cx="544.7" cy="199.1" r="1.4"/><circle cx="544.0" cy="196.5" r="1.4"/><circle cx="543.1" cy="204.4" r="1.4"/><circle cx="544.2" cy="205.1" r="1.4"/><circle cx="543.0" cy="214.5" r="1.4"/><circle cx="539.3" cy="212.6" r="1.4"/><circle cx="539.1" cy="194.3" r="1.4"/><circle cx="539.6" cy="195.6" r="1.4"/><circle cx="542.7" cy="213.2" r="1.4"/><circle cx="538.8" cy="200.5" r="1.4"/><circle cx="536.7" cy="202.9" r="1.4"/><circle cx="541.1" cy="213.5" r="1.4"/><circle cx="538.4" cy="213.1" r="1.4"/><circle cx="540.8" cy="204.9" r="1.4"/><circle cx="537.8" cy="181.1" r="1.4"/><circle cx="542.4" cy="214.4" r="1.4"/><circle cx="544.1" cy="213.7" r="1.4"/><circle cx="539.7" cy="182.7" r="1.4"/><circle cx="545.3" cy="202.2" r="1.4"/><circle cx="541.6" cy="190.1" r="1.4"/><circle cx="538.9" cy="199.2" r="1.4"/><circle cx="539.3" cy="194.3" r="1.4"/><circle cx="538.9" cy="206.6" r="1.4"/><circle cx="544.3" cy="218.9" r="1.4"/><circle cx="545.1" cy="197.1" r="1.4"/><circle cx="544.0" cy="190.2" r="1.4"/><circle cx="543.1" cy="192.7" r="1.4"/><circle cx="544.7" cy="198.9" r="1.4"/><circle cx="539.1" cy="196.8" r="1.4"/><circle cx="540.0" cy="185.2" r="1.4"/><circle cx="543.4" cy="217.1" r="1.4"/><circle cx="542.6" cy="203.8" r="1.4"/><circle cx="541.8" cy="204.0" r="1.4"/><circle cx="541.4" cy="178.7" r="1.4"/><circle cx="541.0" cy="187.5" r="1.4"/><circle cx="538.2" cy="177.4" r="1.4"/><circle cx="542.0" cy="202.9" r="1.4"/><circle cx="541.2" cy="199.7" r="1.4"/><circle cx="542.6" cy="205.9" r="1.4"/><circle cx="537.7" cy="204.1" r="1.4"/><circle cx="542.8" cy="204.3" r="1.4"/><circle cx="542.5" cy="191.0" r="1.4"/><circle cx="539.6" cy="197.1" r="1.4"/><circle cx="538.3" cy="180.7" r="1.4"/><circle cx="540.8" cy="190.8" r="1.4"/><circle cx="539.8" cy="196.3" r="1.4"/><circle cx="541.1" cy="191.8" r="1.4"/><circle cx="539.4" cy="208.2" r="1.4"/><circle cx="541.2" cy="217.1" r="1.4"/><circle cx="540.3" cy="201.9" r="1.4"/><circle cx="543.5" cy="212.9" r="1.4"/><circle cx="541.0" cy="190.6" r="1.4"/><circle cx="538.8" cy="188.5" r="1.4"/><circle cx="544.9" cy="198.4" r="1.4"/><circle cx="537.5" cy="199.2" r="1.4"/><circle cx="541.9" cy="208.0" r="1.4"/><circle cx="542.5" cy="184.1" r="1.4"/><circle cx="543.3" cy="205.2" r="1.4"/><circle cx="536.9" cy="195.5" r="1.4"/><circle cx="543.7" cy="217.2" r="1.4"/><circle cx="540.6" cy="212.1" r="1.4"/><circle cx="539.5" cy="202.7" r="1.4"/><circle cx="541.8" cy="211.9" r="1.4"/><circle cx="542.2" cy="191.5" r="1.4"/><circle cx="539.0" cy="195.5" r="1.4"/><circle cx="538.5" cy="202.1" r="1.4"/><circle cx="537.8" cy="186.2" r="1.4"/><circle cx="537.1" cy="184.4" r="1.4"/><circle cx="540.5" cy="214.9" r="1.4"/><circle cx="543.1" cy="210.3" r="1.4"/><circle cx="543.3" cy="191.0" r="1.4"/><circle cx="542.9" cy="216.5" r="1.4"/><circle cx="540.1" cy="189.6" r="1.4"/><circle cx="539.2" cy="213.4" r="1.4"/><circle cx="537.8" cy="192.5" r="1.4"/><circle cx="538.1" cy="209.4" r="1.4"/><circle cx="542.4" cy="207.5" r="1.4"/><circle cx="538.8" cy="201.5" r="1.4"/><circle cx="545.4" cy="213.9" r="1.4"/><circle cx="543.5" cy="194.7" r="1.4"/><circle cx="538.1" cy="184.5" r="1.4"/><circle cx="543.3" cy="204.3" r="1.4"/><circle cx="539.0" cy="186.5" r="1.4"/><circle cx="541.9" cy="194.2" r="1.4"/><circle cx="537.8" cy="199.0" r="1.4"/><circle cx="538.8" cy="200.2" r="1.4"/><circle cx="539.6" cy="186.6" r="1.4"/><circle cx="542.4" cy="191.8" r="1.4"/><circle cx="542.9" cy="182.5" r="1.4"/><circle cx="542.1" cy="202.7" r="1.4"/><circle cx="536.8" cy="188.8" r="1.4"/><circle cx="537.1" cy="183.8" r="1.4"/><circle cx="538.3" cy="201.0" r="1.4"/><circle cx="545.1" cy="200.4" r="1.4"/><circle cx="544.8" cy="196.4" r="1.4"/><circle cx="539.0" cy="217.5" r="1.4"/><circle cx="539.8" cy="197.5" r="1.4"/><circle cx="542.0" cy="215.6" r="1.4"/><circle cx="541.3" cy="185.1" r="1.4"/><circle cx="540.4" cy="197.8" r="1.4"/><circle cx="541.6" cy="192.9" r="1.4"/><circle cx="539.0" cy="201.4" r="1.4"/><circle cx="540.6" cy="215.8" r="1.4"/><circle cx="538.5" cy="198.1" r="1.4"/><circle cx="544.9" cy="184.2" r="1.4"/><circle cx="537.6" cy="184.3" r="1.4"/><circle cx="540.7" cy="210.0" r="1.4"/><circle cx="541.3" cy="190.3" r="1.4"/><circle cx="537.2" cy="214.4" r="1.4"/><circle cx="538.5" cy="211.7" r="1.4"/><circle cx="544.2" cy="181.7" r="1.4"/><circle cx="537.6" cy="218.3" r="1.4"/><circle cx="542.1" cy="193.8" r="1.4"/><circle cx="540.5" cy="210.4" r="1.4"/><circle cx="544.3" cy="202.9" r="1.4"/><circle cx="537.3" cy="189.1" r="1.4"/><circle cx="537.4" cy="198.6" r="1.4"/><circle cx="538.2" cy="208.9" r="1.4"/><circle cx="540.8" cy="191.1" r="1.4"/><circle cx="541.9" cy="205.4" r="1.4"/><circle cx="543.8" cy="208.5" r="1.4"/><circle cx="538.7" cy="194.4" r="1.4"/><circle cx="542.2" cy="198.2" r="1.4"/><circle cx="539.1" cy="196.2" r="1.4"/><circle cx="540.2" cy="194.7" r="1.4"/><circle cx="542.0" cy="190.9" r="1.4"/><circle cx="541.1" cy="190.0" r="1.4"/><circle cx="541.1" cy="208.0" r="1.4"/><circle cx="539.8" cy="218.5" r="1.4"/><circle cx="540.0" cy="173.7" r="1.4"/><circle cx="542.0" cy="179.6" r="1.4"/><circle cx="543.6" cy="200.0" r="1.4"/><circle cx="543.1" cy="192.7" r="1.4"/><circle cx="537.9" cy="194.2" r="1.4"/><circle cx="536.9" cy="204.5" r="1.4"/><circle cx="541.9" cy="212.7" r="1.4"/><circle cx="541.3" cy="205.4" r="1.4"/><circle cx="544.7" cy="186.9" r="1.4"/><circle cx="545.3" cy="215.9" r="1.4"/><circle cx="536.8" cy="201.9" r="1.4"/><circle cx="539.3" cy="198.4" r="1.4"/><circle cx="540.0" cy="214.6" r="1.4"/><circle cx="538.1" cy="205.4" r="1.4"/><circle cx="540.8" cy="211.9" r="1.4"/><circle cx="540.8" cy="194.3" r="1.4"/><circle cx="537.7" cy="208.3" r="1.4"/><circle cx="539.7" cy="194.2" r="1.4"/><circle cx="543.2" cy="183.3" r="1.4"/><circle cx="537.0" cy="204.4" r="1.4"/><circle cx="543.7" cy="190.5" r="1.4"/><circle cx="541.3" cy="209.0" r="1.4"/><circle cx="540.7" cy="184.1" r="1.4"/><circle cx="544.0" cy="207.2" r="1.4"/><circle cx="544.6" cy="185.0" r="1.4"/><circle cx="536.8" cy="209.5" r="1.4"/><circle cx="537.7" cy="202.1" r="1.4"/><circle cx="541.6" cy="211.0" r="1.4"/><circle cx="544.1" cy="202.6" r="1.4"/><circle cx="541.1" cy="190.6" r="1.4"/><circle cx="539.0" cy="209.9" r="1.4"/><circle cx="537.7" cy="208.1" r="1.4"/><circle cx="541.1" cy="195.9" r="1.4"/><circle cx="542.0" cy="191.2" r="1.4"/><circle cx="539.8" cy="190.6" r="1.4"/><circle cx="541.0" cy="200.0" r="1.4"/><circle cx="542.1" cy="201.3" r="1.4"/><circle cx="539.3" cy="213.2" r="1.4"/><circle cx="537.1" cy="205.1" r="1.4"/><circle cx="541.0" cy="196.8" r="1.4"/><circle cx="540.5" cy="197.2" r="1.4"/><circle cx="541.8" cy="209.2" r="1.4"/><circle cx="542.1" cy="204.1" r="1.4"/><circle cx="544.0" cy="197.4" r="1.4"/><circle cx="544.8" cy="216.4" r="1.4"/><circle cx="537.5" cy="197.5" r="1.4"/><circle cx="543.5" cy="211.5" r="1.4"/><circle cx="545.3" cy="191.1" r="1.4"/><circle cx="539.6" cy="205.1" r="1.4"/><circle cx="541.7" cy="194.7" r="1.4"/><circle cx="545.2" cy="209.5" r="1.4"/><circle cx="541.5" cy="197.6" r="1.4"/><circle cx="538.0" cy="187.7" r="1.4"/><circle cx="541.4" cy="191.9" r="1.4"/><circle cx="544.4" cy="212.4" r="1.4"/><circle cx="543.2" cy="182.7" r="1.4"/><circle cx="538.3" cy="202.1" r="1.4"/><circle cx="538.7" cy="209.6" r="1.4"/><circle cx="539.2" cy="198.1" r="1.4"/><circle cx="541.7" cy="197.0" r="1.4"/><circle cx="541.4" cy="199.5" r="1.4"/><circle cx="544.2" cy="215.3" r="1.4"/><circle cx="542.0" cy="212.7" r="1.4"/><circle cx="539.7" cy="183.2" r="1.4"/><circle cx="541.8" cy="195.4" r="1.4"/><circle cx="539.8" cy="201.1" r="1.4"/><circle cx="540.7" cy="205.8" r="1.4"/><circle cx="542.0" cy="204.3" r="1.4"/><circle cx="537.5" cy="193.0" r="1.4"/><circle cx="542.9" cy="216.3" r="1.4"/><circle cx="538.5" cy="201.0" r="1.4"/><circle cx="542.2" cy="199.1" r="1.4"/><circle cx="537.9" cy="183.4" r="1.4"/><circle cx="541.8" cy="182.7" r="1.4"/><circle cx="544.9" cy="188.0" r="1.4"/><circle cx="543.7" cy="212.3" r="1.4"/><circle cx="538.6" cy="186.6" r="1.4"/><circle cx="544.8" cy="206.9" r="1.4"/><circle cx="537.9" cy="218.8" r="1.4"/><circle cx="543.8" cy="205.6" r="1.4"/><circle cx="544.9" cy="205.6" r="1.4"/><circle cx="541.4" cy="198.0" r="1.4"/><circle cx="539.1" cy="205.3" r="1.4"/><circle cx="538.3" cy="191.5" r="1.4"/><circle cx="543.6" cy="200.0" r="1.4"/><circle cx="541.1" cy="188.1" r="1.4"/><circle cx="543.8" cy="196.3" r="1.4"/><circle cx="536.8" cy="191.1" r="1.4"/><circle cx="540.8" cy="205.3" r="1.4"/><circle cx="542.6" cy="185.8" r="1.4"/><circle cx="541.8" cy="201.3" r="1.4"/><circle cx="538.2" cy="211.9" r="1.4"/><circle cx="541.9" cy="169.2" r="1.4"/><circle cx="545.3" cy="171.0" r="1.4"/><circle cx="540.5" cy="184.5" r="1.4"/><circle cx="540.2" cy="177.6" r="1.4"/><circle cx="542.6" cy="174.3" r="1.4"/><circle cx="542.0" cy="180.5" r="1.4"/><circle cx="541.9" cy="180.6" r="1.4"/><circle cx="543.2" cy="181.3" r="1.4"/><circle cx="545.3" cy="182.7" r="1.4"/><circle cx="537.4" cy="176.0" r="1.4"/><circle cx="539.7" cy="177.1" r="1.4"/><circle cx="536.6" cy="183.1" r="1.4"/><circle cx="542.2" cy="183.6" r="1.4"/><circle cx="545.2" cy="173.1" r="1.4"/><circle cx="542.5" cy="181.1" r="1.4"/><circle cx="539.5" cy="168.7" r="1.4"/><circle cx="536.9" cy="172.2" r="1.4"/><circle cx="538.7" cy="178.1" r="1.4"/><circle cx="545.0" cy="180.5" r="1.4"/><circle cx="542.5" cy="178.7" r="1.4"/><circle cx="543.4" cy="182.2" r="1.4"/><circle cx="541.1" cy="174.4" r="1.4"/><circle cx="541.2" cy="182.4" r="1.4"/><circle cx="541.7" cy="172.6" r="1.4"/><circle cx="540.0" cy="171.0" r="1.4"/><circle cx="538.1" cy="180.7" r="1.4"/><circle cx="537.4" cy="168.5" r="1.4"/><circle cx="537.6" cy="172.2" r="1.4"/><circle cx="540.3" cy="175.6" r="1.4"/><circle cx="544.7" cy="184.5" r="1.4"/><circle cx="545.0" cy="26.5" r="1.4"/><circle cx="537.4" cy="100.8" r="1.4"/><circle cx="543.0" cy="109.0" r="1.4"/><circle cx="537.9" cy="112.5" r="1.4"/><circle cx="537.9" cy="129.7" r="1.4"/><circle cx="539.0" cy="134.5" r="1.4"/><circle cx="542.8" cy="136.0" r="1.4"/><circle cx="544.8" cy="142.6" r="1.4"/><circle cx="537.5" cy="148.5" r="1.4"/><circle cx="540.9" cy="152.2" r="1.4"/><circle cx="543.8" cy="151.0" r="1.4"/><circle cx="545.4" cy="152.7" r="1.4"/><circle cx="538.2" cy="154.6" r="1.4"/><circle cx="539.8" cy="161.0" r="1.4"/><circle cx="536.6" cy="160.7" r="1.4"/><circle cx="539.3" cy="165.0" r="1.4"/><circle cx="541.0" cy="165.8" r="1.4"/><circle cx="544.6" cy="166.6" r="1.4"/><circle cx="539.8" cy="171.0" r="1.4"/><circle cx="541.4" cy="171.0" r="1.4"/><circle cx="539.3" cy="100.0" r="1.4"/></g>
<g fill="#f1b6c9"><circle cx="547.7" cy="200.9" r="1.4"/><circle cx="547.5" cy="204.2" r="1.4"/><circle cx="552.2" cy="186.6" r="1.4"/><circle cx="549.2" cy="218.3" r="1.4"/><circle cx="548.5" cy="211.4" r="1.4"/><circle cx="548.6" cy="185.1" r="1.4"/><circle cx="553.3" cy="206.8" r="1.4"/><circle cx="552.2" cy="214.9" r="1.4"/><circle cx="552.4" cy="219.0" r="1.4"/><circle cx="550.6" cy="192.8" r="1.4"/><circle cx="548.2" cy="189.5" r="1.4"/><circle cx="553.3" cy="190.3" r="1.4"/><circle cx="548.6" cy="211.5" r="1.4"/><circle cx="553.2" cy="213.9" r="1.4"/><circle cx="554.0" cy="187.4" r="1.4"/><circle cx="551.0" cy="194.2" r="1.4"/><circle cx="549.5" cy="210.6" r="1.4"/><circle cx="549.0" cy="215.2" r="1.4"/><circle cx="548.4" cy="213.4" r="1.4"/><circle cx="553.2" cy="188.8" r="1.4"/><circle cx="554.3" cy="209.3" r="1.4"/><circle cx="549.3" cy="186.3" r="1.4"/><circle cx="551.3" cy="212.2" r="1.4"/><circle cx="548.6" cy="208.6" r="1.4"/><circle cx="552.7" cy="216.8" r="1.4"/><circle cx="551.7" cy="203.2" r="1.4"/><circle cx="554.9" cy="199.3" r="1.4"/><circle cx="555.0" cy="202.0" r="1.4"/><circle cx="554.2" cy="213.2" r="1.4"/><circle cx="552.7" cy="200.4" r="1.4"/><circle cx="553.0" cy="216.1" r="1.4"/><circle cx="551.4" cy="200.1" r="1.4"/><circle cx="552.9" cy="196.9" r="1.4"/><circle cx="554.3" cy="181.1" r="1.4"/><circle cx="552.5" cy="205.0" r="1.4"/><circle cx="550.4" cy="208.6" r="1.4"/><circle cx="553.7" cy="188.9" r="1.4"/><circle cx="551.4" cy="203.8" r="1.4"/><circle cx="550.5" cy="185.2" r="1.4"/><circle cx="550.7" cy="202.5" r="1.4"/><circle cx="552.9" cy="191.0" r="1.4"/><circle cx="552.0" cy="213.7" r="1.4"/><circle cx="547.3" cy="203.3" r="1.4"/><circle cx="549.6" cy="189.2" r="1.4"/><circle cx="548.4" cy="180.8" r="1.4"/><circle cx="550.9" cy="199.5" r="1.4"/><circle cx="550.9" cy="187.8" r="1.4"/><circle cx="550.0" cy="218.3" r="1.4"/><circle cx="548.9" cy="198.4" r="1.4"/><circle cx="550.7" cy="208.9" r="1.4"/><circle cx="547.2" cy="217.5" r="1.4"/><circle cx="550.2" cy="208.9" r="1.4"/><circle cx="552.2" cy="199.6" r="1.4"/><circle cx="548.6" cy="195.7" r="1.4"/><circle cx="547.4" cy="201.6" r="1.4"/><circle cx="551.3" cy="192.1" r="1.4"/><circle cx="550.4" cy="207.1" r="1.4"/><circle cx="554.6" cy="184.1" r="1.4"/><circle cx="554.5" cy="202.4" r="1.4"/><circle cx="548.0" cy="202.2" r="1.4"/><circle cx="552.0" cy="217.0" r="1.4"/><circle cx="548.5" cy="192.7" r="1.4"/><circle cx="555.0" cy="181.8" r="1.4"/><circle cx="550.9" cy="216.6" r="1.4"/><circle cx="554.9" cy="185.1" r="1.4"/><circle cx="554.6" cy="187.5" r="1.4"/><circle cx="553.5" cy="192.2" r="1.4"/><circle cx="552.7" cy="183.6" r="1.4"/><circle cx="551.6" cy="201.4" r="1.4"/><circle cx="553.7" cy="211.9" r="1.4"/><circle cx="551.7" cy="194.0" r="1.4"/><circle cx="549.9" cy="216.7" r="1.4"/><circle cx="551.1" cy="190.7" r="1.4"/><circle cx="552.7" cy="215.0" r="1.4"/><circle cx="548.4" cy="211.3" r="1.4"/><circle cx="548.1" cy="196.2" r="1.4"/><circle cx="551.4" cy="182.5" r="1.4"/><circle cx="550.7" cy="180.6" r="1.4"/><circle cx="548.6" cy="194.8" r="1.4"/><circle cx="551.8" cy="218.3" r="1.4"/><circle cx="552.0" cy="206.7" r="1.4"/><circle cx="548.3" cy="202.3" r="1.4"/><circle cx="548.7" cy="192.1" r="1.4"/><circle cx="550.0" cy="186.0" r="1.4"/><circle cx="549.6" cy="182.0" r="1.4"/><circle cx="548.9" cy="210.2" r="1.4"/><circle cx="554.4" cy="195.1" r="1.4"/><circle cx="551.6" cy="202.7" r="1.4"/><circle cx="549.2" cy="199.5" r="1.4"/><circle cx="551.1" cy="188.5" r="1.4"/><circle cx="548.1" cy="200.8" r="1.4"/><circle cx="549.8" cy="216.9" r="1.4"/><circle cx="549.2" cy="200.2" r="1.4"/><circle cx="548.1" cy="183.9" r="1.4"/><circle cx="552.2" cy="195.4" r="1.4"/><circle cx="548.4" cy="215.5" r="1.4"/><circle cx="549.5" cy="189.7" r="1.4"/><circle cx="554.2" cy="193.4" r="1.4"/><circle cx="547.8" cy="211.8" r="1.4"/><circle cx="551.0" cy="202.8" r="1.4"/><circle cx="551.2" cy="207.5" r="1.4"/><circle cx="553.4" cy="188.3" r="1.4"/><circle cx="554.3" cy="215.2" r="1.4"/><circle cx="550.5" cy="200.2" r="1.4"/><circle cx="548.7" cy="210.4" r="1.4"/><circle cx="550.6" cy="206.5" r="1.4"/><circle cx="554.3" cy="186.3" r="1.4"/><circle cx="552.4" cy="182.4" r="1.4"/><circle cx="551.9" cy="214.4" r="1.4"/><circle cx="549.9" cy="214.4" r="1.4"/><circle cx="548.4" cy="185.2" r="1.4"/><circle cx="552.5" cy="190.4" r="1.4"/><circle cx="554.1" cy="198.6" r="1.4"/><circle cx="554.9" cy="178.3" r="1.4"/><circle cx="551.2" cy="191.0" r="1.4"/><circle cx="550.9" cy="216.4" r="1.4"/><circle cx="550.4" cy="211.2" r="1.4"/><circle cx="548.8" cy="213.9" r="1.4"/><circle cx="550.8" cy="200.8" r="1.4"/><circle cx="551.5" cy="216.8" r="1.4"/><circle cx="552.1" cy="198.5" r="1.4"/><circle cx="552.9" cy="183.8" r="1.4"/><circle cx="552.5" cy="210.5" r="1.4"/><circle cx="553.1" cy="184.9" r="1.4"/><circle cx="550.7" cy="209.3" r="1.4"/><circle cx="551.2" cy="179.9" r="1.4"/><circle cx="549.1" cy="186.6" r="1.4"/><circle cx="553.8" cy="199.6" r="1.4"/><circle cx="554.9" cy="218.5" r="1.4"/><circle cx="549.2" cy="208.3" r="1.4"/><circle cx="552.0" cy="190.2" r="1.4"/><circle cx="549.1" cy="203.3" r="1.4"/><circle cx="553.2" cy="198.6" r="1.4"/><circle cx="553.4" cy="189.9" r="1.4"/><circle cx="553.6" cy="214.1" r="1.4"/><circle cx="548.3" cy="195.7" r="1.4"/><circle cx="547.3" cy="210.9" r="1.4"/><circle cx="547.8" cy="206.3" r="1.4"/><circle cx="551.2" cy="217.9" r="1.4"/><circle cx="550.0" cy="205.1" r="1.4"/><circle cx="549.5" cy="192.6" r="1.4"/><circle cx="548.5" cy="216.1" r="1.4"/><circle cx="547.4" cy="201.0" r="1.4"/><circle cx="548.1" cy="210.3" r="1.4"/><circle cx="548.5" cy="218.8" r="1.4"/><circle cx="553.6" cy="208.6" r="1.4"/><circle cx="547.9" cy="193.5" r="1.4"/><circle cx="553.6" cy="195.9" r="1.4"/><circle cx="549.0" cy="212.9" r="1.4"/><circle cx="547.4" cy="190.4" r="1.4"/><circle cx="554.1" cy="188.4" r="1.4"/><circle cx="552.7" cy="188.7" r="1.4"/><circle cx="548.8" cy="189.4" r="1.4"/><circle cx="550.8" cy="200.2" r="1.4"/><circle cx="554.8" cy="215.5" r="1.4"/><circle cx="551.4" cy="180.8" r="1.4"/><circle cx="554.2" cy="212.3" r="1.4"/><circle cx="553.0" cy="213.9" r="1.4"/><circle cx="548.1" cy="213.3" r="1.4"/><circle cx="550.8" cy="212.1" r="1.4"/><circle cx="554.4" cy="203.9" r="1.4"/><circle cx="552.3" cy="216.6" r="1.4"/><circle cx="551.5" cy="217.6" r="1.4"/><circle cx="549.1" cy="212.0" r="1.4"/><circle cx="554.9" cy="211.3" r="1.4"/><circle cx="549.2" cy="211.9" r="1.4"/><circle cx="551.7" cy="198.0" r="1.4"/><circle cx="552.4" cy="181.3" r="1.4"/><circle cx="554.3" cy="209.7" r="1.4"/><circle cx="554.8" cy="216.3" r="1.4"/><circle cx="550.9" cy="195.9" r="1.4"/><circle cx="548.3" cy="198.7" r="1.4"/><circle cx="552.5" cy="206.1" r="1.4"/><circle cx="549.9" cy="216.6" r="1.4"/><circle cx="551.3" cy="191.8" r="1.4"/><circle cx="548.5" cy="218.6" r="1.4"/><circle cx="552.3" cy="188.7" r="1.4"/><circle cx="554.4" cy="189.4" r="1.4"/><circle cx="554.0" cy="189.4" r="1.4"/><circle cx="549.0" cy="216.9" r="1.4"/><circle cx="553.1" cy="187.3" r="1.4"/><circle cx="548.4" cy="198.7" r="1.4"/><circle cx="554.4" cy="208.3" r="1.4"/><circle cx="549.2" cy="190.8" r="1.4"/><circle cx="550.6" cy="209.5" r="1.4"/><circle cx="550.4" cy="195.6" r="1.4"/><circle cx="548.0" cy="213.9" r="1.4"/><circle cx="550.0" cy="211.4" r="1.4"/><circle cx="553.9" cy="198.8" r="1.4"/><circle cx="553.3" cy="212.3" r="1.4"/><circle cx="547.5" cy="217.2" r="1.4"/><circle cx="550.4" cy="199.6" r="1.4"/><circle cx="549.6" cy="210.6" r="1.4"/><circle cx="548.0" cy="188.8" r="1.4"/><circle cx="554.8" cy="216.9" r="1.4"/><circle cx="553.5" cy="199.0" r="1.4"/><circle cx="550.9" cy="175.0" r="1.4"/><circle cx="551.6" cy="196.0" r="1.4"/><circle cx="553.1" cy="207.6" r="1.4"/><circle cx="553.1" cy="207.8" r="1.4"/><circle cx="554.3" cy="192.5" r="1.4"/><circle cx="553.2" cy="185.8" r="1.4"/><circle cx="554.4" cy="190.4" r="1.4"/><circle cx="550.1" cy="191.6" r="1.4"/><circle cx="549.1" cy="198.8" r="1.4"/><circle cx="552.8" cy="178.3" r="1.4"/><circle cx="554.2" cy="190.3" r="1.4"/><circle cx="550.1" cy="204.1" r="1.4"/><circle cx="547.9" cy="195.3" r="1.4"/><circle cx="550.7" cy="211.0" r="1.4"/><circle cx="552.1" cy="186.5" r="1.4"/><circle cx="551.5" cy="215.2" r="1.4"/><circle cx="549.8" cy="179.9" r="1.4"/><circle cx="554.4" cy="206.4" r="1.4"/><circle cx="552.8" cy="213.6" r="1.4"/><circle cx="554.7" cy="177.4" r="1.4"/><circle cx="552.3" cy="210.7" r="1.4"/><circle cx="554.2" cy="178.5" r="1.4"/><circle cx="548.9" cy="195.6" r="1.4"/><circle cx="553.6" cy="196.0" r="1.4"/><circle cx="551.9" cy="203.0" r="1.4"/><circle cx="551.6" cy="196.8" r="1.4"/><circle cx="554.4" cy="204.8" r="1.4"/><circle cx="553.0" cy="190.1" r="1.4"/><circle cx="552.0" cy="196.1" r="1.4"/><circle cx="548.3" cy="187.4" r="1.4"/><circle cx="548.3" cy="182.5" r="1.4"/><circle cx="548.8" cy="204.0" r="1.4"/><circle cx="550.1" cy="189.4" r="1.4"/><circle cx="550.2" cy="198.9" r="1.4"/><circle cx="547.4" cy="209.0" r="1.4"/><circle cx="552.0" cy="183.3" r="1.4"/><circle cx="547.9" cy="187.4" r="1.4"/><circle cx="548.3" cy="188.7" r="1.4"/><circle cx="554.9" cy="188.4" r="1.4"/><circle cx="549.3" cy="189.5" r="1.4"/><circle cx="549.1" cy="189.0" r="1.4"/><circle cx="552.6" cy="213.7" r="1.4"/><circle cx="553.2" cy="215.5" r="1.4"/><circle cx="552.4" cy="215.5" r="1.4"/><circle cx="551.7" cy="193.0" r="1.4"/><circle cx="554.0" cy="185.8" r="1.4"/><circle cx="551.3" cy="187.3" r="1.4"/><circle cx="549.8" cy="212.7" r="1.4"/><circle cx="551.0" cy="211.2" r="1.4"/><circle cx="549.5" cy="183.5" r="1.4"/><circle cx="549.1" cy="177.3" r="1.4"/><circle cx="554.2" cy="185.7" r="1.4"/><circle cx="554.6" cy="205.3" r="1.4"/><circle cx="550.1" cy="216.0" r="1.4"/><circle cx="548.4" cy="202.6" r="1.4"/><circle cx="554.2" cy="196.9" r="1.4"/><circle cx="548.9" cy="211.8" r="1.4"/><circle cx="547.6" cy="192.9" r="1.4"/><circle cx="547.3" cy="211.9" r="1.4"/><circle cx="549.8" cy="207.1" r="1.4"/><circle cx="550.1" cy="185.3" r="1.4"/><circle cx="549.5" cy="194.4" r="1.4"/><circle cx="555.0" cy="191.9" r="1.4"/><circle cx="550.7" cy="175.8" r="1.4"/><circle cx="551.2" cy="204.1" r="1.4"/><circle cx="550.9" cy="184.4" r="1.4"/><circle cx="549.5" cy="194.0" r="1.4"/><circle cx="549.6" cy="202.8" r="1.4"/><circle cx="547.5" cy="218.6" r="1.4"/><circle cx="553.2" cy="202.6" r="1.4"/><circle cx="554.5" cy="210.0" r="1.4"/><circle cx="550.5" cy="190.5" r="1.4"/><circle cx="549.9" cy="217.8" r="1.4"/><circle cx="553.4" cy="192.5" r="1.4"/><circle cx="550.6" cy="200.2" r="1.4"/><circle cx="551.6" cy="196.3" r="1.4"/><circle cx="553.2" cy="190.4" r="1.4"/><circle cx="551.9" cy="215.5" r="1.4"/><circle cx="549.6" cy="210.5" r="1.4"/><circle cx="553.6" cy="205.5" r="1.4"/><circle cx="553.8" cy="211.6" r="1.4"/><circle cx="554.5" cy="201.9" r="1.4"/><circle cx="550.3" cy="218.2" r="1.4"/><circle cx="552.2" cy="192.5" r="1.4"/><circle cx="551.7" cy="178.9" r="1.4"/><circle cx="550.4" cy="192.9" r="1.4"/><circle cx="554.4" cy="198.2" r="1.4"/><circle cx="552.3" cy="185.2" r="1.4"/><circle cx="548.3" cy="211.3" r="1.4"/><circle cx="548.7" cy="197.5" r="1.4"/><circle cx="547.6" cy="194.5" r="1.4"/><circle cx="552.6" cy="206.2" r="1.4"/><circle cx="554.5" cy="199.3" r="1.4"/><circle cx="550.5" cy="173.5" r="1.4"/><circle cx="553.8" cy="181.1" r="1.4"/><circle cx="552.2" cy="196.7" r="1.4"/><circle cx="549.8" cy="214.5" r="1.4"/><circle cx="553.4" cy="205.6" r="1.4"/><circle cx="552.0" cy="214.1" r="1.4"/><circle cx="547.3" cy="182.3" r="1.4"/><circle cx="549.1" cy="196.9" r="1.4"/><circle cx="552.0" cy="215.6" r="1.4"/><circle cx="554.6" cy="190.5" r="1.4"/><circle cx="548.8" cy="216.2" r="1.4"/><circle cx="551.5" cy="179.6" r="1.4"/><circle cx="548.2" cy="178.3" r="1.4"/><circle cx="552.6" cy="170.3" r="1.4"/><circle cx="547.4" cy="171.9" r="1.4"/><circle cx="554.1" cy="173.8" r="1.4"/><circle cx="551.0" cy="167.2" r="1.4"/><circle cx="549.8" cy="183.8" r="1.4"/><circle cx="548.5" cy="181.4" r="1.4"/><circle cx="549.0" cy="172.6" r="1.4"/><circle cx="548.7" cy="166.6" r="1.4"/><circle cx="551.2" cy="166.6" r="1.4"/><circle cx="549.8" cy="178.9" r="1.4"/><circle cx="551.3" cy="177.6" r="1.4"/><circle cx="554.7" cy="167.9" r="1.4"/><circle cx="547.4" cy="178.8" r="1.4"/><circle cx="552.2" cy="179.9" r="1.4"/><circle cx="554.5" cy="176.4" r="1.4"/><circle cx="555.0" cy="167.5" r="1.4"/><circle cx="551.7" cy="170.0" r="1.4"/><circle cx="553.7" cy="179.3" r="1.4"/><circle cx="551.9" cy="170.3" r="1.4"/><circle cx="550.6" cy="167.5" r="1.4"/><circle cx="553.0" cy="172.9" r="1.4"/><circle cx="554.5" cy="175.7" r="1.4"/><circle cx="550.4" cy="178.2" r="1.4"/><circle cx="554.7" cy="179.7" r="1.4"/><circle cx="547.4" cy="181.0" r="1.4"/><circle cx="553.9" cy="175.9" r="1.4"/><circle cx="550.8" cy="179.6" r="1.4"/><circle cx="549.9" cy="175.3" r="1.4"/><circle cx="548.4" cy="26.5" r="1.4"/><circle cx="550.5" cy="117.0" r="1.4"/><circle cx="552.6" cy="130.0" r="1.4"/><circle cx="555.4" cy="138.9" r="1.4"/><circle cx="547.8" cy="151.0" r="1.4"/><circle cx="551.8" cy="154.3" r="1.4"/><circle cx="549.4" cy="162.6" r="1.4"/><circle cx="553.4" cy="159.4" r="1.4"/><circle cx="547.0" cy="163.4" r="1.4"/><circle cx="551.8" cy="167.4" r="1.4"/><circle cx="555.0" cy="170.7" r="1.4"/><circle cx="548.0" cy="152.0" r="1.4"/><circle cx="552.0" cy="154.2" r="1.4"/><circle cx="551.0" cy="162.0" r="1.4"/></g>
<line x1="392.70" y1="219.10" x2="683.30" y2="219.10" stroke="#b0b0b0" stroke-width="0.9" stroke-dasharray="2.2,2" stroke-opacity="0.9"/>
<line x1="535.50" y1="16.00" x2="535.50" y2="249.00" stroke="#a4a4a4" stroke-width="0.9" stroke-dasharray="2.2,2"/>
<line x1="556.30" y1="16.00" x2="556.30" y2="249.00" stroke="#a4a4a4" stroke-width="0.9" stroke-dasharray="2.2,2"/>
<rect x="392.5" y="16.0" width="291.00" height="233.50" fill="none" stroke="#3a3a3a" stroke-width="1.0"/>
<line x1="397.20" y1="249.50" x2="397.20" y2="251.70" stroke="#3a3a3a" stroke-width="1" />
<text transform="translate(396.60,259.80) scale(1,1.045)" font-size="10.1" fill="#1a1a1a" text-anchor="middle" >-10</text>
<line x1="471.60" y1="249.50" x2="471.60" y2="251.70" stroke="#3a3a3a" stroke-width="1" />
<text transform="translate(471.00,259.80) scale(1,1.045)" font-size="10.1" fill="#1a1a1a" text-anchor="middle" >-5</text>
<line x1="546.00" y1="249.50" x2="546.00" y2="251.70" stroke="#3a3a3a" stroke-width="1" />
<text transform="translate(545.40,259.80) scale(1,1.045)" font-size="10.1" fill="#1a1a1a" text-anchor="middle" >0</text>
<line x1="620.40" y1="249.50" x2="620.40" y2="251.70" stroke="#3a3a3a" stroke-width="1" />
<text transform="translate(619.80,259.80) scale(1,1.045)" font-size="10.1" fill="#1a1a1a" text-anchor="middle" >5</text>
<line x1="390.30" y1="241.00" x2="392.50" y2="241.00" stroke="#3a3a3a" stroke-width="1" />
<text transform="translate(390.60,242.80) scale(1,1.045)" font-size="10.1" fill="#1a1a1a" text-anchor="end" >0.0</text>
<line x1="390.30" y1="197.60" x2="392.50" y2="197.60" stroke="#3a3a3a" stroke-width="1" />
<text transform="translate(390.60,199.40) scale(1,1.045)" font-size="10.1" fill="#1a1a1a" text-anchor="end" >2.5</text>
<line x1="390.30" y1="154.20" x2="392.50" y2="154.20" stroke="#3a3a3a" stroke-width="1" />
<text transform="translate(390.60,156.00) scale(1,1.045)" font-size="10.1" fill="#1a1a1a" text-anchor="end" >5.0</text>
<line x1="390.30" y1="110.80" x2="392.50" y2="110.80" stroke="#3a3a3a" stroke-width="1" />
<text transform="translate(390.60,112.60) scale(1,1.045)" font-size="10.1" fill="#1a1a1a" text-anchor="end" >7.5</text>
<line x1="390.30" y1="67.40" x2="392.50" y2="67.40" stroke="#3a3a3a" stroke-width="1" />
<text transform="translate(390.60,69.20) scale(1,1.045)" font-size="10.1" fill="#1a1a1a" text-anchor="end" >10.0</text>
<line x1="390.30" y1="24.00" x2="392.50" y2="24.00" stroke="#3a3a3a" stroke-width="1" />
<text transform="translate(390.60,25.80) scale(1,1.045)" font-size="10.1" fill="#1a1a1a" text-anchor="end" >12.5</text>
<text transform="translate(545.50,272.00) scale(1,1.045)" font-size="10" fill="#1a1a1a" text-anchor="middle" >Log<tspan font-size="6.5" dy="2">2</tspan><tspan dy="-2"> FoldChange</tspan></text>
<text transform="translate(366.8,130.5) rotate(-90)" font-size="10" fill="#1a1a1a" text-anchor="middle">-Log<tspan font-size="6.5" dy="2">10</tspan><tspan dy="-2">P value</tspan></text>
<text transform="translate(416.40,26.50) scale(1,1.045)" font-size="8.4" fill="#1a1a1a" text-anchor="start" >Down</text>
<text transform="translate(416.40,36.10) scale(1,1.045)" font-size="8.4" fill="#1a1a1a" text-anchor="start" >p &lt; 0.05: 1405</text>
<text transform="translate(416.40,47.20) scale(1,1.045)" font-size="8.4" fill="#1a1a1a" text-anchor="start" >log2FC &lt; -0.7: 734</text>
<text transform="translate(416.40,58.30) scale(1,1.045)" font-size="8.4" fill="#1a1a1a" text-anchor="start" >Sig. : 358</text>
<text transform="translate(592.50,26.50) scale(1,1.045)" font-size="8.4" fill="#1a1a1a" text-anchor="start" >Up</text>
<text transform="translate(592.50,36.10) scale(1,1.045)" font-size="8.4" fill="#1a1a1a" text-anchor="start" >p &lt; 0.05: 1399</text>
<text transform="translate(592.50,47.20) scale(1,1.045)" font-size="8.4" fill="#1a1a1a" text-anchor="start" >log2FC &gt; 0.7: 567</text>
<text transform="translate(592.50,58.30) scale(1,1.045)" font-size="8.4" fill="#1a1a1a" text-anchor="start" >Sig. : 215</text>
<rect x="620.2" y="94.1" width="60.7" height="44.6" fill="#fff" stroke="#3a3a3a" stroke-width="0.8"/>
<circle cx="623.9" cy="100.40" r="1.3" fill="#f3463f"/>
<text transform="translate(628.90,102.90) scale(1,1.045)" font-size="6.6" fill="#1a1a1a" text-anchor="start" >Significant Up</text>
<circle cx="623.9" cy="108.60" r="1.3" fill="#4f85b8"/>
<text transform="translate(628.90,111.10) scale(1,1.045)" font-size="6.6" fill="#1a1a1a" text-anchor="start" >Significant Down</text>
<circle cx="623.9" cy="116.80" r="1.3" fill="#f1b6c9"/>
<text transform="translate(628.90,119.30) scale(1,1.045)" font-size="6.6" fill="#1a1a1a" text-anchor="start" >Up</text>
<circle cx="623.9" cy="125.00" r="1.3" fill="#89cdf1"/>
<text transform="translate(628.90,127.50) scale(1,1.045)" font-size="6.6" fill="#1a1a1a" text-anchor="start" >Down</text>
<circle cx="623.9" cy="133.20" r="1.3" fill="#d3dbe4"/>
<text transform="translate(628.90,135.70) scale(1,1.045)" font-size="6.6" fill="#1a1a1a" text-anchor="start" >Non-significant</text>
<text transform="translate(471.00,158.10) scale(1,1.045)" font-size="9.6" fill="#4f6e9c" text-anchor="start" >Ciita</text>
<line x1="496.20" y1="156.40" x2="531.80" y2="156.40" stroke="#7f97b8" stroke-width="0.8" />
<text transform="translate(3.00,297.80) scale(1,1.045)" font-size="12.5" fill="#1a1a1a" text-anchor="start" >C</text>
<rect x="38" y="291" width="12.2" height="16.4" fill="#f06a6a"/>
<rect x="38" y="312" width="12.2" height="16.2" fill="#6c9ff6"/>
<text transform="translate(54.60,304.50) scale(1,1.045)" font-size="10" fill="#1a1a1a" text-anchor="start" >IP</text>
<text transform="translate(54.60,325.30) scale(1,1.045)" font-size="10" fill="#1a1a1a" text-anchor="start" >Input</text>
<text transform="translate(35.60,358.90) scale(1,1.045)" font-size="10" fill="#1a1a1a" text-anchor="start" >Chr16: 10,297,877-10,348,928</text>
<path d="M39.8,365.2 H35.8 V413.0 H39.8" fill="none" stroke="#555" stroke-width="1.1"/>
<text transform="translate(33.90,371.50) scale(1,1.045)" font-size="10.4" fill="#1a1a1a" text-anchor="end" >1113.9</text>
<text transform="translate(32.20,419.60) scale(1,1.045)" font-size="9.6" fill="#1a1a1a" text-anchor="end" >0</text>
<path d="M40.3,437.6 H36.3 V485.2 H40.3" fill="none" stroke="#555" stroke-width="1.1"/>
<text transform="translate(33.90,443.70) scale(1,1.045)" font-size="10.4" fill="#1a1a1a" text-anchor="end" >1113.9</text>
<text transform="translate(32.20,491.80) scale(1,1.045)" font-size="9.6" fill="#1a1a1a" text-anchor="end" >0</text>
<text transform="translate(261.80,371.60) scale(1,1.045)" font-size="9.8" fill="#1a1a1a" text-anchor="start" >5 kb</text>
<line x1="258.20" y1="377.00" x2="281.60" y2="377.00" stroke="#000" stroke-width="2" />
<text transform="translate(298.60,393.20) scale(1,1.045)" font-size="9.8" fill="#1a1a1a" text-anchor="start" >oe-ALKBH5</text>
<text transform="translate(298.60,464.70) scale(1,1.045)" font-size="9.8" fill="#1a1a1a" text-anchor="start" >oe-vector</text>
<text transform="translate(298.60,525.30) scale(1,1.045)" font-size="9.8" fill="#1a1a1a" text-anchor="start" >Ciita</text>
<path d=" M48.0,413.1 L48.8,411.0 L49.5,413.1 Z M187.6,413.1 L188.5,411.4 L189.5,412.2 L190.6,411.2 L191.8,412.3 L193.0,411.5 L194.5,412.2 L195.8,413.1 Z M256.6,413.1 L257.6,408.6 L258.8,413.1 Z M258.8,413.1 L260.0,411.4 L262.0,412.2 L264.0,411.9 L266.0,412.4 L268.0,412.0 L270.0,413.1 Z M276.9,413.1 L278.8,373.0 L280.6,413.1 Z" fill="#f47a70" stroke="none"/>
<path d=" M48.0,412.8 L48.8,410.7 L49.5,412.8 M187.6,412.8 L188.5,411.1 L189.5,411.9 L190.6,410.9 L191.8,412.0 L193.0,411.2 L194.5,411.9 L195.8,412.8 M256.6,412.8 L257.6,408.3 L258.8,412.8 M258.8,412.8 L260.0,411.1 L262.0,411.9 L264.0,411.6 L266.0,412.1 L268.0,411.7 L270.0,412.8 M276.9,412.8 L278.8,372.7 L280.6,412.8" fill="none" stroke="#f23a2e" stroke-width="1.15" stroke-linejoin="round"/>
<path d=" M48.0,413.1 L48.8,411.8 L49.5,413.1 Z M147.2,413.1 L147.7,411.4 L148.2,413.1 Z M156.5,413.1 L157.0,411.5 L157.5,413.1 Z M167.0,413.1 L167.5,411.3 L168.0,413.1 Z M169.3,413.1 L169.8,411.6 L170.3,413.1 Z M178.0,413.1 L178.5,411.6 L179.0,413.1 Z M181.5,413.1 L182.0,411.5 L182.5,413.1 Z M187.6,413.1 L188.5,412.4 L190.5,412.0 L192.5,412.5 L195.8,413.1 Z M199.1,413.1 L199.6,411.0 L200.1,413.1 Z M204.8,413.1 L205.3,411.2 L205.8,413.1 Z M219.6,413.1 L220.1,411.5 L220.6,413.1 Z M234.8,413.1 L235.3,411.5 L235.8,413.1 Z M247.5,413.1 L248.0,411.4 L248.5,413.1 Z M254.0,413.1 L254.5,411.5 L255.0,413.1 Z M256.6,413.1 L257.6,410.4 L258.8,413.1 Z M258.8,413.1 L259.5,411.9 L261.5,412.5 L264.0,412.1 L270.0,413.1 Z M276.9,413.1 L278.8,394.0 L280.6,413.1 Z" fill="#93a5f5" stroke="none"/>
<path d="M47.6,413.1 L48.0,413.1 L48.8,411.8 L49.5,413.1 L147.2,413.1 L147.7,411.4 L148.2,413.1 L156.5,413.1 L157.0,411.5 L157.5,413.1 L167.0,413.1 L167.5,411.3 L168.0,413.1 L169.3,413.1 L169.8,411.6 L170.3,413.1 L178.0,413.1 L178.5,411.6 L179.0,413.1 L181.5,413.1 L182.0,411.5 L182.5,413.1 L187.6,413.1 L188.5,412.4 L190.5,412.0 L192.5,412.5 L195.8,413.1 L199.1,413.1 L199.6,411.0 L200.1,413.1 L204.8,413.1 L205.3,411.2 L205.8,413.1 L219.6,413.1 L220.1,411.5 L220.6,413.1 L234.8,413.1 L235.3,411.5 L235.8,413.1 L247.5,413.1 L248.0,411.4 L248.5,413.1 L254.0,413.1 L254.5,411.5 L255.0,413.1 L256.6,413.1 L257.6,410.4 L258.8,413.1 L258.8,413.1 L259.5,411.9 L261.5,412.5 L264.0,412.1 L270.0,413.1 L276.9,413.1 L278.8,394.0 L280.6,413.1 L281.0,413.1" fill="none" stroke="#3550f0" stroke-width="1.15" stroke-linejoin="round"/>
<path d=" M47.3,485.4 L48.5,473.0 L50.2,485.4 Z M92.2,485.4 L92.7,484.0 L93.2,485.4 Z M146.7,485.4 L147.4,475.0 L148.3,485.4 Z M148.5,485.4 L149.4,476.0 L150.2,485.4 Z M156.0,485.4 L157.1,470.5 L158.2,485.4 Z M166.9,485.4 L167.5,469.5 L168.2,485.4 Z M177.5,485.4 L178.3,475.0 L179.2,485.4 Z M181.1,485.4 L182.0,475.4 L182.9,485.4 Z M187.6,485.4 L188.3,471.5 L189.2,473.5 L190.3,470.5 L191.2,474.0 L192.6,469.8 L193.6,474.0 L194.8,471.5 L196.2,485.4 Z M256.0,485.4 L257.5,451.0 L259.6,485.4 Z M259.6,485.4 L260.4,473.6 L261.6,478.0 L263.0,476.5 L265.0,479.5 L267.7,475.8 L269.0,480.0 L270.5,485.4 Z M276.8,485.4 L279.0,440.5 L281.0,485.4 Z" fill="#f47a70" stroke="none"/>
<path d=" M47.3,485.1 L48.5,472.7 L50.2,485.1 M92.2,485.1 L92.7,483.7 L93.2,485.1 M146.7,485.1 L147.4,474.7 L148.3,485.1 M148.5,485.1 L149.4,475.7 L150.2,485.1 M156.0,485.1 L157.1,470.2 L158.2,485.1 M166.9,485.1 L167.5,469.2 L168.2,485.1 M177.5,485.1 L178.3,474.7 L179.2,485.1 M181.1,485.1 L182.0,475.1 L182.9,485.1 M187.6,485.1 L188.3,471.2 L189.2,473.2 L190.3,470.2 L191.2,473.7 L192.6,469.5 L193.6,473.7 L194.8,471.2 L196.2,485.1 M256.0,485.1 L257.5,450.7 L259.6,485.1 M259.6,485.1 L260.4,473.3 L261.6,477.7 L263.0,476.2 L265.0,479.2 L267.7,475.5 L269.0,479.7 L270.5,485.1 M276.8,485.1 L279.0,440.2 L281.0,485.1" fill="none" stroke="#f23a2e" stroke-width="1.15" stroke-linejoin="round"/>
<path d=" M47.3,485.4 L48.5,478.6 L50.2,485.4 Z M146.7,485.4 L147.4,477.0 L148.3,485.4 Z M148.5,485.4 L149.4,477.5 L150.2,485.4 Z M154.8,485.4 L155.5,480.0 L156.2,485.4 Z M156.0,485.4 L157.1,474.4 L158.2,485.4 Z M166.9,485.4 L167.5,473.9 L168.2,485.4 Z M168.9,485.4 L169.8,475.0 L170.8,485.4 Z M177.5,485.4 L178.3,477.5 L179.2,485.4 Z M181.1,485.4 L182.0,478.0 L182.9,485.4 Z M187.6,485.4 L188.5,477.5 L189.5,476.5 L191.0,480.5 L193.5,481.0 L194.8,476.8 L196.2,485.4 Z M198.8,485.4 L199.6,471.9 L200.4,485.4 Z M204.8,485.4 L205.3,476.0 L206.0,485.4 Z M219.6,485.4 L220.1,476.0 L220.6,485.4 Z M222.2,485.4 L222.9,478.2 L223.7,485.4 Z M234.7,485.4 L235.2,476.9 L235.8,485.4 Z M247.0,485.4 L247.5,478.6 L248.0,485.4 Z M247.8,485.4 L248.4,476.0 L249.0,485.4 Z M253.8,485.4 L254.4,477.8 L255.0,485.4 Z M256.0,485.4 L257.5,472.4 L259.6,485.4 Z M259.6,485.4 L260.6,477.0 L261.8,479.5 L262.8,477.3 L264.2,480.0 L265.4,477.5 L266.5,481.0 L268.0,478.0 L269.5,482.5 L270.5,485.4 Z M276.8,485.4 L279.0,462.0 L281.0,485.4 Z" fill="#93a5f5" stroke="none"/>
<path d="M47.6,485.4 L47.3,485.4 L48.5,478.6 L50.2,485.4 L146.7,485.4 L147.4,477.0 L148.3,485.4 L148.5,485.4 L149.4,477.5 L150.2,485.4 L154.8,485.4 L155.5,480.0 L156.2,485.4 L156.0,485.4 L157.1,474.4 L158.2,485.4 L166.9,485.4 L167.5,473.9 L168.2,485.4 L168.9,485.4 L169.8,475.0 L170.8,485.4 L177.5,485.4 L178.3,477.5 L179.2,485.4 L181.1,485.4 L182.0,478.0 L182.9,485.4 L187.6,485.4 L188.5,477.5 L189.5,476.5 L191.0,480.5 L193.5,481.0 L194.8,476.8 L196.2,485.4 L198.8,485.4 L199.6,471.9 L200.4,485.4 L204.8,485.4 L205.3,476.0 L206.0,485.4 L219.6,485.4 L220.1,476.0 L220.6,485.4 L222.2,485.4 L222.9,478.2 L223.7,485.4 L234.7,485.4 L235.2,476.9 L235.8,485.4 L247.0,485.4 L247.5,478.6 L248.0,485.4 L247.8,485.4 L248.4,476.0 L249.0,485.4 L253.8,485.4 L254.4,477.8 L255.0,485.4 L256.0,485.4 L257.5,472.4 L259.6,485.4 L259.6,485.4 L260.6,477.0 L261.8,479.5 L262.8,477.3 L264.2,480.0 L265.4,477.5 L266.5,481.0 L268.0,478.0 L269.5,482.5 L270.5,485.4 L276.8,485.4 L279.0,462.0 L281.0,485.4 L281.0,485.4" fill="none" stroke="#3550f0" stroke-width="1.15" stroke-linejoin="round"/>
<line x1="48.60" y1="520.10" x2="281.00" y2="520.10" stroke="#2323f2" stroke-width="1.8" />
<line x1="85.60" y1="515.30" x2="85.60" y2="524.70" stroke="#2323f2" stroke-width="1.0" stroke-opacity="0.72"/>
<line x1="92.40" y1="515.30" x2="92.40" y2="524.70" stroke="#2323f2" stroke-width="1.0" stroke-opacity="0.72"/>
<line x1="147.40" y1="515.30" x2="147.40" y2="524.70" stroke="#2323f2" stroke-width="1.0" stroke-opacity="0.72"/>
<line x1="149.30" y1="515.30" x2="149.30" y2="524.70" stroke="#2323f2" stroke-width="1.0" stroke-opacity="0.72"/>
<line x1="156.20" y1="515.30" x2="156.20" y2="524.70" stroke="#2323f2" stroke-width="1.0" stroke-opacity="0.72"/>
<line x1="167.60" y1="515.30" x2="167.60" y2="524.70" stroke="#2323f2" stroke-width="1.0" stroke-opacity="0.72"/>
<line x1="170.20" y1="515.30" x2="170.20" y2="524.70" stroke="#2323f2" stroke-width="1.0" stroke-opacity="0.72"/>
<line x1="178.50" y1="515.30" x2="178.50" y2="524.70" stroke="#2323f2" stroke-width="1.0" stroke-opacity="0.72"/>
<line x1="182.00" y1="515.30" x2="182.00" y2="524.70" stroke="#2323f2" stroke-width="1.0" stroke-opacity="0.72"/>
<line x1="199.40" y1="515.30" x2="199.40" y2="524.70" stroke="#2323f2" stroke-width="1.0" stroke-opacity="0.72"/>
<line x1="205.50" y1="515.30" x2="205.50" y2="524.70" stroke="#2323f2" stroke-width="1.0" stroke-opacity="0.72"/>
<line x1="220.40" y1="515.30" x2="220.40" y2="524.70" stroke="#2323f2" stroke-width="1.0" stroke-opacity="0.72"/>
<line x1="223.30" y1="515.30" x2="223.30" y2="524.70" stroke="#2323f2" stroke-width="1.0" stroke-opacity="0.72"/>
<line x1="248.00" y1="515.30" x2="248.00" y2="524.70" stroke="#2323f2" stroke-width="1.0" stroke-opacity="0.72"/>
<line x1="253.50" y1="515.30" x2="253.50" y2="524.70" stroke="#2323f2" stroke-width="1.0" stroke-opacity="0.72"/>
<line x1="234.80" y1="515.30" x2="234.80" y2="524.70" stroke="#2323f2" stroke-width="1.4" stroke-opacity="0.75"/>
<line x1="110.60" y1="517.80" x2="110.60" y2="522.50" stroke="#2323f2" stroke-width="1.2" />
<line x1="48.90" y1="515.30" x2="48.90" y2="524.60" stroke="#2323f2" stroke-width="1.8" />
<rect x="188.2" y="515.2" width="7.6" height="9.7" fill="#2323f2"/>
<rect x="256.8" y="517.8" width="24.1" height="4.5" fill="#2323f2"/>
<path d="M48.1,513.8 V508.0 H53.2" fill="none" stroke="#111" stroke-width="1.1"/>
<path d="M52.4,506.1 L55.4,508 L52.4,509.9 Z" fill="#111"/>
<text transform="translate(353.80,298.20) scale(1,1.045)" font-size="12.5" fill="#1a1a1a" text-anchor="start" >D</text>
<rect x="420.6" y="289.8" width="17.5" height="7.7" fill="#5f9cf6"/>
<rect x="420.6" y="306.2" width="17.5" height="7.7" fill="#ef9b48"/>
<text transform="translate(441.60,295.40) scale(1,1.045)" font-size="9.8" fill="#1a1a1a" text-anchor="start" >sh-vector</text>
<text transform="translate(441.60,311.70) scale(1,1.045)" font-size="9.95" fill="#1a1a1a" text-anchor="start" >sh-ALKBH5</text>
<line x1="413.50" y1="333.00" x2="413.50" y2="513.60" stroke="#3a3a3a" stroke-width="1.1" />
<line x1="413.50" y1="513.60" x2="682.80" y2="513.60" stroke="#3a3a3a" stroke-width="1.1" />
<line x1="406.00" y1="513.60" x2="413.50" y2="513.60" stroke="#3a3a3a" stroke-width="1.0" />
<text transform="translate(403.40,517.10) scale(1,1.045)" font-size="9.5" fill="#1a1a1a" text-anchor="end" >0</text>
<line x1="406.00" y1="477.50" x2="413.50" y2="477.50" stroke="#3a3a3a" stroke-width="1.0" />
<text transform="translate(403.40,481.00) scale(1,1.045)" font-size="9.5" fill="#1a1a1a" text-anchor="end" >1</text>
<line x1="406.00" y1="441.40" x2="413.50" y2="441.40" stroke="#3a3a3a" stroke-width="1.0" />
<text transform="translate(403.40,444.90) scale(1,1.045)" font-size="9.5" fill="#1a1a1a" text-anchor="end" >2</text>
<line x1="406.00" y1="405.30" x2="413.50" y2="405.30" stroke="#3a3a3a" stroke-width="1.0" />
<text transform="translate(403.40,408.80) scale(1,1.045)" font-size="9.5" fill="#1a1a1a" text-anchor="end" >3</text>
<line x1="406.00" y1="369.20" x2="413.50" y2="369.20" stroke="#3a3a3a" stroke-width="1.0" />
<text transform="translate(403.40,372.70) scale(1,1.045)" font-size="9.5" fill="#1a1a1a" text-anchor="end" >4</text>
<line x1="406.00" y1="333.10" x2="413.50" y2="333.10" stroke="#3a3a3a" stroke-width="1.0" />
<text transform="translate(403.40,336.60) scale(1,1.045)" font-size="9.5" fill="#1a1a1a" text-anchor="end" >5</text>
<line x1="475.50" y1="513.60" x2="475.50" y2="518.00" stroke="#3a3a3a" stroke-width="1.0" />
<line x1="618.80" y1="513.60" x2="618.80" y2="518.00" stroke="#3a3a3a" stroke-width="1.0" />
<text transform="translate(476.00,527.40) scale(1,1.045)" font-size="10.3" fill="#1a1a1a" text-anchor="middle" >IgG</text>
<text transform="translate(619.20,527.30) scale(1,1.045)" font-size="10.3" fill="#1a1a1a" text-anchor="middle" >RIP</text>
<text transform="translate(387.3,422) rotate(-90)" font-size="9.3" fill="#1a1a1a" text-anchor="middle">CIITA mRNA (% of input)</text>
<rect x="431.9" y="478.0" width="34.5" height="35.6" fill="#69a5f8" stroke="#4d63f0" stroke-width="1"/>
<line x1="449.15" y1="478.00" x2="449.15" y2="474.00" stroke="#4d63f0" stroke-width="1" />
<line x1="440.52" y1="474.00" x2="457.77" y2="474.00" stroke="#4d63f0" stroke-width="1" />
<rect x="485.3" y="478.4" width="34.9" height="35.2" fill="#ee9c4a" stroke="#ef8c34" stroke-width="1"/>
<line x1="502.75" y1="478.40" x2="502.75" y2="474.40" stroke="#ef8c34" stroke-width="1" />
<line x1="494.02" y1="474.40" x2="511.48" y2="474.40" stroke="#ef8c34" stroke-width="1" />
<rect x="575.3" y="432.6" width="34.1" height="81.0" fill="#69a5f8" stroke="#4d63f0" stroke-width="1"/>
<line x1="592.35" y1="432.60" x2="592.35" y2="426.70" stroke="#4d63f0" stroke-width="1" />
<line x1="583.82" y1="426.70" x2="600.87" y2="426.70" stroke="#4d63f0" stroke-width="1" />
<rect x="628.9" y="354.5" width="34.1" height="159.1" fill="#ee9c4a" stroke="#ef8c34" stroke-width="1"/>
<line x1="645.95" y1="354.50" x2="645.95" y2="347.50" stroke="#ef8c34" stroke-width="1" />
<line x1="637.43" y1="347.50" x2="654.48" y2="347.50" stroke="#ef8c34" stroke-width="1" />
<path d="M597.2,344.4 V335.6 H644 V344.4" fill="none" stroke="#555" stroke-width="1.1"/>
<text transform="translate(620.20,331.90) scale(1,1.045)" font-size="10.4" fill="#1a1a1a" text-anchor="middle" >p&lt;0.001</text>
<text transform="translate(620.80,325.80) scale(1,1.045)" font-size="12" fill="#1a1a1a" text-anchor="middle" stroke="#1a1a1a" stroke-width="0.25">***</text>
</svg></body></html>
